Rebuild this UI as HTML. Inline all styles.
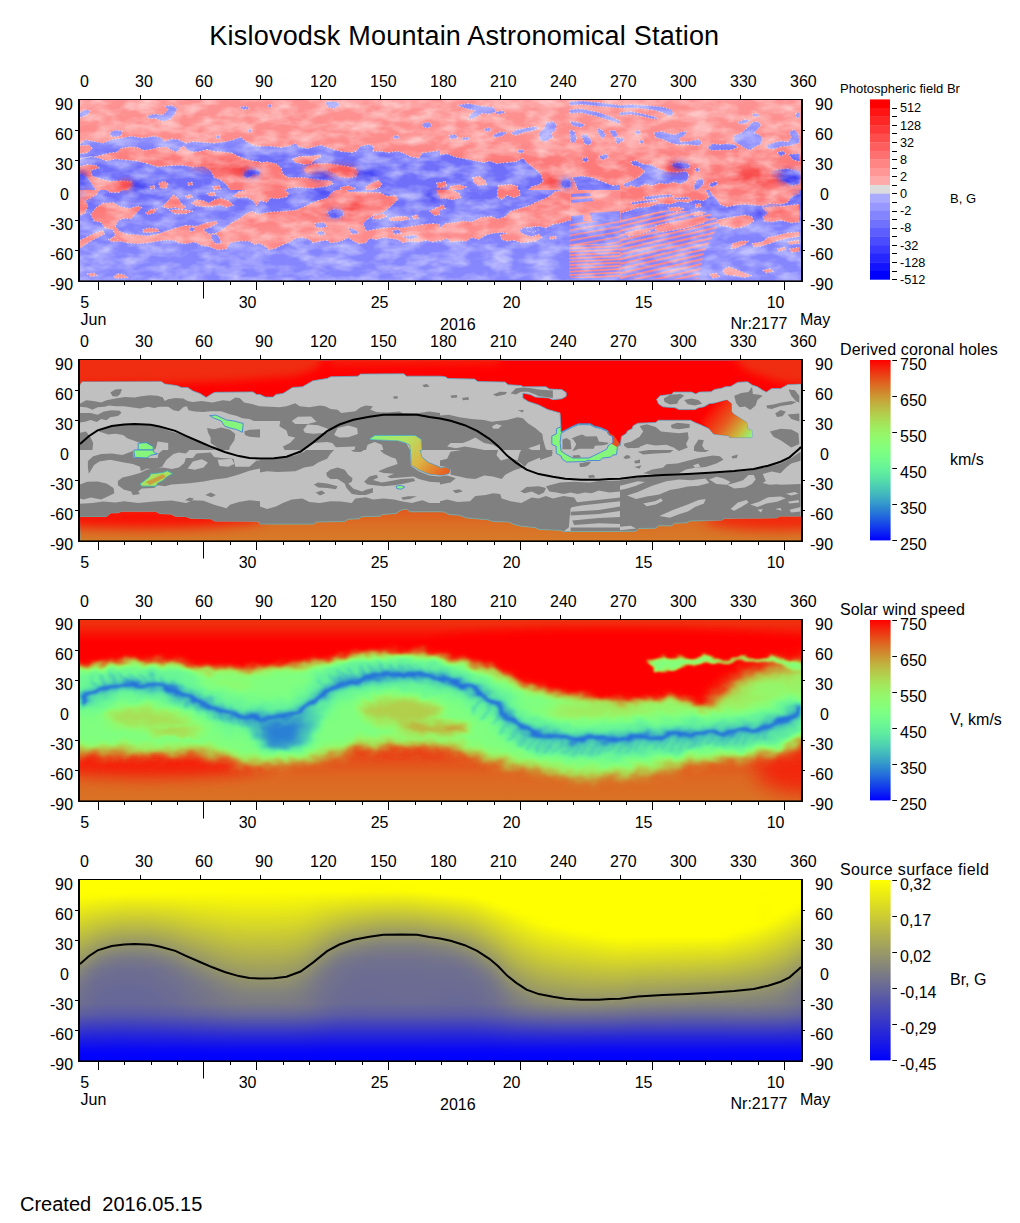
<!DOCTYPE html>
<html><head><meta charset="utf-8"><title>Kislovodsk Mountain Astronomical Station</title>
<style>html,body{margin:0;padding:0;background:#fff}svg{display:block}text{font-family:"Liberation Sans", sans-serif;fill:#000}</style></head><body>
<svg width="1020" height="1223" viewBox="0 0 1020 1223">
<defs>
<linearGradient id="gv" x1="0" y1="0" x2="0" y2="1"><stop offset="0.0000" stop-color="#ff0000"/><stop offset="0.0417" stop-color="#f4210b"/><stop offset="0.0833" stop-color="#ea4215"/><stop offset="0.1250" stop-color="#df6220"/><stop offset="0.1667" stop-color="#d47f2a"/><stop offset="0.2083" stop-color="#ca9b35"/><stop offset="0.2500" stop-color="#bfb440"/><stop offset="0.2917" stop-color="#b5ca4a"/><stop offset="0.3333" stop-color="#aadd55"/><stop offset="0.3750" stop-color="#9fec60"/><stop offset="0.4167" stop-color="#95f66a"/><stop offset="0.4583" stop-color="#8afd75"/><stop offset="0.5000" stop-color="#80ff80"/><stop offset="0.5417" stop-color="#75fd8a"/><stop offset="0.5833" stop-color="#6af695"/><stop offset="0.6250" stop-color="#60ec9f"/><stop offset="0.6667" stop-color="#55ddaa"/><stop offset="0.7083" stop-color="#4acab5"/><stop offset="0.7500" stop-color="#40b4bf"/><stop offset="0.7917" stop-color="#359bca"/><stop offset="0.8333" stop-color="#2a7fd4"/><stop offset="0.8750" stop-color="#2062df"/><stop offset="0.9167" stop-color="#1542ea"/><stop offset="0.9583" stop-color="#0b21f4"/><stop offset="1.0000" stop-color="#0000ff"/></linearGradient>
<linearGradient id="gs" x1="0" y1="0" x2="0" y2="1"><stop offset="0" stop-color="#ffff00"/><stop offset="0.5" stop-color="#808080"/><stop offset="1" stop-color="#0000ff"/></linearGradient>
<clipPath id="c1"><rect x="80" y="100" width="721" height="181"/></clipPath>
<clipPath id="c2"><rect x="80" y="360" width="721" height="181"/></clipPath>
<clipPath id="c3"><rect x="80" y="620" width="721" height="181"/></clipPath>
<clipPath id="c4"><rect x="80" y="880" width="721" height="181"/></clipPath>
</defs>
<rect width="1020" height="1223" fill="#fff"/>
<text x="209.3" y="45.3" font-size="27" text-anchor="start" letter-spacing="0.22">Kislovodsk Mountain Astronomical Station</text>
<defs>
<filter id="fcv" x="0" y="0" width="1" height="1" color-interpolation-filters="sRGB"><feComponentTransfer><feFuncR type="table" tableValues="0.0000 0.0312 0.0625 0.0938 0.1250 0.1562 0.1875 0.2188 0.2500 0.2812 0.3125 0.3438 0.3750 0.4062 0.4375 0.4688 0.5000 0.5312 0.5625 0.5938 0.6250 0.6562 0.6875 0.7188 0.7500 0.7812 0.8125 0.8438 0.8750 0.9062 0.9375 0.9688 1.0000"/><feFuncG type="table" tableValues="0.0000 0.0980 0.1951 0.2903 0.3827 0.4714 0.5556 0.6344 0.7071 0.7730 0.8315 0.8819 0.9239 0.9569 0.9808 0.9952 1.0000 0.9952 0.9808 0.9569 0.9239 0.8819 0.8315 0.7730 0.7071 0.6344 0.5556 0.4714 0.3827 0.2903 0.1951 0.0980 0.0000"/><feFuncB type="table" tableValues="1.0000 0.9688 0.9375 0.9062 0.8750 0.8438 0.8125 0.7812 0.7500 0.7188 0.6875 0.6562 0.6250 0.5938 0.5625 0.5312 0.5000 0.4688 0.4375 0.4062 0.3750 0.3438 0.3125 0.2812 0.2500 0.2188 0.1875 0.1562 0.1250 0.0938 0.0625 0.0312 0.0000"/></feComponentTransfer></filter>
<filter id="b1" x="-50%" y="-50%" width="200%" height="200%" color-interpolation-filters="sRGB"><feGaussianBlur stdDeviation="1"/></filter>
<filter id="b2" x="-50%" y="-50%" width="200%" height="200%" color-interpolation-filters="sRGB"><feGaussianBlur stdDeviation="2"/></filter>
<filter id="b3" x="-50%" y="-50%" width="200%" height="200%" color-interpolation-filters="sRGB"><feGaussianBlur stdDeviation="3"/></filter>
<filter id="b4" x="-50%" y="-50%" width="200%" height="200%" color-interpolation-filters="sRGB"><feGaussianBlur stdDeviation="4"/></filter>
<filter id="b5" x="-50%" y="-50%" width="200%" height="200%" color-interpolation-filters="sRGB"><feGaussianBlur stdDeviation="5"/></filter>
<filter id="b6" x="-50%" y="-50%" width="200%" height="200%" color-interpolation-filters="sRGB"><feGaussianBlur stdDeviation="6"/></filter>
<filter id="b8" x="-50%" y="-50%" width="200%" height="200%" color-interpolation-filters="sRGB"><feGaussianBlur stdDeviation="8"/></filter>
<filter id="b10" x="-50%" y="-50%" width="200%" height="200%" color-interpolation-filters="sRGB"><feGaussianBlur stdDeviation="10"/></filter>
<filter id="b12" x="-50%" y="-50%" width="200%" height="200%" color-interpolation-filters="sRGB"><feGaussianBlur stdDeviation="12"/></filter>
<filter id="b16" x="-50%" y="-50%" width="200%" height="200%" color-interpolation-filters="sRGB"><feGaussianBlur stdDeviation="16"/></filter>
<filter id="b20" x="-50%" y="-50%" width="200%" height="200%" color-interpolation-filters="sRGB"><feGaussianBlur stdDeviation="20"/></filter>
</defs>
<defs>
<linearGradient id="s0" x1="0" y1="0" x2="0" y2="1"><stop offset="0.000" stop-color="#ffff00"/><stop offset="0.062" stop-color="#ffff00"/><stop offset="0.093" stop-color="#fefe01"/><stop offset="0.124" stop-color="#f5f50a"/><stop offset="0.249" stop-color="#d2d22d"/><stop offset="0.497" stop-color="#8a8a75"/><stop offset="0.559" stop-color="#7a7a85"/><stop offset="0.622" stop-color="#73738c"/><stop offset="0.684" stop-color="#6f6f90"/><stop offset="0.746" stop-color="#5e5ea1"/><stop offset="0.870" stop-color="#2323dc"/><stop offset="0.932" stop-color="#0a0af5"/><stop offset="0.963" stop-color="#0303fc"/><stop offset="0.994" stop-color="#0000ff"/></linearGradient>
<linearGradient id="s1" x1="0" y1="0" x2="0" y2="1"><stop offset="0.000" stop-color="#ffff00"/><stop offset="0.062" stop-color="#ffff00"/><stop offset="0.093" stop-color="#fefe01"/><stop offset="0.124" stop-color="#f5f50a"/><stop offset="0.249" stop-color="#d2d22d"/><stop offset="0.497" stop-color="#8a8a75"/><stop offset="0.559" stop-color="#7a7a85"/><stop offset="0.622" stop-color="#73738c"/><stop offset="0.684" stop-color="#6f6f90"/><stop offset="0.746" stop-color="#5e5ea1"/><stop offset="0.870" stop-color="#2323dc"/><stop offset="0.932" stop-color="#0a0af5"/><stop offset="0.963" stop-color="#0303fc"/><stop offset="0.994" stop-color="#0000ff"/></linearGradient>
<linearGradient id="s2" x1="0" y1="0" x2="0" y2="1"><stop offset="0.000" stop-color="#ffff00"/><stop offset="0.062" stop-color="#ffff00"/><stop offset="0.093" stop-color="#fefe01"/><stop offset="0.124" stop-color="#f5f50a"/><stop offset="0.249" stop-color="#d2d22d"/><stop offset="0.497" stop-color="#8a8a75"/><stop offset="0.559" stop-color="#7a7a85"/><stop offset="0.622" stop-color="#73738c"/><stop offset="0.684" stop-color="#6f6f90"/><stop offset="0.746" stop-color="#5e5ea1"/><stop offset="0.870" stop-color="#2323dc"/><stop offset="0.932" stop-color="#0a0af5"/><stop offset="0.963" stop-color="#0303fc"/><stop offset="0.994" stop-color="#0000ff"/></linearGradient>
<linearGradient id="s3" x1="0" y1="0" x2="0" y2="1"><stop offset="0.000" stop-color="#ffff00"/><stop offset="0.062" stop-color="#ffff00"/><stop offset="0.093" stop-color="#fdfd02"/><stop offset="0.124" stop-color="#f4f40b"/><stop offset="0.249" stop-color="#cfcf30"/><stop offset="0.497" stop-color="#83837c"/><stop offset="0.559" stop-color="#767689"/><stop offset="0.622" stop-color="#70708f"/><stop offset="0.684" stop-color="#6d6d92"/><stop offset="0.746" stop-color="#5c5ca3"/><stop offset="0.870" stop-color="#2222dd"/><stop offset="0.932" stop-color="#0a0af5"/><stop offset="0.963" stop-color="#0303fc"/><stop offset="0.994" stop-color="#0000ff"/></linearGradient>
<linearGradient id="s4" x1="0" y1="0" x2="0" y2="1"><stop offset="0.000" stop-color="#ffff00"/><stop offset="0.062" stop-color="#ffff00"/><stop offset="0.093" stop-color="#fcfc03"/><stop offset="0.124" stop-color="#f2f20d"/><stop offset="0.249" stop-color="#c9c936"/><stop offset="0.497" stop-color="#787887"/><stop offset="0.559" stop-color="#6f6f90"/><stop offset="0.622" stop-color="#6b6b94"/><stop offset="0.684" stop-color="#696996"/><stop offset="0.746" stop-color="#5959a6"/><stop offset="0.870" stop-color="#2121de"/><stop offset="0.932" stop-color="#0a0af5"/><stop offset="0.963" stop-color="#0303fc"/><stop offset="0.994" stop-color="#0000ff"/></linearGradient>
<linearGradient id="s5" x1="0" y1="0" x2="0" y2="1"><stop offset="0.000" stop-color="#ffff00"/><stop offset="0.062" stop-color="#ffff00"/><stop offset="0.093" stop-color="#fbfb04"/><stop offset="0.124" stop-color="#f0f00f"/><stop offset="0.249" stop-color="#c5c53a"/><stop offset="0.373" stop-color="#999966"/><stop offset="0.435" stop-color="#82827d"/><stop offset="0.497" stop-color="#72728d"/><stop offset="0.559" stop-color="#6b6b94"/><stop offset="0.622" stop-color="#696996"/><stop offset="0.684" stop-color="#676798"/><stop offset="0.746" stop-color="#5858a7"/><stop offset="0.870" stop-color="#2121de"/><stop offset="0.932" stop-color="#0a0af5"/><stop offset="0.963" stop-color="#0303fc"/><stop offset="0.994" stop-color="#0000ff"/></linearGradient>
<linearGradient id="s6" x1="0" y1="0" x2="0" y2="1"><stop offset="0.000" stop-color="#ffff00"/><stop offset="0.062" stop-color="#ffff00"/><stop offset="0.078" stop-color="#ffff00"/><stop offset="0.093" stop-color="#fafa05"/><stop offset="0.124" stop-color="#efef10"/><stop offset="0.249" stop-color="#c2c23d"/><stop offset="0.373" stop-color="#94946b"/><stop offset="0.435" stop-color="#7d7d82"/><stop offset="0.497" stop-color="#70708f"/><stop offset="0.622" stop-color="#686897"/><stop offset="0.684" stop-color="#666699"/><stop offset="0.746" stop-color="#5757a8"/><stop offset="0.870" stop-color="#2121de"/><stop offset="0.932" stop-color="#0a0af5"/><stop offset="0.963" stop-color="#0303fc"/><stop offset="0.994" stop-color="#0000ff"/></linearGradient>
<linearGradient id="s7" x1="0" y1="0" x2="0" y2="1"><stop offset="0.000" stop-color="#ffff00"/><stop offset="0.062" stop-color="#ffff00"/><stop offset="0.078" stop-color="#ffff00"/><stop offset="0.093" stop-color="#f9f906"/><stop offset="0.124" stop-color="#eded12"/><stop offset="0.249" stop-color="#bfbf40"/><stop offset="0.373" stop-color="#90906f"/><stop offset="0.435" stop-color="#7a7a85"/><stop offset="0.497" stop-color="#6e6e91"/><stop offset="0.622" stop-color="#676798"/><stop offset="0.684" stop-color="#666699"/><stop offset="0.746" stop-color="#5757a8"/><stop offset="0.870" stop-color="#2020df"/><stop offset="0.932" stop-color="#0909f6"/><stop offset="0.963" stop-color="#0303fc"/><stop offset="0.994" stop-color="#0000ff"/></linearGradient>
<linearGradient id="s8" x1="0" y1="0" x2="0" y2="1"><stop offset="0.000" stop-color="#ffff00"/><stop offset="0.062" stop-color="#ffff00"/><stop offset="0.078" stop-color="#fefe01"/><stop offset="0.093" stop-color="#f8f807"/><stop offset="0.124" stop-color="#ecec13"/><stop offset="0.249" stop-color="#bdbd42"/><stop offset="0.373" stop-color="#8e8e71"/><stop offset="0.435" stop-color="#787887"/><stop offset="0.497" stop-color="#6d6d92"/><stop offset="0.622" stop-color="#676798"/><stop offset="0.684" stop-color="#666699"/><stop offset="0.746" stop-color="#5757a8"/><stop offset="0.870" stop-color="#2020df"/><stop offset="0.932" stop-color="#0909f6"/><stop offset="0.963" stop-color="#0303fc"/><stop offset="0.994" stop-color="#0000ff"/></linearGradient>
<linearGradient id="s9" x1="0" y1="0" x2="0" y2="1"><stop offset="0.000" stop-color="#ffff00"/><stop offset="0.062" stop-color="#ffff00"/><stop offset="0.093" stop-color="#f7f708"/><stop offset="0.124" stop-color="#ebeb14"/><stop offset="0.249" stop-color="#bdbd42"/><stop offset="0.373" stop-color="#8d8d72"/><stop offset="0.435" stop-color="#787887"/><stop offset="0.497" stop-color="#6d6d92"/><stop offset="0.622" stop-color="#676798"/><stop offset="0.684" stop-color="#666699"/><stop offset="0.746" stop-color="#5757a8"/><stop offset="0.870" stop-color="#2121de"/><stop offset="0.932" stop-color="#0909f6"/><stop offset="0.963" stop-color="#0303fc"/><stop offset="0.994" stop-color="#0000ff"/></linearGradient>
<linearGradient id="s10" x1="0" y1="0" x2="0" y2="1"><stop offset="0.000" stop-color="#ffff00"/><stop offset="0.062" stop-color="#ffff00"/><stop offset="0.078" stop-color="#fdfd02"/><stop offset="0.093" stop-color="#f7f708"/><stop offset="0.124" stop-color="#ebeb14"/><stop offset="0.249" stop-color="#bdbd42"/><stop offset="0.373" stop-color="#8e8e71"/><stop offset="0.435" stop-color="#797986"/><stop offset="0.497" stop-color="#6e6e91"/><stop offset="0.622" stop-color="#686897"/><stop offset="0.684" stop-color="#666699"/><stop offset="0.746" stop-color="#5757a8"/><stop offset="0.870" stop-color="#2121de"/><stop offset="0.932" stop-color="#0a0af5"/><stop offset="0.963" stop-color="#0303fc"/><stop offset="0.994" stop-color="#0000ff"/></linearGradient>
<linearGradient id="s11" x1="0" y1="0" x2="0" y2="1"><stop offset="0.000" stop-color="#ffff00"/><stop offset="0.062" stop-color="#ffff00"/><stop offset="0.078" stop-color="#fdfd02"/><stop offset="0.093" stop-color="#f7f708"/><stop offset="0.124" stop-color="#ebeb14"/><stop offset="0.249" stop-color="#bdbd42"/><stop offset="0.373" stop-color="#8e8e71"/><stop offset="0.435" stop-color="#797986"/><stop offset="0.497" stop-color="#6e6e91"/><stop offset="0.622" stop-color="#686897"/><stop offset="0.684" stop-color="#676798"/><stop offset="0.746" stop-color="#5858a7"/><stop offset="0.870" stop-color="#2121de"/><stop offset="0.932" stop-color="#0a0af5"/><stop offset="0.963" stop-color="#0303fc"/><stop offset="0.994" stop-color="#0000ff"/></linearGradient>
<linearGradient id="s12" x1="0" y1="0" x2="0" y2="1"><stop offset="0.000" stop-color="#ffff00"/><stop offset="0.062" stop-color="#ffff00"/><stop offset="0.093" stop-color="#f7f708"/><stop offset="0.124" stop-color="#ecec13"/><stop offset="0.249" stop-color="#bfbf40"/><stop offset="0.373" stop-color="#91916e"/><stop offset="0.435" stop-color="#7c7c83"/><stop offset="0.497" stop-color="#70708f"/><stop offset="0.622" stop-color="#696996"/><stop offset="0.684" stop-color="#686897"/><stop offset="0.746" stop-color="#5858a7"/><stop offset="0.870" stop-color="#2121de"/><stop offset="0.932" stop-color="#0a0af5"/><stop offset="0.963" stop-color="#0303fc"/><stop offset="0.994" stop-color="#0000ff"/></linearGradient>
<linearGradient id="s13" x1="0" y1="0" x2="0" y2="1"><stop offset="0.000" stop-color="#ffff00"/><stop offset="0.062" stop-color="#ffff00"/><stop offset="0.093" stop-color="#f8f807"/><stop offset="0.124" stop-color="#eded12"/><stop offset="0.249" stop-color="#c1c13e"/><stop offset="0.373" stop-color="#969669"/><stop offset="0.435" stop-color="#80807f"/><stop offset="0.497" stop-color="#72728d"/><stop offset="0.622" stop-color="#6b6b94"/><stop offset="0.684" stop-color="#696996"/><stop offset="0.746" stop-color="#5a5aa5"/><stop offset="0.870" stop-color="#2222dd"/><stop offset="0.932" stop-color="#0a0af5"/><stop offset="0.963" stop-color="#0303fc"/><stop offset="0.994" stop-color="#0000ff"/></linearGradient>
<linearGradient id="s14" x1="0" y1="0" x2="0" y2="1"><stop offset="0.000" stop-color="#ffff00"/><stop offset="0.062" stop-color="#ffff00"/><stop offset="0.093" stop-color="#f8f807"/><stop offset="0.124" stop-color="#eded12"/><stop offset="0.249" stop-color="#c3c33c"/><stop offset="0.373" stop-color="#9a9a65"/><stop offset="0.435" stop-color="#84847b"/><stop offset="0.497" stop-color="#75758a"/><stop offset="0.559" stop-color="#6f6f90"/><stop offset="0.622" stop-color="#6c6c93"/><stop offset="0.684" stop-color="#6a6a95"/><stop offset="0.746" stop-color="#5b5ba4"/><stop offset="0.870" stop-color="#2222dd"/><stop offset="0.932" stop-color="#0a0af5"/><stop offset="0.963" stop-color="#0303fc"/><stop offset="0.994" stop-color="#0000ff"/></linearGradient>
<linearGradient id="s15" x1="0" y1="0" x2="0" y2="1"><stop offset="0.000" stop-color="#ffff00"/><stop offset="0.062" stop-color="#ffff00"/><stop offset="0.093" stop-color="#f8f807"/><stop offset="0.124" stop-color="#eeee11"/><stop offset="0.249" stop-color="#c7c738"/><stop offset="0.373" stop-color="#9f9f60"/><stop offset="0.435" stop-color="#8a8a75"/><stop offset="0.497" stop-color="#797986"/><stop offset="0.559" stop-color="#71718e"/><stop offset="0.622" stop-color="#6e6e91"/><stop offset="0.684" stop-color="#6c6c93"/><stop offset="0.746" stop-color="#5c5ca3"/><stop offset="0.870" stop-color="#2222dd"/><stop offset="0.932" stop-color="#0a0af5"/><stop offset="0.963" stop-color="#0303fc"/><stop offset="0.994" stop-color="#0000ff"/></linearGradient>
<linearGradient id="s16" x1="0" y1="0" x2="0" y2="1"><stop offset="0.000" stop-color="#ffff00"/><stop offset="0.062" stop-color="#ffff00"/><stop offset="0.093" stop-color="#f9f906"/><stop offset="0.124" stop-color="#efef10"/><stop offset="0.249" stop-color="#caca35"/><stop offset="0.497" stop-color="#7f7f80"/><stop offset="0.559" stop-color="#75758a"/><stop offset="0.622" stop-color="#71718e"/><stop offset="0.684" stop-color="#6e6e91"/><stop offset="0.746" stop-color="#5e5ea1"/><stop offset="0.870" stop-color="#2323dc"/><stop offset="0.932" stop-color="#0a0af5"/><stop offset="0.963" stop-color="#0303fc"/><stop offset="0.994" stop-color="#0000ff"/></linearGradient>
<linearGradient id="s17" x1="0" y1="0" x2="0" y2="1"><stop offset="0.000" stop-color="#ffff00"/><stop offset="0.062" stop-color="#ffff00"/><stop offset="0.093" stop-color="#f9f906"/><stop offset="0.124" stop-color="#f0f00f"/><stop offset="0.249" stop-color="#cdcd32"/><stop offset="0.497" stop-color="#84847b"/><stop offset="0.559" stop-color="#787887"/><stop offset="0.622" stop-color="#73738c"/><stop offset="0.684" stop-color="#70708f"/><stop offset="0.746" stop-color="#5f5fa0"/><stop offset="0.870" stop-color="#2424db"/><stop offset="0.932" stop-color="#0a0af5"/><stop offset="0.963" stop-color="#0303fc"/><stop offset="0.994" stop-color="#0000ff"/></linearGradient>
<linearGradient id="s18" x1="0" y1="0" x2="0" y2="1"><stop offset="0.000" stop-color="#ffff00"/><stop offset="0.062" stop-color="#ffff00"/><stop offset="0.124" stop-color="#f1f10e"/><stop offset="0.249" stop-color="#cfcf30"/><stop offset="0.497" stop-color="#8a8a75"/><stop offset="0.559" stop-color="#7c7c83"/><stop offset="0.622" stop-color="#75758a"/><stop offset="0.684" stop-color="#72728d"/><stop offset="0.746" stop-color="#60609f"/><stop offset="0.870" stop-color="#2424db"/><stop offset="0.932" stop-color="#0b0bf4"/><stop offset="0.963" stop-color="#0303fc"/><stop offset="0.994" stop-color="#0000ff"/></linearGradient>
<linearGradient id="s19" x1="0" y1="0" x2="0" y2="1"><stop offset="0.000" stop-color="#ffff00"/><stop offset="0.062" stop-color="#ffff00"/><stop offset="0.124" stop-color="#f1f10e"/><stop offset="0.249" stop-color="#d1d12e"/><stop offset="0.497" stop-color="#90906f"/><stop offset="0.559" stop-color="#80807f"/><stop offset="0.622" stop-color="#787887"/><stop offset="0.684" stop-color="#74748b"/><stop offset="0.746" stop-color="#62629d"/><stop offset="0.870" stop-color="#2525da"/><stop offset="0.932" stop-color="#0b0bf4"/><stop offset="0.963" stop-color="#0303fc"/><stop offset="0.994" stop-color="#0000ff"/></linearGradient>
<linearGradient id="s20" x1="0" y1="0" x2="0" y2="1"><stop offset="0.000" stop-color="#ffff00"/><stop offset="0.062" stop-color="#ffff00"/><stop offset="0.124" stop-color="#f2f20d"/><stop offset="0.249" stop-color="#d3d32c"/><stop offset="0.497" stop-color="#95956a"/><stop offset="0.559" stop-color="#85857a"/><stop offset="0.622" stop-color="#7b7b84"/><stop offset="0.684" stop-color="#767689"/><stop offset="0.746" stop-color="#63639c"/><stop offset="0.870" stop-color="#2525da"/><stop offset="0.932" stop-color="#0b0bf4"/><stop offset="0.963" stop-color="#0303fc"/><stop offset="0.994" stop-color="#0000ff"/></linearGradient>
<linearGradient id="s21" x1="0" y1="0" x2="0" y2="1"><stop offset="0.000" stop-color="#ffff00"/><stop offset="0.062" stop-color="#ffff00"/><stop offset="0.124" stop-color="#f2f20d"/><stop offset="0.249" stop-color="#d5d52a"/><stop offset="0.497" stop-color="#999966"/><stop offset="0.559" stop-color="#898976"/><stop offset="0.622" stop-color="#7e7e81"/><stop offset="0.684" stop-color="#777788"/><stop offset="0.746" stop-color="#65659a"/><stop offset="0.870" stop-color="#2525da"/><stop offset="0.932" stop-color="#0b0bf4"/><stop offset="0.963" stop-color="#0303fc"/><stop offset="0.994" stop-color="#0000ff"/></linearGradient>
<linearGradient id="s22" x1="0" y1="0" x2="0" y2="1"><stop offset="0.000" stop-color="#ffff00"/><stop offset="0.062" stop-color="#ffff00"/><stop offset="0.124" stop-color="#f3f30c"/><stop offset="0.249" stop-color="#d6d629"/><stop offset="0.497" stop-color="#9c9c63"/><stop offset="0.622" stop-color="#80807f"/><stop offset="0.684" stop-color="#797986"/><stop offset="0.746" stop-color="#666699"/><stop offset="0.870" stop-color="#2626d9"/><stop offset="0.932" stop-color="#0b0bf4"/><stop offset="0.963" stop-color="#0303fc"/><stop offset="0.994" stop-color="#0000ff"/></linearGradient>
<linearGradient id="s23" x1="0" y1="0" x2="0" y2="1"><stop offset="0.000" stop-color="#ffff00"/><stop offset="0.062" stop-color="#ffff00"/><stop offset="0.124" stop-color="#f3f30c"/><stop offset="0.249" stop-color="#d7d728"/><stop offset="0.497" stop-color="#9e9e61"/><stop offset="0.622" stop-color="#82827d"/><stop offset="0.684" stop-color="#7a7a85"/><stop offset="0.746" stop-color="#666699"/><stop offset="0.870" stop-color="#2626d9"/><stop offset="0.932" stop-color="#0b0bf4"/><stop offset="0.963" stop-color="#0303fc"/><stop offset="0.994" stop-color="#0000ff"/></linearGradient>
<linearGradient id="s24" x1="0" y1="0" x2="0" y2="1"><stop offset="0.000" stop-color="#ffff00"/><stop offset="0.062" stop-color="#ffff00"/><stop offset="0.124" stop-color="#f3f30c"/><stop offset="0.249" stop-color="#d7d728"/><stop offset="0.497" stop-color="#9f9f60"/><stop offset="0.622" stop-color="#83837c"/><stop offset="0.684" stop-color="#7a7a85"/><stop offset="0.746" stop-color="#666699"/><stop offset="0.870" stop-color="#2626d9"/><stop offset="0.932" stop-color="#0b0bf4"/><stop offset="0.963" stop-color="#0303fc"/><stop offset="0.994" stop-color="#0000ff"/></linearGradient>
<linearGradient id="s25" x1="0" y1="0" x2="0" y2="1"><stop offset="0.000" stop-color="#ffff00"/><stop offset="0.062" stop-color="#ffff00"/><stop offset="0.124" stop-color="#f3f30c"/><stop offset="0.249" stop-color="#d7d728"/><stop offset="0.497" stop-color="#a0a05f"/><stop offset="0.622" stop-color="#83837c"/><stop offset="0.684" stop-color="#7a7a85"/><stop offset="0.746" stop-color="#666699"/><stop offset="0.870" stop-color="#2626d9"/><stop offset="0.932" stop-color="#0b0bf4"/><stop offset="0.963" stop-color="#0303fc"/><stop offset="0.994" stop-color="#0000ff"/></linearGradient>
<linearGradient id="s26" x1="0" y1="0" x2="0" y2="1"><stop offset="0.000" stop-color="#ffff00"/><stop offset="0.062" stop-color="#ffff00"/><stop offset="0.124" stop-color="#f3f30c"/><stop offset="0.249" stop-color="#d7d728"/><stop offset="0.497" stop-color="#9f9f60"/><stop offset="0.622" stop-color="#83837c"/><stop offset="0.684" stop-color="#7a7a85"/><stop offset="0.746" stop-color="#666699"/><stop offset="0.870" stop-color="#2626d9"/><stop offset="0.932" stop-color="#0b0bf4"/><stop offset="0.963" stop-color="#0303fc"/><stop offset="0.994" stop-color="#0000ff"/></linearGradient>
<linearGradient id="s27" x1="0" y1="0" x2="0" y2="1"><stop offset="0.000" stop-color="#ffff00"/><stop offset="0.062" stop-color="#ffff00"/><stop offset="0.124" stop-color="#f3f30c"/><stop offset="0.249" stop-color="#d7d728"/><stop offset="0.497" stop-color="#9f9f60"/><stop offset="0.622" stop-color="#83837c"/><stop offset="0.684" stop-color="#7a7a85"/><stop offset="0.746" stop-color="#666699"/><stop offset="0.870" stop-color="#2626d9"/><stop offset="0.932" stop-color="#0b0bf4"/><stop offset="0.963" stop-color="#0303fc"/><stop offset="0.994" stop-color="#0000ff"/></linearGradient>
<linearGradient id="s28" x1="0" y1="0" x2="0" y2="1"><stop offset="0.000" stop-color="#ffff00"/><stop offset="0.062" stop-color="#ffff00"/><stop offset="0.124" stop-color="#f2f20d"/><stop offset="0.249" stop-color="#d6d629"/><stop offset="0.497" stop-color="#9e9e61"/><stop offset="0.622" stop-color="#82827d"/><stop offset="0.684" stop-color="#7a7a85"/><stop offset="0.746" stop-color="#666699"/><stop offset="0.870" stop-color="#2626d9"/><stop offset="0.932" stop-color="#0b0bf4"/><stop offset="0.963" stop-color="#0303fc"/><stop offset="0.994" stop-color="#0000ff"/></linearGradient>
<linearGradient id="s29" x1="0" y1="0" x2="0" y2="1"><stop offset="0.000" stop-color="#ffff00"/><stop offset="0.062" stop-color="#ffff00"/><stop offset="0.124" stop-color="#f2f20d"/><stop offset="0.249" stop-color="#d5d52a"/><stop offset="0.497" stop-color="#9b9b64"/><stop offset="0.622" stop-color="#80807f"/><stop offset="0.684" stop-color="#797986"/><stop offset="0.746" stop-color="#666699"/><stop offset="0.870" stop-color="#2626d9"/><stop offset="0.932" stop-color="#0b0bf4"/><stop offset="0.963" stop-color="#0303fc"/><stop offset="0.994" stop-color="#0000ff"/></linearGradient>
<linearGradient id="s30" x1="0" y1="0" x2="0" y2="1"><stop offset="0.000" stop-color="#ffff00"/><stop offset="0.062" stop-color="#ffff00"/><stop offset="0.124" stop-color="#f1f10e"/><stop offset="0.249" stop-color="#d3d32c"/><stop offset="0.497" stop-color="#979768"/><stop offset="0.559" stop-color="#888877"/><stop offset="0.622" stop-color="#7e7e81"/><stop offset="0.684" stop-color="#787887"/><stop offset="0.746" stop-color="#65659a"/><stop offset="0.870" stop-color="#2626d9"/><stop offset="0.932" stop-color="#0b0bf4"/><stop offset="0.963" stop-color="#0303fc"/><stop offset="0.994" stop-color="#0000ff"/></linearGradient>
<linearGradient id="s31" x1="0" y1="0" x2="0" y2="1"><stop offset="0.000" stop-color="#ffff00"/><stop offset="0.062" stop-color="#ffff00"/><stop offset="0.124" stop-color="#f0f00f"/><stop offset="0.249" stop-color="#d0d02f"/><stop offset="0.497" stop-color="#8f8f70"/><stop offset="0.559" stop-color="#81817e"/><stop offset="0.622" stop-color="#797986"/><stop offset="0.684" stop-color="#75758a"/><stop offset="0.715" stop-color="#6e6e91"/><stop offset="0.746" stop-color="#63639c"/><stop offset="0.870" stop-color="#2525da"/><stop offset="0.932" stop-color="#0b0bf4"/><stop offset="0.963" stop-color="#0303fc"/><stop offset="0.994" stop-color="#0000ff"/></linearGradient>
<linearGradient id="s32" x1="0" y1="0" x2="0" y2="1"><stop offset="0.000" stop-color="#ffff00"/><stop offset="0.062" stop-color="#ffff00"/><stop offset="0.124" stop-color="#eeee11"/><stop offset="0.249" stop-color="#cbcb34"/><stop offset="0.497" stop-color="#85857a"/><stop offset="0.559" stop-color="#7a7a85"/><stop offset="0.622" stop-color="#75758a"/><stop offset="0.684" stop-color="#72728d"/><stop offset="0.715" stop-color="#6b6b94"/><stop offset="0.746" stop-color="#61619e"/><stop offset="0.870" stop-color="#2424db"/><stop offset="0.932" stop-color="#0b0bf4"/><stop offset="0.963" stop-color="#0303fc"/><stop offset="0.994" stop-color="#0000ff"/></linearGradient>
<linearGradient id="s33" x1="0" y1="0" x2="0" y2="1"><stop offset="0.000" stop-color="#ffff00"/><stop offset="0.062" stop-color="#ffff00"/><stop offset="0.124" stop-color="#ecec13"/><stop offset="0.249" stop-color="#c6c639"/><stop offset="0.373" stop-color="#a0a05f"/><stop offset="0.435" stop-color="#8c8c73"/><stop offset="0.497" stop-color="#7b7b84"/><stop offset="0.559" stop-color="#74748b"/><stop offset="0.622" stop-color="#71718e"/><stop offset="0.684" stop-color="#6e6e91"/><stop offset="0.746" stop-color="#5e5ea1"/><stop offset="0.870" stop-color="#2323dc"/><stop offset="0.932" stop-color="#0a0af5"/><stop offset="0.963" stop-color="#0303fc"/><stop offset="0.994" stop-color="#0000ff"/></linearGradient>
<linearGradient id="s34" x1="0" y1="0" x2="0" y2="1"><stop offset="0.000" stop-color="#ffff00"/><stop offset="0.062" stop-color="#ffff00"/><stop offset="0.124" stop-color="#eaea15"/><stop offset="0.249" stop-color="#c1c13e"/><stop offset="0.373" stop-color="#979768"/><stop offset="0.435" stop-color="#82827d"/><stop offset="0.497" stop-color="#75758a"/><stop offset="0.622" stop-color="#6e6e91"/><stop offset="0.684" stop-color="#6c6c93"/><stop offset="0.746" stop-color="#5c5ca3"/><stop offset="0.870" stop-color="#2222dd"/><stop offset="0.932" stop-color="#0a0af5"/><stop offset="0.963" stop-color="#0303fc"/><stop offset="0.994" stop-color="#0000ff"/></linearGradient>
<linearGradient id="s35" x1="0" y1="0" x2="0" y2="1"><stop offset="0.000" stop-color="#ffff00"/><stop offset="0.062" stop-color="#ffff00"/><stop offset="0.124" stop-color="#e9e916"/><stop offset="0.249" stop-color="#bcbc43"/><stop offset="0.373" stop-color="#8e8e71"/><stop offset="0.435" stop-color="#7b7b84"/><stop offset="0.497" stop-color="#71718e"/><stop offset="0.622" stop-color="#6c6c93"/><stop offset="0.684" stop-color="#6a6a95"/><stop offset="0.746" stop-color="#5a5aa5"/><stop offset="0.870" stop-color="#2222dd"/><stop offset="0.932" stop-color="#0a0af5"/><stop offset="0.963" stop-color="#0303fc"/><stop offset="0.994" stop-color="#0000ff"/></linearGradient>
<linearGradient id="s36" x1="0" y1="0" x2="0" y2="1"><stop offset="0.000" stop-color="#ffff00"/><stop offset="0.062" stop-color="#ffff00"/><stop offset="0.124" stop-color="#e7e718"/><stop offset="0.249" stop-color="#b8b847"/><stop offset="0.373" stop-color="#898976"/><stop offset="0.435" stop-color="#777788"/><stop offset="0.497" stop-color="#6f6f90"/><stop offset="0.622" stop-color="#6b6b94"/><stop offset="0.684" stop-color="#696996"/><stop offset="0.746" stop-color="#5a5aa5"/><stop offset="0.870" stop-color="#2222dd"/><stop offset="0.932" stop-color="#0a0af5"/><stop offset="0.963" stop-color="#0303fc"/><stop offset="0.994" stop-color="#0000ff"/></linearGradient>
<linearGradient id="s37" x1="0" y1="0" x2="0" y2="1"><stop offset="0.000" stop-color="#ffff00"/><stop offset="0.062" stop-color="#fefe01"/><stop offset="0.124" stop-color="#e6e619"/><stop offset="0.249" stop-color="#b4b44b"/><stop offset="0.373" stop-color="#84847b"/><stop offset="0.435" stop-color="#75758a"/><stop offset="0.497" stop-color="#6e6e91"/><stop offset="0.622" stop-color="#6a6a95"/><stop offset="0.684" stop-color="#696996"/><stop offset="0.746" stop-color="#5959a6"/><stop offset="0.870" stop-color="#2222dd"/><stop offset="0.932" stop-color="#0a0af5"/><stop offset="0.963" stop-color="#0303fc"/><stop offset="0.994" stop-color="#0000ff"/></linearGradient>
<linearGradient id="s38" x1="0" y1="0" x2="0" y2="1"><stop offset="0.000" stop-color="#ffff00"/><stop offset="0.062" stop-color="#fefe01"/><stop offset="0.124" stop-color="#e5e51a"/><stop offset="0.249" stop-color="#b2b24d"/><stop offset="0.373" stop-color="#82827d"/><stop offset="0.435" stop-color="#73738c"/><stop offset="0.497" stop-color="#6d6d92"/><stop offset="0.622" stop-color="#6a6a95"/><stop offset="0.684" stop-color="#696996"/><stop offset="0.746" stop-color="#5959a6"/><stop offset="0.870" stop-color="#2222dd"/><stop offset="0.932" stop-color="#0a0af5"/><stop offset="0.963" stop-color="#0303fc"/><stop offset="0.994" stop-color="#0000ff"/></linearGradient>
<linearGradient id="s39" x1="0" y1="0" x2="0" y2="1"><stop offset="0.000" stop-color="#ffff00"/><stop offset="0.062" stop-color="#fdfd02"/><stop offset="0.124" stop-color="#e3e31c"/><stop offset="0.249" stop-color="#afaf50"/><stop offset="0.311" stop-color="#95956a"/><stop offset="0.373" stop-color="#7f7f80"/><stop offset="0.435" stop-color="#72728d"/><stop offset="0.497" stop-color="#6d6d92"/><stop offset="0.622" stop-color="#6a6a95"/><stop offset="0.684" stop-color="#696996"/><stop offset="0.746" stop-color="#5a5aa5"/><stop offset="0.870" stop-color="#2222dd"/><stop offset="0.932" stop-color="#0a0af5"/><stop offset="0.963" stop-color="#0303fc"/><stop offset="0.994" stop-color="#0000ff"/></linearGradient>
<linearGradient id="s40" x1="0" y1="0" x2="0" y2="1"><stop offset="0.000" stop-color="#ffff00"/><stop offset="0.062" stop-color="#fdfd02"/><stop offset="0.124" stop-color="#e2e21d"/><stop offset="0.249" stop-color="#adad52"/><stop offset="0.311" stop-color="#93936c"/><stop offset="0.373" stop-color="#7e7e81"/><stop offset="0.435" stop-color="#72728d"/><stop offset="0.497" stop-color="#6d6d92"/><stop offset="0.622" stop-color="#6a6a95"/><stop offset="0.684" stop-color="#696996"/><stop offset="0.746" stop-color="#5a5aa5"/><stop offset="0.870" stop-color="#2222dd"/><stop offset="0.932" stop-color="#0a0af5"/><stop offset="0.963" stop-color="#0303fc"/><stop offset="0.994" stop-color="#0000ff"/></linearGradient>
<linearGradient id="s41" x1="0" y1="0" x2="0" y2="1"><stop offset="0.000" stop-color="#ffff00"/><stop offset="0.062" stop-color="#fdfd02"/><stop offset="0.124" stop-color="#e2e21d"/><stop offset="0.249" stop-color="#acac53"/><stop offset="0.311" stop-color="#92926d"/><stop offset="0.373" stop-color="#7d7d82"/><stop offset="0.435" stop-color="#72728d"/><stop offset="0.497" stop-color="#6d6d92"/><stop offset="0.622" stop-color="#6b6b94"/><stop offset="0.684" stop-color="#696996"/><stop offset="0.746" stop-color="#5a5aa5"/><stop offset="0.870" stop-color="#2222dd"/><stop offset="0.932" stop-color="#0a0af5"/><stop offset="0.963" stop-color="#0303fc"/><stop offset="0.994" stop-color="#0000ff"/></linearGradient>
<linearGradient id="s42" x1="0" y1="0" x2="0" y2="1"><stop offset="0.000" stop-color="#ffff00"/><stop offset="0.031" stop-color="#ffff00"/><stop offset="0.047" stop-color="#ffff00"/><stop offset="0.062" stop-color="#fcfc03"/><stop offset="0.124" stop-color="#e1e11e"/><stop offset="0.249" stop-color="#acac53"/><stop offset="0.311" stop-color="#92926d"/><stop offset="0.373" stop-color="#7d7d82"/><stop offset="0.435" stop-color="#72728d"/><stop offset="0.497" stop-color="#6d6d92"/><stop offset="0.622" stop-color="#6b6b94"/><stop offset="0.684" stop-color="#6a6a95"/><stop offset="0.746" stop-color="#5a5aa5"/><stop offset="0.870" stop-color="#2222dd"/><stop offset="0.932" stop-color="#0a0af5"/><stop offset="0.963" stop-color="#0303fc"/><stop offset="0.994" stop-color="#0000ff"/></linearGradient>
<linearGradient id="s43" x1="0" y1="0" x2="0" y2="1"><stop offset="0.000" stop-color="#ffff00"/><stop offset="0.062" stop-color="#fdfd02"/><stop offset="0.124" stop-color="#e2e21d"/><stop offset="0.249" stop-color="#acac53"/><stop offset="0.311" stop-color="#92926d"/><stop offset="0.373" stop-color="#7d7d82"/><stop offset="0.435" stop-color="#72728d"/><stop offset="0.497" stop-color="#6d6d92"/><stop offset="0.622" stop-color="#6b6b94"/><stop offset="0.684" stop-color="#6a6a95"/><stop offset="0.746" stop-color="#5a5aa5"/><stop offset="0.870" stop-color="#2222dd"/><stop offset="0.932" stop-color="#0a0af5"/><stop offset="0.963" stop-color="#0303fc"/><stop offset="0.994" stop-color="#0000ff"/></linearGradient>
<linearGradient id="s44" x1="0" y1="0" x2="0" y2="1"><stop offset="0.000" stop-color="#ffff00"/><stop offset="0.062" stop-color="#fefe01"/><stop offset="0.124" stop-color="#e3e31c"/><stop offset="0.249" stop-color="#adad52"/><stop offset="0.311" stop-color="#92926d"/><stop offset="0.373" stop-color="#7d7d82"/><stop offset="0.435" stop-color="#72728d"/><stop offset="0.497" stop-color="#6d6d92"/><stop offset="0.622" stop-color="#6b6b94"/><stop offset="0.684" stop-color="#6a6a95"/><stop offset="0.746" stop-color="#5a5aa5"/><stop offset="0.870" stop-color="#2222dd"/><stop offset="0.932" stop-color="#0a0af5"/><stop offset="0.963" stop-color="#0303fc"/><stop offset="0.994" stop-color="#0000ff"/></linearGradient>
<linearGradient id="s45" x1="0" y1="0" x2="0" y2="1"><stop offset="0.000" stop-color="#ffff00"/><stop offset="0.062" stop-color="#ffff00"/><stop offset="0.124" stop-color="#e5e51a"/><stop offset="0.249" stop-color="#aeae51"/><stop offset="0.311" stop-color="#93936c"/><stop offset="0.373" stop-color="#7e7e81"/><stop offset="0.435" stop-color="#72728d"/><stop offset="0.497" stop-color="#6d6d92"/><stop offset="0.622" stop-color="#6b6b94"/><stop offset="0.684" stop-color="#6a6a95"/><stop offset="0.746" stop-color="#5a5aa5"/><stop offset="0.870" stop-color="#2222dd"/><stop offset="0.932" stop-color="#0a0af5"/><stop offset="0.963" stop-color="#0303fc"/><stop offset="0.994" stop-color="#0000ff"/></linearGradient>
<linearGradient id="s46" x1="0" y1="0" x2="0" y2="1"><stop offset="0.000" stop-color="#ffff00"/><stop offset="0.062" stop-color="#ffff00"/><stop offset="0.124" stop-color="#e7e718"/><stop offset="0.249" stop-color="#b1b14e"/><stop offset="0.311" stop-color="#969669"/><stop offset="0.373" stop-color="#80807f"/><stop offset="0.435" stop-color="#73738c"/><stop offset="0.497" stop-color="#6e6e91"/><stop offset="0.622" stop-color="#6b6b94"/><stop offset="0.684" stop-color="#6a6a95"/><stop offset="0.746" stop-color="#5a5aa5"/><stop offset="0.870" stop-color="#2222dd"/><stop offset="0.932" stop-color="#0a0af5"/><stop offset="0.963" stop-color="#0303fc"/><stop offset="0.994" stop-color="#0000ff"/></linearGradient>
<linearGradient id="s47" x1="0" y1="0" x2="0" y2="1"><stop offset="0.000" stop-color="#ffff00"/><stop offset="0.062" stop-color="#ffff00"/><stop offset="0.078" stop-color="#fcfc03"/><stop offset="0.093" stop-color="#f6f609"/><stop offset="0.124" stop-color="#e8e817"/><stop offset="0.249" stop-color="#b4b44b"/><stop offset="0.373" stop-color="#82827d"/><stop offset="0.435" stop-color="#74748b"/><stop offset="0.497" stop-color="#6e6e91"/><stop offset="0.622" stop-color="#6b6b94"/><stop offset="0.684" stop-color="#696996"/><stop offset="0.746" stop-color="#5a5aa5"/><stop offset="0.870" stop-color="#2222dd"/><stop offset="0.932" stop-color="#0a0af5"/><stop offset="0.963" stop-color="#0303fc"/><stop offset="0.994" stop-color="#0000ff"/></linearGradient>
<linearGradient id="s48" x1="0" y1="0" x2="0" y2="1"><stop offset="0.000" stop-color="#ffff00"/><stop offset="0.062" stop-color="#ffff00"/><stop offset="0.078" stop-color="#fefe01"/><stop offset="0.093" stop-color="#f7f708"/><stop offset="0.124" stop-color="#eaea15"/><stop offset="0.249" stop-color="#b6b649"/><stop offset="0.373" stop-color="#84847b"/><stop offset="0.435" stop-color="#75758a"/><stop offset="0.497" stop-color="#6e6e91"/><stop offset="0.622" stop-color="#6a6a95"/><stop offset="0.684" stop-color="#696996"/><stop offset="0.746" stop-color="#5959a6"/><stop offset="0.870" stop-color="#2121de"/><stop offset="0.932" stop-color="#0a0af5"/><stop offset="0.963" stop-color="#0303fc"/><stop offset="0.994" stop-color="#0000ff"/></linearGradient>
<linearGradient id="s49" x1="0" y1="0" x2="0" y2="1"><stop offset="0.000" stop-color="#ffff00"/><stop offset="0.062" stop-color="#ffff00"/><stop offset="0.078" stop-color="#ffff00"/><stop offset="0.093" stop-color="#f9f906"/><stop offset="0.124" stop-color="#ecec13"/><stop offset="0.249" stop-color="#baba45"/><stop offset="0.373" stop-color="#888877"/><stop offset="0.435" stop-color="#767689"/><stop offset="0.497" stop-color="#6e6e91"/><stop offset="0.622" stop-color="#6a6a95"/><stop offset="0.684" stop-color="#686897"/><stop offset="0.746" stop-color="#5959a6"/><stop offset="0.870" stop-color="#2121de"/><stop offset="0.932" stop-color="#0a0af5"/><stop offset="0.963" stop-color="#0303fc"/><stop offset="0.994" stop-color="#0000ff"/></linearGradient>
<linearGradient id="s50" x1="0" y1="0" x2="0" y2="1"><stop offset="0.000" stop-color="#ffff00"/><stop offset="0.062" stop-color="#ffff00"/><stop offset="0.078" stop-color="#ffff00"/><stop offset="0.093" stop-color="#fbfb04"/><stop offset="0.124" stop-color="#eeee11"/><stop offset="0.249" stop-color="#bebe41"/><stop offset="0.373" stop-color="#8d8d72"/><stop offset="0.435" stop-color="#797986"/><stop offset="0.497" stop-color="#6f6f90"/><stop offset="0.622" stop-color="#6a6a95"/><stop offset="0.684" stop-color="#686897"/><stop offset="0.746" stop-color="#5959a6"/><stop offset="0.870" stop-color="#2121de"/><stop offset="0.932" stop-color="#0a0af5"/><stop offset="0.963" stop-color="#0303fc"/><stop offset="0.994" stop-color="#0000ff"/></linearGradient>
<linearGradient id="s51" x1="0" y1="0" x2="0" y2="1"><stop offset="0.000" stop-color="#ffff00"/><stop offset="0.062" stop-color="#ffff00"/><stop offset="0.078" stop-color="#ffff00"/><stop offset="0.093" stop-color="#fcfc03"/><stop offset="0.124" stop-color="#f1f10e"/><stop offset="0.249" stop-color="#c2c23d"/><stop offset="0.373" stop-color="#93936c"/><stop offset="0.435" stop-color="#7e7e81"/><stop offset="0.497" stop-color="#71718e"/><stop offset="0.622" stop-color="#6a6a95"/><stop offset="0.684" stop-color="#696996"/><stop offset="0.746" stop-color="#5959a6"/><stop offset="0.870" stop-color="#2121de"/><stop offset="0.932" stop-color="#0a0af5"/><stop offset="0.963" stop-color="#0303fc"/><stop offset="0.994" stop-color="#0000ff"/></linearGradient>
<linearGradient id="s52" x1="0" y1="0" x2="0" y2="1"><stop offset="0.000" stop-color="#ffff00"/><stop offset="0.062" stop-color="#ffff00"/><stop offset="0.093" stop-color="#ffff00"/><stop offset="0.124" stop-color="#f4f40b"/><stop offset="0.249" stop-color="#c7c738"/><stop offset="0.373" stop-color="#9b9b64"/><stop offset="0.435" stop-color="#84847b"/><stop offset="0.497" stop-color="#75758a"/><stop offset="0.559" stop-color="#6e6e91"/><stop offset="0.622" stop-color="#6b6b94"/><stop offset="0.684" stop-color="#696996"/><stop offset="0.746" stop-color="#5a5aa5"/><stop offset="0.870" stop-color="#2222dd"/><stop offset="0.932" stop-color="#0a0af5"/><stop offset="0.963" stop-color="#0303fc"/><stop offset="0.994" stop-color="#0000ff"/></linearGradient>
<linearGradient id="s53" x1="0" y1="0" x2="0" y2="1"><stop offset="0.000" stop-color="#ffff00"/><stop offset="0.062" stop-color="#ffff00"/><stop offset="0.093" stop-color="#ffff00"/><stop offset="0.109" stop-color="#ffff00"/><stop offset="0.124" stop-color="#f9f906"/><stop offset="0.249" stop-color="#cfcf30"/><stop offset="0.497" stop-color="#7b7b84"/><stop offset="0.559" stop-color="#71718e"/><stop offset="0.622" stop-color="#6e6e91"/><stop offset="0.684" stop-color="#6b6b94"/><stop offset="0.746" stop-color="#5b5ba4"/><stop offset="0.870" stop-color="#2222dd"/><stop offset="0.932" stop-color="#0a0af5"/><stop offset="0.963" stop-color="#0303fc"/><stop offset="0.994" stop-color="#0000ff"/></linearGradient>
<linearGradient id="s54" x1="0" y1="0" x2="0" y2="1"><stop offset="0.000" stop-color="#ffff00"/><stop offset="0.124" stop-color="#fefe01"/><stop offset="0.249" stop-color="#d6d629"/><stop offset="0.497" stop-color="#84847b"/><stop offset="0.559" stop-color="#777788"/><stop offset="0.622" stop-color="#71718e"/><stop offset="0.684" stop-color="#6d6d92"/><stop offset="0.746" stop-color="#5d5da2"/><stop offset="0.870" stop-color="#2323dc"/><stop offset="0.932" stop-color="#0a0af5"/><stop offset="0.963" stop-color="#0303fc"/><stop offset="0.994" stop-color="#0000ff"/></linearGradient>
<linearGradient id="s55" x1="0" y1="0" x2="0" y2="1"><stop offset="0.000" stop-color="#ffff00"/><stop offset="0.124" stop-color="#ffff00"/><stop offset="0.140" stop-color="#fefe01"/><stop offset="0.155" stop-color="#fafa05"/><stop offset="0.186" stop-color="#f0f00f"/><stop offset="0.249" stop-color="#dddd22"/><stop offset="0.497" stop-color="#92926d"/><stop offset="0.559" stop-color="#80807f"/><stop offset="0.622" stop-color="#767689"/><stop offset="0.684" stop-color="#71718e"/><stop offset="0.746" stop-color="#5f5fa0"/><stop offset="0.870" stop-color="#2424db"/><stop offset="0.932" stop-color="#0a0af5"/><stop offset="0.963" stop-color="#0303fc"/><stop offset="0.994" stop-color="#0000ff"/></linearGradient>
<linearGradient id="s56" x1="0" y1="0" x2="0" y2="1"><stop offset="0.000" stop-color="#ffff00"/><stop offset="0.124" stop-color="#ffff00"/><stop offset="0.155" stop-color="#fefe01"/><stop offset="0.186" stop-color="#f6f609"/><stop offset="0.249" stop-color="#e4e41b"/><stop offset="0.497" stop-color="#9f9f60"/><stop offset="0.622" stop-color="#7f7f80"/><stop offset="0.684" stop-color="#777788"/><stop offset="0.746" stop-color="#63639c"/><stop offset="0.870" stop-color="#2525da"/><stop offset="0.932" stop-color="#0b0bf4"/><stop offset="0.963" stop-color="#0303fc"/><stop offset="0.994" stop-color="#0000ff"/></linearGradient>
<linearGradient id="s57" x1="0" y1="0" x2="0" y2="1"><stop offset="0.000" stop-color="#ffff00"/><stop offset="0.124" stop-color="#ffff00"/><stop offset="0.155" stop-color="#ffff00"/><stop offset="0.186" stop-color="#fbfb04"/><stop offset="0.249" stop-color="#eaea15"/><stop offset="0.497" stop-color="#a8a857"/><stop offset="0.622" stop-color="#878778"/><stop offset="0.684" stop-color="#7c7c83"/><stop offset="0.746" stop-color="#666699"/><stop offset="0.870" stop-color="#2626d9"/><stop offset="0.932" stop-color="#0b0bf4"/><stop offset="0.963" stop-color="#0303fc"/><stop offset="0.994" stop-color="#0000ff"/></linearGradient>
<linearGradient id="s58" x1="0" y1="0" x2="0" y2="1"><stop offset="0.000" stop-color="#ffff00"/><stop offset="0.124" stop-color="#ffff00"/><stop offset="0.186" stop-color="#ffff00"/><stop offset="0.249" stop-color="#f0f00f"/><stop offset="0.497" stop-color="#afaf50"/><stop offset="0.622" stop-color="#8e8e71"/><stop offset="0.684" stop-color="#80807f"/><stop offset="0.746" stop-color="#686897"/><stop offset="0.870" stop-color="#2626d9"/><stop offset="0.932" stop-color="#0b0bf4"/><stop offset="0.963" stop-color="#0303fc"/><stop offset="0.994" stop-color="#0000ff"/></linearGradient>
<linearGradient id="s59" x1="0" y1="0" x2="0" y2="1"><stop offset="0.000" stop-color="#ffff00"/><stop offset="0.124" stop-color="#ffff00"/><stop offset="0.186" stop-color="#ffff00"/><stop offset="0.218" stop-color="#fdfd02"/><stop offset="0.249" stop-color="#f5f50a"/><stop offset="0.497" stop-color="#b4b44b"/><stop offset="0.622" stop-color="#94946b"/><stop offset="0.684" stop-color="#84847b"/><stop offset="0.746" stop-color="#6a6a95"/><stop offset="0.870" stop-color="#2626d9"/><stop offset="0.932" stop-color="#0b0bf4"/><stop offset="0.963" stop-color="#0303fc"/><stop offset="0.994" stop-color="#0000ff"/></linearGradient>
<linearGradient id="s60" x1="0" y1="0" x2="0" y2="1"><stop offset="0.000" stop-color="#ffff00"/><stop offset="0.124" stop-color="#ffff00"/><stop offset="0.186" stop-color="#ffff00"/><stop offset="0.218" stop-color="#ffff00"/><stop offset="0.249" stop-color="#fafa05"/><stop offset="0.497" stop-color="#b9b946"/><stop offset="0.622" stop-color="#989867"/><stop offset="0.684" stop-color="#878778"/><stop offset="0.746" stop-color="#6b6b94"/><stop offset="0.870" stop-color="#2727d8"/><stop offset="0.932" stop-color="#0b0bf4"/><stop offset="0.963" stop-color="#0303fc"/><stop offset="0.994" stop-color="#0000ff"/></linearGradient>
<linearGradient id="s61" x1="0" y1="0" x2="0" y2="1"><stop offset="0.000" stop-color="#ffff00"/><stop offset="0.249" stop-color="#fefe01"/><stop offset="0.497" stop-color="#bbbb44"/><stop offset="0.622" stop-color="#9a9a65"/><stop offset="0.684" stop-color="#898976"/><stop offset="0.746" stop-color="#6c6c93"/><stop offset="0.870" stop-color="#2727d8"/><stop offset="0.932" stop-color="#0b0bf4"/><stop offset="0.963" stop-color="#0303fc"/><stop offset="0.994" stop-color="#0000ff"/></linearGradient>
<linearGradient id="s62" x1="0" y1="0" x2="0" y2="1"><stop offset="0.000" stop-color="#ffff00"/><stop offset="0.249" stop-color="#ffff00"/><stop offset="0.497" stop-color="#bebe41"/><stop offset="0.622" stop-color="#9c9c63"/><stop offset="0.684" stop-color="#8a8a75"/><stop offset="0.746" stop-color="#6d6d92"/><stop offset="0.870" stop-color="#2727d8"/><stop offset="0.932" stop-color="#0b0bf4"/><stop offset="0.963" stop-color="#0303fc"/><stop offset="0.994" stop-color="#0000ff"/></linearGradient>
<linearGradient id="s63" x1="0" y1="0" x2="0" y2="1"><stop offset="0.000" stop-color="#ffff00"/><stop offset="0.249" stop-color="#ffff00"/><stop offset="0.264" stop-color="#ffff00"/><stop offset="0.280" stop-color="#fbfb04"/><stop offset="0.311" stop-color="#f2f20d"/><stop offset="0.373" stop-color="#e1e11e"/><stop offset="0.497" stop-color="#c0c03f"/><stop offset="0.622" stop-color="#9e9e61"/><stop offset="0.684" stop-color="#8c8c73"/><stop offset="0.746" stop-color="#6e6e91"/><stop offset="0.870" stop-color="#2727d8"/><stop offset="0.932" stop-color="#0b0bf4"/><stop offset="0.963" stop-color="#0303fc"/><stop offset="0.994" stop-color="#0000ff"/></linearGradient>
<linearGradient id="s64" x1="0" y1="0" x2="0" y2="1"><stop offset="0.000" stop-color="#ffff00"/><stop offset="0.249" stop-color="#ffff00"/><stop offset="0.280" stop-color="#fdfd02"/><stop offset="0.311" stop-color="#f4f40b"/><stop offset="0.373" stop-color="#e3e31c"/><stop offset="0.497" stop-color="#c1c13e"/><stop offset="0.622" stop-color="#9f9f60"/><stop offset="0.684" stop-color="#8d8d72"/><stop offset="0.746" stop-color="#6e6e91"/><stop offset="0.870" stop-color="#2727d8"/><stop offset="0.932" stop-color="#0b0bf4"/><stop offset="0.963" stop-color="#0303fc"/><stop offset="0.994" stop-color="#0000ff"/></linearGradient>
<linearGradient id="s65" x1="0" y1="0" x2="0" y2="1"><stop offset="0.000" stop-color="#ffff00"/><stop offset="0.249" stop-color="#ffff00"/><stop offset="0.280" stop-color="#ffff00"/><stop offset="0.311" stop-color="#f7f708"/><stop offset="0.373" stop-color="#e5e51a"/><stop offset="0.497" stop-color="#c3c33c"/><stop offset="0.622" stop-color="#a0a05f"/><stop offset="0.684" stop-color="#8d8d72"/><stop offset="0.746" stop-color="#6e6e91"/><stop offset="0.870" stop-color="#2727d8"/><stop offset="0.932" stop-color="#0b0bf4"/><stop offset="0.963" stop-color="#0303fc"/><stop offset="0.994" stop-color="#0000ff"/></linearGradient>
<linearGradient id="s66" x1="0" y1="0" x2="0" y2="1"><stop offset="0.000" stop-color="#ffff00"/><stop offset="0.249" stop-color="#ffff00"/><stop offset="0.280" stop-color="#ffff00"/><stop offset="0.311" stop-color="#f9f906"/><stop offset="0.373" stop-color="#e7e718"/><stop offset="0.497" stop-color="#c4c43b"/><stop offset="0.622" stop-color="#a1a15e"/><stop offset="0.684" stop-color="#8d8d72"/><stop offset="0.746" stop-color="#6e6e91"/><stop offset="0.870" stop-color="#2626d9"/><stop offset="0.932" stop-color="#0b0bf4"/><stop offset="0.963" stop-color="#0303fc"/><stop offset="0.994" stop-color="#0000ff"/></linearGradient>
<linearGradient id="s67" x1="0" y1="0" x2="0" y2="1"><stop offset="0.000" stop-color="#ffff00"/><stop offset="0.249" stop-color="#ffff00"/><stop offset="0.280" stop-color="#ffff00"/><stop offset="0.311" stop-color="#fbfb04"/><stop offset="0.373" stop-color="#e9e916"/><stop offset="0.497" stop-color="#c5c53a"/><stop offset="0.622" stop-color="#a1a15e"/><stop offset="0.684" stop-color="#8d8d72"/><stop offset="0.746" stop-color="#6e6e91"/><stop offset="0.870" stop-color="#2626d9"/><stop offset="0.932" stop-color="#0b0bf4"/><stop offset="0.963" stop-color="#0303fc"/><stop offset="0.994" stop-color="#0000ff"/></linearGradient>
<linearGradient id="s68" x1="0" y1="0" x2="0" y2="1"><stop offset="0.000" stop-color="#ffff00"/><stop offset="0.249" stop-color="#ffff00"/><stop offset="0.311" stop-color="#fefe01"/><stop offset="0.373" stop-color="#ebeb14"/><stop offset="0.497" stop-color="#c6c639"/><stop offset="0.622" stop-color="#a0a05f"/><stop offset="0.684" stop-color="#8c8c73"/><stop offset="0.746" stop-color="#6d6d92"/><stop offset="0.870" stop-color="#2626d9"/><stop offset="0.932" stop-color="#0b0bf4"/><stop offset="0.963" stop-color="#0303fc"/><stop offset="0.994" stop-color="#0000ff"/></linearGradient>
<linearGradient id="s69" x1="0" y1="0" x2="0" y2="1"><stop offset="0.000" stop-color="#ffff00"/><stop offset="0.249" stop-color="#ffff00"/><stop offset="0.311" stop-color="#ffff00"/><stop offset="0.373" stop-color="#eded12"/><stop offset="0.497" stop-color="#c7c738"/><stop offset="0.622" stop-color="#a0a05f"/><stop offset="0.684" stop-color="#8b8b74"/><stop offset="0.746" stop-color="#6c6c93"/><stop offset="0.870" stop-color="#2626d9"/><stop offset="0.932" stop-color="#0b0bf4"/><stop offset="0.963" stop-color="#0303fc"/><stop offset="0.994" stop-color="#0000ff"/></linearGradient>
<linearGradient id="s70" x1="0" y1="0" x2="0" y2="1"><stop offset="0.000" stop-color="#ffff00"/><stop offset="0.249" stop-color="#ffff00"/><stop offset="0.311" stop-color="#ffff00"/><stop offset="0.342" stop-color="#f8f807"/><stop offset="0.373" stop-color="#eeee11"/><stop offset="0.497" stop-color="#c7c738"/><stop offset="0.622" stop-color="#a0a05f"/><stop offset="0.684" stop-color="#8b8b74"/><stop offset="0.746" stop-color="#6c6c93"/><stop offset="0.870" stop-color="#2626d9"/><stop offset="0.932" stop-color="#0b0bf4"/><stop offset="0.963" stop-color="#0303fc"/><stop offset="0.994" stop-color="#0000ff"/></linearGradient>
<linearGradient id="s71" x1="0" y1="0" x2="0" y2="1"><stop offset="0.000" stop-color="#ffff00"/><stop offset="0.249" stop-color="#ffff00"/><stop offset="0.311" stop-color="#ffff00"/><stop offset="0.342" stop-color="#f8f807"/><stop offset="0.373" stop-color="#eeee11"/><stop offset="0.497" stop-color="#c6c639"/><stop offset="0.622" stop-color="#9e9e61"/><stop offset="0.684" stop-color="#898976"/><stop offset="0.746" stop-color="#6a6a95"/><stop offset="0.870" stop-color="#2525da"/><stop offset="0.932" stop-color="#0b0bf4"/><stop offset="0.963" stop-color="#0303fc"/><stop offset="0.994" stop-color="#0000ff"/></linearGradient>
<linearGradient id="s72" x1="0" y1="0" x2="0" y2="1"><stop offset="0.000" stop-color="#ffff00"/><stop offset="0.249" stop-color="#ffff00"/><stop offset="0.311" stop-color="#ffff00"/><stop offset="0.373" stop-color="#eded12"/><stop offset="0.497" stop-color="#c5c53a"/><stop offset="0.622" stop-color="#9c9c63"/><stop offset="0.684" stop-color="#878778"/><stop offset="0.746" stop-color="#696996"/><stop offset="0.870" stop-color="#2525da"/><stop offset="0.932" stop-color="#0b0bf4"/><stop offset="0.963" stop-color="#0303fc"/><stop offset="0.994" stop-color="#0000ff"/></linearGradient>
<linearGradient id="s73" x1="0" y1="0" x2="0" y2="1"><stop offset="0.000" stop-color="#ffff00"/><stop offset="0.249" stop-color="#ffff00"/><stop offset="0.311" stop-color="#ffff00"/><stop offset="0.373" stop-color="#eded12"/><stop offset="0.497" stop-color="#c4c43b"/><stop offset="0.622" stop-color="#9b9b64"/><stop offset="0.684" stop-color="#868679"/><stop offset="0.746" stop-color="#696996"/><stop offset="0.870" stop-color="#2525da"/><stop offset="0.932" stop-color="#0b0bf4"/><stop offset="0.963" stop-color="#0303fc"/><stop offset="0.994" stop-color="#0000ff"/></linearGradient>
<linearGradient id="s74" x1="0" y1="0" x2="0" y2="1"><stop offset="0.000" stop-color="#ffff00"/><stop offset="0.249" stop-color="#ffff00"/><stop offset="0.311" stop-color="#ffff00"/><stop offset="0.373" stop-color="#eded12"/><stop offset="0.497" stop-color="#c4c43b"/><stop offset="0.622" stop-color="#9b9b64"/><stop offset="0.684" stop-color="#868679"/><stop offset="0.746" stop-color="#686897"/><stop offset="0.870" stop-color="#2525da"/><stop offset="0.932" stop-color="#0b0bf4"/><stop offset="0.963" stop-color="#0303fc"/><stop offset="0.994" stop-color="#0000ff"/></linearGradient>
<linearGradient id="s75" x1="0" y1="0" x2="0" y2="1"><stop offset="0.000" stop-color="#ffff00"/><stop offset="0.249" stop-color="#ffff00"/><stop offset="0.311" stop-color="#ffff00"/><stop offset="0.373" stop-color="#ecec13"/><stop offset="0.497" stop-color="#c3c33c"/><stop offset="0.622" stop-color="#9a9a65"/><stop offset="0.684" stop-color="#85857a"/><stop offset="0.746" stop-color="#686897"/><stop offset="0.870" stop-color="#2525da"/><stop offset="0.932" stop-color="#0b0bf4"/><stop offset="0.963" stop-color="#0303fc"/><stop offset="0.994" stop-color="#0000ff"/></linearGradient>
<linearGradient id="s76" x1="0" y1="0" x2="0" y2="1"><stop offset="0.000" stop-color="#ffff00"/><stop offset="0.249" stop-color="#ffff00"/><stop offset="0.311" stop-color="#ffff00"/><stop offset="0.373" stop-color="#ecec13"/><stop offset="0.497" stop-color="#c3c33c"/><stop offset="0.622" stop-color="#999966"/><stop offset="0.684" stop-color="#85857a"/><stop offset="0.746" stop-color="#686897"/><stop offset="0.870" stop-color="#2525da"/><stop offset="0.932" stop-color="#0b0bf4"/><stop offset="0.963" stop-color="#0303fc"/><stop offset="0.994" stop-color="#0000ff"/></linearGradient>
<linearGradient id="s77" x1="0" y1="0" x2="0" y2="1"><stop offset="0.000" stop-color="#ffff00"/><stop offset="0.249" stop-color="#ffff00"/><stop offset="0.311" stop-color="#ffff00"/><stop offset="0.373" stop-color="#ebeb14"/><stop offset="0.497" stop-color="#c2c23d"/><stop offset="0.622" stop-color="#999966"/><stop offset="0.684" stop-color="#84847b"/><stop offset="0.746" stop-color="#676798"/><stop offset="0.870" stop-color="#2525da"/><stop offset="0.932" stop-color="#0b0bf4"/><stop offset="0.963" stop-color="#0303fc"/><stop offset="0.994" stop-color="#0000ff"/></linearGradient>
<linearGradient id="s78" x1="0" y1="0" x2="0" y2="1"><stop offset="0.000" stop-color="#ffff00"/><stop offset="0.249" stop-color="#ffff00"/><stop offset="0.311" stop-color="#ffff00"/><stop offset="0.373" stop-color="#ebeb14"/><stop offset="0.497" stop-color="#c2c23d"/><stop offset="0.622" stop-color="#989867"/><stop offset="0.684" stop-color="#84847b"/><stop offset="0.746" stop-color="#676798"/><stop offset="0.870" stop-color="#2525da"/><stop offset="0.932" stop-color="#0b0bf4"/><stop offset="0.963" stop-color="#0303fc"/><stop offset="0.994" stop-color="#0000ff"/></linearGradient>
<linearGradient id="s79" x1="0" y1="0" x2="0" y2="1"><stop offset="0.000" stop-color="#ffff00"/><stop offset="0.249" stop-color="#ffff00"/><stop offset="0.311" stop-color="#ffff00"/><stop offset="0.373" stop-color="#ebeb14"/><stop offset="0.497" stop-color="#c1c13e"/><stop offset="0.622" stop-color="#979768"/><stop offset="0.684" stop-color="#83837c"/><stop offset="0.746" stop-color="#676798"/><stop offset="0.870" stop-color="#2525da"/><stop offset="0.932" stop-color="#0b0bf4"/><stop offset="0.963" stop-color="#0303fc"/><stop offset="0.994" stop-color="#0000ff"/></linearGradient>
<linearGradient id="s80" x1="0" y1="0" x2="0" y2="1"><stop offset="0.000" stop-color="#ffff00"/><stop offset="0.249" stop-color="#ffff00"/><stop offset="0.311" stop-color="#ffff00"/><stop offset="0.373" stop-color="#eaea15"/><stop offset="0.497" stop-color="#c0c03f"/><stop offset="0.622" stop-color="#969669"/><stop offset="0.684" stop-color="#83837c"/><stop offset="0.746" stop-color="#676798"/><stop offset="0.870" stop-color="#2525da"/><stop offset="0.932" stop-color="#0b0bf4"/><stop offset="0.963" stop-color="#0303fc"/><stop offset="0.994" stop-color="#0000ff"/></linearGradient>
<linearGradient id="s81" x1="0" y1="0" x2="0" y2="1"><stop offset="0.000" stop-color="#ffff00"/><stop offset="0.249" stop-color="#ffff00"/><stop offset="0.311" stop-color="#ffff00"/><stop offset="0.373" stop-color="#eaea15"/><stop offset="0.497" stop-color="#c0c03f"/><stop offset="0.622" stop-color="#969669"/><stop offset="0.684" stop-color="#82827d"/><stop offset="0.746" stop-color="#676798"/><stop offset="0.870" stop-color="#2525da"/><stop offset="0.932" stop-color="#0b0bf4"/><stop offset="0.963" stop-color="#0303fc"/><stop offset="0.994" stop-color="#0000ff"/></linearGradient>
<linearGradient id="s82" x1="0" y1="0" x2="0" y2="1"><stop offset="0.000" stop-color="#ffff00"/><stop offset="0.249" stop-color="#ffff00"/><stop offset="0.311" stop-color="#ffff00"/><stop offset="0.373" stop-color="#eaea15"/><stop offset="0.497" stop-color="#bfbf40"/><stop offset="0.622" stop-color="#95956a"/><stop offset="0.684" stop-color="#82827d"/><stop offset="0.746" stop-color="#676798"/><stop offset="0.870" stop-color="#2525da"/><stop offset="0.932" stop-color="#0b0bf4"/><stop offset="0.963" stop-color="#0303fc"/><stop offset="0.994" stop-color="#0000ff"/></linearGradient>
<linearGradient id="s83" x1="0" y1="0" x2="0" y2="1"><stop offset="0.000" stop-color="#ffff00"/><stop offset="0.249" stop-color="#ffff00"/><stop offset="0.311" stop-color="#fefe01"/><stop offset="0.373" stop-color="#e9e916"/><stop offset="0.497" stop-color="#bebe41"/><stop offset="0.622" stop-color="#94946b"/><stop offset="0.684" stop-color="#82827d"/><stop offset="0.746" stop-color="#686897"/><stop offset="0.870" stop-color="#2525da"/><stop offset="0.932" stop-color="#0b0bf4"/><stop offset="0.963" stop-color="#0303fc"/><stop offset="0.994" stop-color="#0000ff"/></linearGradient>
<linearGradient id="s84" x1="0" y1="0" x2="0" y2="1"><stop offset="0.000" stop-color="#ffff00"/><stop offset="0.249" stop-color="#ffff00"/><stop offset="0.280" stop-color="#ffff00"/><stop offset="0.295" stop-color="#ffff00"/><stop offset="0.311" stop-color="#fafa05"/><stop offset="0.373" stop-color="#e5e51a"/><stop offset="0.497" stop-color="#bcbc43"/><stop offset="0.622" stop-color="#93936c"/><stop offset="0.684" stop-color="#82827d"/><stop offset="0.746" stop-color="#686897"/><stop offset="0.870" stop-color="#2626d9"/><stop offset="0.932" stop-color="#0b0bf4"/><stop offset="0.963" stop-color="#0303fc"/><stop offset="0.994" stop-color="#0000ff"/></linearGradient>
<linearGradient id="s85" x1="0" y1="0" x2="0" y2="1"><stop offset="0.000" stop-color="#ffff00"/><stop offset="0.249" stop-color="#ffff00"/><stop offset="0.280" stop-color="#ffff00"/><stop offset="0.311" stop-color="#f6f609"/><stop offset="0.373" stop-color="#e2e21d"/><stop offset="0.497" stop-color="#baba45"/><stop offset="0.622" stop-color="#92926d"/><stop offset="0.684" stop-color="#81817e"/><stop offset="0.746" stop-color="#686897"/><stop offset="0.870" stop-color="#2626d9"/><stop offset="0.932" stop-color="#0b0bf4"/><stop offset="0.963" stop-color="#0303fc"/><stop offset="0.994" stop-color="#0000ff"/></linearGradient>
<linearGradient id="s86" x1="0" y1="0" x2="0" y2="1"><stop offset="0.000" stop-color="#ffff00"/><stop offset="0.249" stop-color="#ffff00"/><stop offset="0.280" stop-color="#fcfc03"/><stop offset="0.311" stop-color="#f2f20d"/><stop offset="0.373" stop-color="#dfdf20"/><stop offset="0.497" stop-color="#b7b748"/><stop offset="0.622" stop-color="#90906f"/><stop offset="0.684" stop-color="#81817e"/><stop offset="0.746" stop-color="#686897"/><stop offset="0.870" stop-color="#2626d9"/><stop offset="0.932" stop-color="#0b0bf4"/><stop offset="0.963" stop-color="#0303fc"/><stop offset="0.994" stop-color="#0000ff"/></linearGradient>
<linearGradient id="s87" x1="0" y1="0" x2="0" y2="1"><stop offset="0.000" stop-color="#ffff00"/><stop offset="0.249" stop-color="#ffff00"/><stop offset="0.280" stop-color="#f8f807"/><stop offset="0.311" stop-color="#efef10"/><stop offset="0.373" stop-color="#dbdb24"/><stop offset="0.497" stop-color="#b5b54a"/><stop offset="0.622" stop-color="#8f8f70"/><stop offset="0.684" stop-color="#80807f"/><stop offset="0.746" stop-color="#686897"/><stop offset="0.870" stop-color="#2626d9"/><stop offset="0.932" stop-color="#0b0bf4"/><stop offset="0.963" stop-color="#0303fc"/><stop offset="0.994" stop-color="#0000ff"/></linearGradient>
<linearGradient id="s88" x1="0" y1="0" x2="0" y2="1"><stop offset="0.000" stop-color="#ffff00"/><stop offset="0.249" stop-color="#fcfc03"/><stop offset="0.497" stop-color="#b1b14e"/><stop offset="0.622" stop-color="#8d8d72"/><stop offset="0.684" stop-color="#7f7f80"/><stop offset="0.746" stop-color="#686897"/><stop offset="0.870" stop-color="#2626d9"/><stop offset="0.932" stop-color="#0b0bf4"/><stop offset="0.963" stop-color="#0303fc"/><stop offset="0.994" stop-color="#0000ff"/></linearGradient>
<linearGradient id="s89" x1="0" y1="0" x2="0" y2="1"><stop offset="0.000" stop-color="#ffff00"/><stop offset="0.124" stop-color="#ffff00"/><stop offset="0.186" stop-color="#ffff00"/><stop offset="0.218" stop-color="#ffff00"/><stop offset="0.249" stop-color="#f6f609"/><stop offset="0.497" stop-color="#adad52"/><stop offset="0.622" stop-color="#8a8a75"/><stop offset="0.684" stop-color="#7d7d82"/><stop offset="0.746" stop-color="#676798"/><stop offset="0.870" stop-color="#2626d9"/><stop offset="0.932" stop-color="#0b0bf4"/><stop offset="0.963" stop-color="#0303fc"/><stop offset="0.994" stop-color="#0000ff"/></linearGradient>
<linearGradient id="s90" x1="0" y1="0" x2="0" y2="1"><stop offset="0.000" stop-color="#ffff00"/><stop offset="0.124" stop-color="#ffff00"/><stop offset="0.186" stop-color="#ffff00"/><stop offset="0.218" stop-color="#f9f906"/><stop offset="0.249" stop-color="#f0f00f"/><stop offset="0.497" stop-color="#a8a857"/><stop offset="0.622" stop-color="#868679"/><stop offset="0.684" stop-color="#7c7c83"/><stop offset="0.746" stop-color="#676798"/><stop offset="0.870" stop-color="#2626d9"/><stop offset="0.932" stop-color="#0b0bf4"/><stop offset="0.963" stop-color="#0303fc"/><stop offset="0.994" stop-color="#0000ff"/></linearGradient>
<linearGradient id="s91" x1="0" y1="0" x2="0" y2="1"><stop offset="0.000" stop-color="#ffff00"/><stop offset="0.124" stop-color="#ffff00"/><stop offset="0.155" stop-color="#ffff00"/><stop offset="0.186" stop-color="#fbfb04"/><stop offset="0.249" stop-color="#e9e916"/><stop offset="0.497" stop-color="#a2a25d"/><stop offset="0.622" stop-color="#82827d"/><stop offset="0.684" stop-color="#797986"/><stop offset="0.746" stop-color="#65659a"/><stop offset="0.870" stop-color="#2525da"/><stop offset="0.932" stop-color="#0b0bf4"/><stop offset="0.963" stop-color="#0303fc"/><stop offset="0.994" stop-color="#0000ff"/></linearGradient>
<linearGradient id="s92" x1="0" y1="0" x2="0" y2="1"><stop offset="0.000" stop-color="#ffff00"/><stop offset="0.124" stop-color="#ffff00"/><stop offset="0.155" stop-color="#fdfd02"/><stop offset="0.186" stop-color="#f4f40b"/><stop offset="0.249" stop-color="#e1e11e"/><stop offset="0.497" stop-color="#989867"/><stop offset="0.559" stop-color="#868679"/><stop offset="0.622" stop-color="#7a7a85"/><stop offset="0.684" stop-color="#74748b"/><stop offset="0.746" stop-color="#62629d"/><stop offset="0.870" stop-color="#2424db"/><stop offset="0.932" stop-color="#0b0bf4"/><stop offset="0.963" stop-color="#0303fc"/><stop offset="0.994" stop-color="#0000ff"/></linearGradient>
<linearGradient id="s93" x1="0" y1="0" x2="0" y2="1"><stop offset="0.000" stop-color="#ffff00"/><stop offset="0.124" stop-color="#ffff00"/><stop offset="0.249" stop-color="#dbdb24"/><stop offset="0.497" stop-color="#91916e"/><stop offset="0.559" stop-color="#80807f"/><stop offset="0.622" stop-color="#777788"/><stop offset="0.684" stop-color="#72728d"/><stop offset="0.746" stop-color="#60609f"/><stop offset="0.870" stop-color="#2424db"/><stop offset="0.932" stop-color="#0a0af5"/><stop offset="0.963" stop-color="#0303fc"/><stop offset="0.994" stop-color="#0000ff"/></linearGradient>
<linearGradient id="s94" x1="0" y1="0" x2="0" y2="1"><stop offset="0.000" stop-color="#ffff00"/><stop offset="0.124" stop-color="#ffff00"/><stop offset="0.249" stop-color="#dbdb24"/><stop offset="0.497" stop-color="#91916e"/><stop offset="0.559" stop-color="#80807f"/><stop offset="0.622" stop-color="#777788"/><stop offset="0.684" stop-color="#72728d"/><stop offset="0.746" stop-color="#60609f"/><stop offset="0.870" stop-color="#2424db"/><stop offset="0.932" stop-color="#0a0af5"/><stop offset="0.963" stop-color="#0303fc"/><stop offset="0.994" stop-color="#0000ff"/></linearGradient>
<linearGradient id="s95" x1="0" y1="0" x2="0" y2="1"><stop offset="0.000" stop-color="#ffff00"/><stop offset="0.124" stop-color="#ffff00"/><stop offset="0.249" stop-color="#dbdb24"/><stop offset="0.497" stop-color="#91916e"/><stop offset="0.559" stop-color="#80807f"/><stop offset="0.622" stop-color="#777788"/><stop offset="0.684" stop-color="#72728d"/><stop offset="0.746" stop-color="#60609f"/><stop offset="0.870" stop-color="#2424db"/><stop offset="0.932" stop-color="#0a0af5"/><stop offset="0.963" stop-color="#0303fc"/><stop offset="0.994" stop-color="#0000ff"/></linearGradient>
<linearGradient id="s96" x1="0" y1="0" x2="0" y2="1"><stop offset="0.000" stop-color="#ffff00"/><stop offset="0.124" stop-color="#ffff00"/><stop offset="0.249" stop-color="#dbdb24"/><stop offset="0.497" stop-color="#91916e"/><stop offset="0.559" stop-color="#80807f"/><stop offset="0.622" stop-color="#777788"/><stop offset="0.684" stop-color="#72728d"/><stop offset="0.746" stop-color="#60609f"/><stop offset="0.870" stop-color="#2424db"/><stop offset="0.932" stop-color="#0a0af5"/><stop offset="0.963" stop-color="#0303fc"/><stop offset="0.994" stop-color="#0000ff"/></linearGradient>
</defs>
<filter id="hb" x="-5%" y="0" width="110%" height="1" color-interpolation-filters="sRGB"><feGaussianBlur stdDeviation="5 0"/></filter>
<g clip-path="url(#c4)"><g filter="url(#hb)">
<rect x="56" y="880" width="8.5" height="181" fill="url(#s0)"/>
<rect x="64" y="880" width="8.5" height="181" fill="url(#s1)"/>
<rect x="72" y="880" width="8.5" height="181" fill="url(#s2)"/>
<rect x="80" y="880" width="8.5" height="181" fill="url(#s3)"/>
<rect x="88" y="880" width="8.5" height="181" fill="url(#s4)"/>
<rect x="96" y="880" width="8.5" height="181" fill="url(#s5)"/>
<rect x="104" y="880" width="8.5" height="181" fill="url(#s6)"/>
<rect x="112" y="880" width="8.5" height="181" fill="url(#s7)"/>
<rect x="120" y="880" width="8.5" height="181" fill="url(#s8)"/>
<rect x="128" y="880" width="8.5" height="181" fill="url(#s9)"/>
<rect x="136" y="880" width="8.5" height="181" fill="url(#s10)"/>
<rect x="144" y="880" width="8.5" height="181" fill="url(#s11)"/>
<rect x="152" y="880" width="8.5" height="181" fill="url(#s12)"/>
<rect x="160" y="880" width="8.5" height="181" fill="url(#s13)"/>
<rect x="168" y="880" width="8.5" height="181" fill="url(#s14)"/>
<rect x="176" y="880" width="8.5" height="181" fill="url(#s15)"/>
<rect x="184" y="880" width="8.5" height="181" fill="url(#s16)"/>
<rect x="192" y="880" width="8.5" height="181" fill="url(#s17)"/>
<rect x="200" y="880" width="8.5" height="181" fill="url(#s18)"/>
<rect x="208" y="880" width="8.5" height="181" fill="url(#s19)"/>
<rect x="216" y="880" width="8.5" height="181" fill="url(#s20)"/>
<rect x="224" y="880" width="8.5" height="181" fill="url(#s21)"/>
<rect x="232" y="880" width="8.5" height="181" fill="url(#s22)"/>
<rect x="240" y="880" width="8.5" height="181" fill="url(#s23)"/>
<rect x="248" y="880" width="8.5" height="181" fill="url(#s24)"/>
<rect x="256" y="880" width="8.5" height="181" fill="url(#s25)"/>
<rect x="264" y="880" width="8.5" height="181" fill="url(#s26)"/>
<rect x="272" y="880" width="8.5" height="181" fill="url(#s27)"/>
<rect x="280" y="880" width="8.5" height="181" fill="url(#s28)"/>
<rect x="288" y="880" width="8.5" height="181" fill="url(#s29)"/>
<rect x="296" y="880" width="8.5" height="181" fill="url(#s30)"/>
<rect x="304" y="880" width="8.5" height="181" fill="url(#s31)"/>
<rect x="312" y="880" width="8.5" height="181" fill="url(#s32)"/>
<rect x="320" y="880" width="8.5" height="181" fill="url(#s33)"/>
<rect x="328" y="880" width="8.5" height="181" fill="url(#s34)"/>
<rect x="336" y="880" width="8.5" height="181" fill="url(#s35)"/>
<rect x="344" y="880" width="8.5" height="181" fill="url(#s36)"/>
<rect x="352" y="880" width="8.5" height="181" fill="url(#s37)"/>
<rect x="360" y="880" width="8.5" height="181" fill="url(#s38)"/>
<rect x="368" y="880" width="8.5" height="181" fill="url(#s39)"/>
<rect x="376" y="880" width="8.5" height="181" fill="url(#s40)"/>
<rect x="384" y="880" width="8.5" height="181" fill="url(#s41)"/>
<rect x="392" y="880" width="8.5" height="181" fill="url(#s42)"/>
<rect x="400" y="880" width="8.5" height="181" fill="url(#s43)"/>
<rect x="408" y="880" width="8.5" height="181" fill="url(#s44)"/>
<rect x="416" y="880" width="8.5" height="181" fill="url(#s45)"/>
<rect x="424" y="880" width="8.5" height="181" fill="url(#s46)"/>
<rect x="432" y="880" width="8.5" height="181" fill="url(#s47)"/>
<rect x="440" y="880" width="8.5" height="181" fill="url(#s48)"/>
<rect x="448" y="880" width="8.5" height="181" fill="url(#s49)"/>
<rect x="456" y="880" width="8.5" height="181" fill="url(#s50)"/>
<rect x="464" y="880" width="8.5" height="181" fill="url(#s51)"/>
<rect x="472" y="880" width="8.5" height="181" fill="url(#s52)"/>
<rect x="480" y="880" width="8.5" height="181" fill="url(#s53)"/>
<rect x="488" y="880" width="8.5" height="181" fill="url(#s54)"/>
<rect x="496" y="880" width="8.5" height="181" fill="url(#s55)"/>
<rect x="504" y="880" width="8.5" height="181" fill="url(#s56)"/>
<rect x="512" y="880" width="8.5" height="181" fill="url(#s57)"/>
<rect x="520" y="880" width="8.5" height="181" fill="url(#s58)"/>
<rect x="528" y="880" width="8.5" height="181" fill="url(#s59)"/>
<rect x="536" y="880" width="8.5" height="181" fill="url(#s60)"/>
<rect x="544" y="880" width="8.5" height="181" fill="url(#s61)"/>
<rect x="552" y="880" width="8.5" height="181" fill="url(#s62)"/>
<rect x="560" y="880" width="8.5" height="181" fill="url(#s63)"/>
<rect x="568" y="880" width="8.5" height="181" fill="url(#s64)"/>
<rect x="576" y="880" width="8.5" height="181" fill="url(#s65)"/>
<rect x="584" y="880" width="8.5" height="181" fill="url(#s66)"/>
<rect x="592" y="880" width="8.5" height="181" fill="url(#s67)"/>
<rect x="600" y="880" width="8.5" height="181" fill="url(#s68)"/>
<rect x="608" y="880" width="8.5" height="181" fill="url(#s69)"/>
<rect x="616" y="880" width="8.5" height="181" fill="url(#s70)"/>
<rect x="624" y="880" width="8.5" height="181" fill="url(#s71)"/>
<rect x="632" y="880" width="8.5" height="181" fill="url(#s72)"/>
<rect x="640" y="880" width="8.5" height="181" fill="url(#s73)"/>
<rect x="648" y="880" width="8.5" height="181" fill="url(#s74)"/>
<rect x="656" y="880" width="8.5" height="181" fill="url(#s75)"/>
<rect x="664" y="880" width="8.5" height="181" fill="url(#s76)"/>
<rect x="672" y="880" width="8.5" height="181" fill="url(#s77)"/>
<rect x="680" y="880" width="8.5" height="181" fill="url(#s78)"/>
<rect x="688" y="880" width="8.5" height="181" fill="url(#s79)"/>
<rect x="696" y="880" width="8.5" height="181" fill="url(#s80)"/>
<rect x="704" y="880" width="8.5" height="181" fill="url(#s81)"/>
<rect x="712" y="880" width="8.5" height="181" fill="url(#s82)"/>
<rect x="720" y="880" width="8.5" height="181" fill="url(#s83)"/>
<rect x="728" y="880" width="8.5" height="181" fill="url(#s84)"/>
<rect x="736" y="880" width="8.5" height="181" fill="url(#s85)"/>
<rect x="744" y="880" width="8.5" height="181" fill="url(#s86)"/>
<rect x="752" y="880" width="8.5" height="181" fill="url(#s87)"/>
<rect x="760" y="880" width="8.5" height="181" fill="url(#s88)"/>
<rect x="768" y="880" width="8.5" height="181" fill="url(#s89)"/>
<rect x="776" y="880" width="8.5" height="181" fill="url(#s90)"/>
<rect x="784" y="880" width="8.5" height="181" fill="url(#s91)"/>
<rect x="792" y="880" width="8.5" height="181" fill="url(#s92)"/>
<rect x="800" y="880" width="8.5" height="181" fill="url(#s93)"/>
<rect x="808" y="880" width="8.5" height="181" fill="url(#s94)"/>
<rect x="816" y="880" width="8.5" height="181" fill="url(#s95)"/>
<rect x="824" y="880" width="8.5" height="181" fill="url(#s96)"/>
</g></g>
<path d="M80.0,964.1 L88.8,956.2 L97.6,950.4 L111.8,946.1 L124.1,944.4 L134.7,944.0 L150.6,944.7 L159.4,946.5 L175.3,950.9 L185.9,955.8 L200.0,962.0 L212.4,967.3 L224.7,972.0 L238.8,976.1 L249.4,977.9 L260.0,978.6 L274.1,978.2 L286.5,976.8 L300.6,971.5 L312.9,962.6 L327.1,951.2 L339.4,944.5 L353.5,939.7 L369.4,936.7 L383.5,934.8 L401.2,934.6 L417.1,934.8 L429.4,937.1 L440.0,938.6 L450.6,940.8 L464.7,945.2 L477.1,950.9 L489.4,958.8 L498.2,966.2 L507.1,975.6 L515.9,982.6 L526.5,989.7 L538.8,994.1 L552.9,996.8 L565.3,998.7 L581.2,999.8 L598.8,999.8 L609.4,998.9 L620.0,998.7 L637.8,996.4 L662.8,995.1 L687.8,993.9 L709.2,992.8 L734.2,991.0 L753.8,988.9 L768.1,985.7 L780.6,981.7 L789.5,977.3 L799.0,968.9 L801.0,967.0" fill="none" stroke="#000" stroke-width="2" clip-path="url(#c4)"/>
<defs><linearGradient id="p3bg" x1="0" y1="0" x2="0" y2="1"><stop offset="0" stop-color="#ececec"/><stop offset="0.11" stop-color="#f0f0f0"/><stop offset="0.19" stop-color="#ffffff"/><stop offset="0.60" stop-color="#ffffff"/><stop offset="0.70" stop-color="#e8e8e8"/><stop offset="0.80" stop-color="#dddddd"/><stop offset="1" stop-color="#d6d6d6"/></linearGradient></defs>
<filter id="disp" x="-5%" y="-20%" width="110%" height="140%" color-interpolation-filters="sRGB"><feTurbulence type="fractalNoise" baseFrequency="0.06 0.09" numOctaves="2" seed="7" result="n"/><feDisplacementMap in="SourceGraphic" in2="n" scale="11" xChannelSelector="R" yChannelSelector="G"/><feGaussianBlur stdDeviation="0.8"/></filter>
<g clip-path="url(#c3)"><g filter="url(#fcv)">
<rect x="60" y="600" width="760" height="220" fill="url(#p3bg)"/>
<ellipse cx="150" cy="762" rx="125" ry="15" fill="#f5f5f5" filter="url(#b8)"/>
<ellipse cx="805" cy="770" rx="50" ry="24" fill="#f2f2f2" filter="url(#b10)"/>
<ellipse cx="400" cy="748" rx="70" ry="8" fill="#ededed" filter="url(#b6)"/>
<ellipse cx="615" cy="644" rx="190" ry="15" fill="#ffffff" filter="url(#b6)"/>
<g filter="url(#disp)">
<polygon points="50.0,743.0 80.0,743.0 140.0,743.0 210.0,744.0 240.0,753.0 260.0,755.0 313.0,750.0 339.0,743.0 366.0,737.0 440.0,736.0 466.0,743.0 510.0,755.0 546.0,762.0 581.0,768.0 620.0,766.0 647.0,764.0 673.5,757.0 709.0,750.0 745.0,748.0 772.0,744.5 789.5,739.0 802.0,732.0 840.0,732.0 840.0,743.0 802.0,743.0 789.5,750.0 772.0,755.5 745.0,759.0 709.0,761.0 673.5,768.0 647.0,775.0 620.0,777.0 581.0,779.0 546.0,773.0 510.0,766.0 466.0,754.0 440.0,747.0 366.0,748.0 339.0,754.0 313.0,761.0 260.0,766.0 240.0,764.0 210.0,755.0 140.0,754.0 80.0,754.0 50.0,754.0" fill="#bdbdbd" filter="url(#b5)"/>
<polygon points="50.0,669.0 80.0,669.0 95.0,670.0 130.0,664.0 180.0,664.0 192.0,670.0 260.0,670.6 313.0,665.0 366.0,658.0 401.0,658.0 440.0,661.0 475.0,667.0 498.0,674.0 510.0,681.0 546.0,693.0 581.0,699.0 620.0,707.0 647.0,702.0 673.0,698.0 691.0,707.0 709.0,712.0 745.0,698.0 780.0,685.0 802.0,673.0 840.0,668.0 840.0,736.0 802.0,736.0 789.5,743.0 772.0,748.5 745.0,752.0 709.0,754.0 673.5,761.0 647.0,768.0 620.0,770.0 581.0,772.0 546.0,766.0 510.0,759.0 466.0,747.0 440.0,740.0 366.0,741.0 339.0,747.0 313.0,754.0 260.0,759.0 240.0,757.0 210.0,748.0 140.0,747.0 80.0,747.0 50.0,747.0" fill="#808080" filter="url(#b4)"/>
<polygon points="702.0,720.0 720.0,694.0 748.0,676.0 780.0,667.0 810.0,664.0 810.0,695.0 770.0,704.0 735.0,720.0" fill="#9e9e9e" filter="url(#b8)"/>
<polygon points="650.0,661.0 662.0,657.5 690.0,657.0 720.0,658.5 760.0,658.0 780.0,659.0 802.0,663.0 802.0,670.0 780.0,664.0 760.0,661.0 720.0,661.0 695.0,664.0 678.0,667.0 655.0,669.0" fill="#858585" filter="url(#b1)"/>
<ellipse cx="160" cy="716" rx="55" ry="13" fill="#a8a8a8" filter="url(#b4)"/>
<ellipse cx="175" cy="733" rx="28" ry="2.5" fill="#dbdbdb" filter="url(#b4)"/>
<ellipse cx="400" cy="710" rx="42" ry="15" fill="#b2b2b2" filter="url(#b4)"/>
<ellipse cx="425" cy="728" rx="30" ry="4" fill="#e0e0e0" filter="url(#b4)"/>
<ellipse cx="457" cy="728" rx="14" ry="5" fill="#dbdbdb" filter="url(#b4)"/>
<ellipse cx="520" cy="716" rx="25" ry="8" fill="#999999" filter="url(#b4)"/>
<ellipse cx="610" cy="712" rx="65" ry="10" fill="#a1a1a1" filter="url(#b4)"/>
<ellipse cx="665" cy="715" rx="25" ry="10" fill="#999999" filter="url(#b4)"/>
<ellipse cx="230" cy="684" rx="25" ry="7" fill="#8f8f8f" filter="url(#b4)"/>
<ellipse cx="770" cy="690" rx="20" ry="8" fill="#949494" filter="url(#b4)"/>
<ellipse cx="120" cy="680" rx="30" ry="6" fill="#8f8f8f" filter="url(#b4)"/>
<path d="M80.0,704.1 L88.8,696.2 L97.6,690.4 L111.8,686.1 L124.1,684.4 L134.7,684.0 L150.6,684.7 L159.4,686.5 L175.3,690.9 L185.9,695.8 L200.0,702.0 L212.4,707.3 L224.7,712.0 L238.8,716.1 L249.4,717.9 L260.0,718.6 L274.1,718.2 L286.5,716.8 L300.6,711.5 L312.9,702.6 L327.1,691.2 L339.4,684.5 L353.5,679.7 L369.4,676.7 L383.5,674.8 L401.2,674.6 L417.1,674.8 L429.4,677.1 L440.0,678.6 L450.6,680.8 L464.7,685.2 L477.1,690.9 L489.4,698.8 L498.2,706.2 L507.1,715.6 L515.9,722.6 L526.5,729.7 L538.8,734.1 L552.9,736.8 L565.3,738.7 L581.2,739.8 L598.8,739.8 L609.4,738.9 L620.0,738.7 L637.8,736.4 L662.8,735.1 L687.8,733.9 L709.2,732.8 L734.2,731.0 L753.8,728.9 L768.1,725.7 L780.6,721.7 L789.5,717.3 L799.0,708.9 L801.0,707.0" fill="none" stroke="#666666" stroke-width="34" filter="url(#b6)"/>
<polygon points="240.0,712.0 280.0,717.0 322.0,713.0 306.0,752.0 264.0,752.0" fill="#454545" filter="url(#b5)"/>
<polygon points="258.0,718.0 280.0,720.0 302.0,717.0 294.0,746.0 270.0,746.0" fill="#2b2b2b" filter="url(#b4)"/>
<polygon points="312.0,670.0 360.0,660.0 410.0,660.0 442.0,665.0 442.0,680.0 380.0,677.0 342.0,684.0 318.0,698.0" fill="#666666" filter="url(#b4)"/>
<polygon points="80.0,672.0 120.0,670.0 160.0,672.0 198.0,676.0 190.0,690.0 150.0,683.0 110.0,686.0 80.0,700.0" fill="#6b6b6b" filter="url(#b4)"/>
<path d="M507.1,724.6 L515.9,731.6 L526.5,738.7 L538.8,743.1 L552.9,745.8 L565.3,747.7 L581.2,748.8 L598.8,748.8 L609.4,747.9 L620.0,747.7 L637.8,745.4 L662.8,744.1 L687.8,742.9 L709.2,741.8 L734.2,740.0 L753.8,737.9 L768.1,734.7 L780.6,730.7 L789.5,726.3 L799.0,717.9" fill="none" stroke="#5c5c5c" stroke-width="16" filter="url(#b4)"/>
<path d="M485,696.0 l-13,15 M494,702.7 l-13,15 M503,711.3 l-13,15 M512,719.5 l-13,15 M521,726.0 l-13,15 M530,731.0 l-13,15 M539,734.1 l-13,15 M548,735.9 l-13,15 M557,737.4 l-13,15 M566,738.7 l-13,15 M575,739.4 l-13,15 M584,739.8 l-13,15 M593,739.8 l-13,15 M602,739.5 l-13,15 M611,738.9 l-13,15 M620,738.7 l-13,15 M629,737.5 l-13,15 M638,736.4 l-13,15 M647,735.9 l-13,15 M656,735.5 l-13,15 M665,735.0 l-13,15 M674,734.6 l-13,15 M683,734.1 l-13,15 M692,733.7 l-13,15 M701,733.2 l-13,15 M710,732.7 l-13,15 M719,732.1 l-13,15 M728,731.4 l-13,15 M737,730.7 l-13,15 M746,729.7 l-13,15 M755,728.6 l-13,15 M764,726.6 l-13,15 M773,724.1 l-13,15 M100,689.7 l-10,-12 M110,686.6 l-10,-12 M120,685.0 l-10,-12 M130,684.2 l-10,-12 M140,684.2 l-10,-12 M150,684.7 l-10,-12 M160,686.7 l-10,-12 M170,689.4 l-10,-12 M180,693.1 l-10,-12 M190,697.6 l-10,-12 M200,702.0 l-10,-12 M210,706.3 l-10,-12 M220,710.2 l-10,-12 M230,713.5 l-10,-12 M240,716.3 l-10,-12 M330,689.6 l-12,-10 M340,684.3 l-12,-10 M350,680.9 l-12,-10 M360,678.5 l-12,-10 M370,676.6 l-12,-10 M380,675.3 l-12,-10 M390,674.7 l-12,-10 M400,674.6 l-12,-10 M410,674.7 l-12,-10 M420,675.3 l-12,-10 M430,677.2 l-12,-10 M440,678.6 l-12,-10 M450,680.7 l-12,-10 M460,683.7 l-12,-10 M470,687.6 l-12,-10 M180,693.1 l10,14 M189,697.2 l10,14 M198,701.1 l10,14 M207,705.0 l10,14 M216,708.7 l10,14 M225,712.1 l10,14 M234,714.7 l10,14 M243,716.8 l10,14 M252,718.1 l10,14" fill="none" stroke="#4c4c4c" stroke-width="2.5" filter="url(#b1)"/>
<path d="M80.0,704.1 L88.8,696.2 L97.6,690.4 L111.8,686.1 L124.1,684.4 L134.7,684.0 L150.6,684.7 L159.4,686.5 L175.3,690.9 L185.9,695.8 L200.0,702.0 L212.4,707.3 L224.7,712.0 L238.8,716.1 L249.4,717.9 L260.0,718.6 L274.1,718.2 L286.5,716.8 L300.6,711.5 L312.9,702.6 L327.1,691.2 L339.4,684.5 L353.5,679.7 L369.4,676.7 L383.5,674.8 L401.2,674.6 L417.1,674.8 L429.4,677.1 L440.0,678.6 L450.6,680.8 L464.7,685.2 L477.1,690.9 L489.4,698.8 L498.2,706.2 L507.1,715.6 L515.9,722.6 L526.5,729.7 L538.8,734.1 L552.9,736.8 L565.3,738.7 L581.2,739.8 L598.8,739.8 L609.4,738.9 L620.0,738.7 L637.8,736.4 L662.8,735.1 L687.8,733.9 L709.2,732.8 L734.2,731.0 L753.8,728.9 L768.1,725.7 L780.6,721.7 L789.5,717.3 L799.0,708.9 L801.0,707.0" fill="none" stroke="#3d3d3d" stroke-width="11" filter="url(#b3)"/>
<path d="M80.0,704.1 L88.8,696.2 L97.6,690.4 L111.8,686.1 L124.1,684.4 L134.7,684.0 L150.6,684.7 L159.4,686.5 L175.3,690.9 L185.9,695.8 L200.0,702.0 L212.4,707.3 L224.7,712.0 L238.8,716.1 L249.4,717.9 L260.0,718.6 L274.1,718.2 L286.5,716.8 L300.6,711.5 L312.9,702.6 L327.1,691.2 L339.4,684.5 L353.5,679.7 L369.4,676.7 L383.5,674.8 L401.2,674.6 L417.1,674.8 L429.4,677.1 L440.0,678.6 L450.6,680.8 L464.7,685.2 L477.1,690.9 L489.4,698.8 L498.2,706.2 L507.1,715.6 L515.9,722.6 L526.5,729.7 L538.8,734.1 L552.9,736.8 L565.3,738.7 L581.2,739.8 L598.8,739.8 L609.4,738.9 L620.0,738.7 L637.8,736.4 L662.8,735.1 L687.8,733.9 L709.2,732.8 L734.2,731.0 L753.8,728.9 L768.1,725.7 L780.6,721.7 L789.5,717.3 L799.0,708.9 L801.0,707.0" fill="none" stroke="#242424" stroke-width="4.5" filter="url(#b1)"/>
</g>
</g></g>
<defs>
<linearGradient id="p2t" x1="0" y1="0" x2="0" y2="1"><stop offset="0" stop-color="#f02d10"/><stop offset="0.25" stop-color="#f8160a"/><stop offset="0.5" stop-color="#ff0000"/></linearGradient>
<linearGradient id="p2tx" x1="0" y1="0" x2="1" y2="0"><stop offset="0" stop-color="#ee3212" stop-opacity="1"/><stop offset="0.28" stop-color="#f02d10" stop-opacity="0.9"/><stop offset="0.5" stop-color="#ff0000" stop-opacity="0"/><stop offset="0.9" stop-color="#ff0000" stop-opacity="0"/><stop offset="1" stop-color="#f02d10" stop-opacity="0.6"/></linearGradient>
<linearGradient id="p2b" gradientUnits="userSpaceOnUse" x1="0" y1="510" x2="0" y2="541"><stop offset="0" stop-color="#e25a1d"/><stop offset="0.5" stop-color="#da7025"/><stop offset="1" stop-color="#d67b29"/></linearGradient>
<linearGradient id="p2og" gradientUnits="userSpaceOnUse" x1="372" y1="426" x2="448" y2="490"><stop offset="0" stop-color="#86f57c"/><stop offset="0.35" stop-color="#b4e264"/><stop offset="0.6" stop-color="#dcb444"/><stop offset="0.85" stop-color="#e86422"/><stop offset="1" stop-color="#e84818"/></linearGradient>
<linearGradient id="p2wd" gradientUnits="userSpaceOnUse" x1="708" y1="408" x2="748" y2="440"><stop offset="0" stop-color="#ff0000"/><stop offset="0.45" stop-color="#e85a20"/><stop offset="0.8" stop-color="#c8c040"/><stop offset="1" stop-color="#8cf47a"/></linearGradient>
</defs>
<g clip-path="url(#c2)">
<rect x="80" y="360" width="721" height="181" fill="#c0c0c0"/>
<g fill="#808080"><polygon points="110.4,392.6 115.3,389.6 122.0,389.1 120.2,393.9 117.4,396.5 112.6,396.2"/><polygon points="80.0,403.8 86.2,400.2 93.2,400.9 101.2,402.4 106.5,400.2 115.3,398.5 125.0,397.1 134.7,397.4 140.9,396.2 149.7,395.3 157.6,395.8 162.9,397.4 164.7,400.9 168.2,399.2 175.3,397.9 183.2,398.5 187.6,400.9 192.9,402.0 201.8,400.9 212.3,402.4 222.9,400.2 230.0,400.9 235.3,397.4 239.7,397.9 244.1,402.4 252.0,404.1 260.0,406.2 260.0,420.9 253.8,420.9 249.4,419.1 242.3,418.2 237.0,416.1 230.0,414.3 221.2,411.2 210.6,411.2 203.5,412.1 194.7,411.5 188.5,410.3 186.8,406.2 183.2,407.3 178.8,411.2 173.5,410.3 168.2,406.8 159.4,406.8 154.1,408.0 147.9,406.8 140.0,408.5 132.9,407.6 124.1,406.2 115.3,406.2 109.1,405.5 104.7,406.8 97.6,407.3 92.4,409.8 87.1,407.6 80.0,406.8"/><polygon points="80.0,412.9 90.6,412.9 97.6,414.7 103.8,411.5 111.8,410.3 119.7,410.8 121.5,412.9 117.9,416.1 110.0,417.3 106.5,420.3 101.2,419.1 96.8,422.1 90.6,420.0 85.3,421.8 80.0,422.6"/><polygon points="80.0,432.7 86.2,431.5 90.6,437.6 93.2,442.9 92.4,450.0 80.0,450.0"/><polygon points="96.8,430.6 102.9,429.2 110.9,426.7 124.1,424.9 138.2,424.6 154.1,425.6 164.7,429.2 178.8,433.8 192.9,439.4 203.5,444.3 212.3,448.6 215.0,450.0 168.2,450.0 168.2,442.9 157.6,441.5 155.9,448.2 154.1,450.0 153.2,446.5 139.1,442.6 132.9,440.3 127.6,438.5 123.2,435.0 115.3,433.8 108.2,434.5 101.2,432.3"/><polygon points="207.1,427.9 214.1,429.2 221.2,427.4 230.0,429.7 235.3,434.1 234.4,440.3 230.0,446.5 229.1,450.0 219.4,450.0 215.9,446.5 210.6,442.9 210.6,437.6 207.9,432.3"/><polygon points="244.1,431.5 249.4,429.7 260.0,429.2 260.0,437.6 249.4,436.8 245.0,435.0"/><polygon points="87.9,460.9 93.2,456.2 101.2,453.9 111.8,453.5 122.4,454.9 132.9,450.9 133.8,457.9 157.6,457.9 158.5,453.5 162.9,450.0 189.4,450.0 185.9,453.5 178.8,452.6 173.5,453.9 166.5,459.7 162.1,466.8 154.1,469.4 147.1,468.5 140.9,471.2 140.0,466.8 132.9,464.1 124.1,462.4 110.0,459.7 99.4,461.5 94.1,465.0 88.8,473.8 87.9,467.6"/><polygon points="140.0,472.9 147.1,469.4 162.9,467.6 171.8,469.1 178.8,467.6 184.1,463.2 185.9,457.9 192.9,457.9 196.5,453.5 210.6,452.6 214.1,457.1 221.2,457.9 233.5,458.8 235.3,466.8 249.4,466.8 256.5,460.6 260.0,460.6 260.0,468.5 249.4,470.8 238.8,474.4 226.5,477.9 214.1,479.6 203.5,481.4 189.4,483.2 171.8,484.4 164.7,486.2 157.6,485.3 154.1,487.9 141.8,488.5 138.2,491.5 140.0,494.1 132.9,495.0 131.2,491.5 124.1,489.7 117.9,485.3 117.9,480.9 122.4,477.4 131.2,475.6"/><polygon points="80.0,484.4 87.1,481.8 97.6,481.4 106.5,483.5 113.5,487.9 114.4,493.2 108.2,496.2 101.2,499.4 90.6,497.6 83.5,499.4 80.0,498.5"/><polygon points="80.0,503.8 92.4,502.9 102.9,501.5 115.3,502.6 124.1,501.2 138.2,502.9 154.1,501.5 171.8,500.6 185.9,502.9 192.9,500.3 203.5,500.8 214.1,504.7 226.5,508.2 230.0,504.7 238.8,502.1 249.4,500.3 260.0,501.2 260.0,523.2 258.2,521.5 215.0,521.5 210.6,519.2 190.3,518.8 185.9,517.1 175.3,516.7 170.9,514.4 159.4,513.9 155.9,511.8 121.5,511.8 117.9,513.2 110.9,513.2 106.5,517.1 80.0,517.1"/><polygon points="185.0,500.3 189.4,497.6 193.8,498.5 191.2,501.5"/><polygon points="205.3,495.0 210.6,492.4 215.9,495.0 211.5,497.3"/><polygon points="260.0,406.2 270.6,406.8 279.4,407.3 286.5,406.2 295.3,403.2 299.7,406.2 309.4,407.3 320.0,405.5 325.3,406.2 330.6,409.1 337.6,409.8 341.2,412.9 355.3,411.2 360.6,407.3 365.9,405.5 372.9,406.2 370.3,409.8 376.5,412.1 387.1,412.6 399.4,411.5 402.9,413.3 418.8,412.9 429.4,411.5 440.0,412.9 440.0,450.0 421.5,450.0 421.5,439.4 415.3,435.9 374.7,435.9 370.3,439.1 383.5,440.3 397.6,440.8 406.5,443.8 410.0,450.0 383.5,450.0 381.8,444.7 374.7,442.1 367.6,444.7 365.9,450.0 354.4,450.0 355.3,446.5 335.9,447.3 332.3,442.9 327.1,442.1 312.9,442.9 307.6,446.5 304.1,450.0 284.7,450.0 282.9,446.5 290.0,442.9 295.3,437.6 288.2,435.9 286.5,430.6 279.4,426.2 280.3,420.9 270.6,420.9 260.0,420.9"/><polygon points="422.3,385.1 426.8,384.0 429.8,386.5 424.1,387.2"/><polygon points="393.2,396.4 397.3,396.0 398.0,398.5 393.8,398.8"/><polygon points="260.0,459.7 270.6,458.8 281.2,457.9 295.3,455.3 304.1,451.8 305.9,450.0 334.1,450.0 330.6,453.5 327.1,458.8 318.2,462.4 312.9,465.9 304.1,467.6 295.3,471.2 277.6,472.1 267.1,471.2 260.0,472.6"/><polygon points="326.2,472.9 330.6,469.4 337.6,467.6 344.7,469.8 348.2,474.7 352.6,478.2 351.8,481.8 348.2,483.5 353.5,488.8 362.3,491.5 365.9,489.7 372.9,487.9 372.9,492.4 365.9,495.0 358.8,495.0 351.8,494.1 346.5,487.9 344.7,483.5 337.6,479.1 330.6,479.1 327.1,476.5"/><polygon points="350.9,450.0 364.1,450.0 360.6,452.1 353.5,451.8"/><polygon points="380.0,450.0 410.0,450.0 410.9,465.9 418.8,471.2 429.4,475.6 440.0,476.5 440.0,482.6 429.4,481.8 418.8,479.1 413.5,476.5 401.2,477.4 390.6,478.2 387.1,476.5 394.1,473.8 383.5,472.9 378.2,471.2 387.1,467.6 397.6,464.1 395.9,458.8 390.6,457.1 383.5,453.5"/><polygon points="364.1,481.8 369.4,476.5 376.5,474.7 378.2,477.4 372.9,480.0 381.8,482.6 390.6,480.9 401.2,479.1 413.5,478.2 415.3,480.9 404.7,483.5 394.1,485.3 383.5,486.2 374.7,485.3 367.6,484.4"/><polygon points="260.0,506.5 267.1,509.1 275.9,506.5 282.9,502.9 291.8,499.4 302.4,498.5 309.4,502.1 320.0,502.9 330.6,501.2 341.2,501.5 351.8,502.9 355.3,498.5 365.9,497.3 372.9,499.4 383.5,498.5 394.1,499.4 401.2,501.2 411.8,502.9 422.3,500.3 429.4,502.9 440.0,502.9 440.0,511.8 410.0,511.8 406.5,509.1 401.2,510.0 395.9,513.5 382.6,514.4 380.0,516.2 361.5,516.7 358.8,518.8 348.2,519.2 344.7,521.5 316.5,522.0 313.8,524.1 260.0,524.1"/><polygon points="313.8,484.4 318.2,482.6 327.1,483.5 337.6,486.2 335.9,489.2 327.1,487.9 318.2,487.4"/><polygon points="315.6,492.4 321.8,490.6 325.3,493.2 320.0,495.5"/><polygon points="401.2,497.6 408.2,496.2 417.0,496.2 410.0,499.1 402.9,499.8"/><polygon points="492.9,394.4 500.0,391.8 507.1,392.1 505.3,394.4 496.5,396.2"/><polygon points="510.6,393.5 515.9,388.2 522.9,387.4 531.8,388.2 538.8,389.6 545.9,390.0 552.9,390.4 552.9,397.9 545.9,397.1 538.8,396.2 535.3,394.4 528.2,391.8 521.2,391.8 515.9,394.4"/><polygon points="450.6,395.6 456.8,394.9 457.3,397.4 451.5,397.9"/><polygon points="462.1,397.9 468.2,397.1 469.1,399.7 462.9,400.2"/><polygon points="517.6,410.3 523.8,409.9 522.9,412.4"/><polygon points="440.0,415.6 448.8,414.7 459.4,417.3 471.8,419.1 484.1,420.0 491.2,421.8 498.2,420.9 507.1,420.0 517.6,417.3 522.9,418.2 528.2,423.5 535.3,427.9 542.3,434.1 543.2,441.2 538.8,444.7 533.5,446.5 528.2,448.2 531.8,450.0 501.8,450.0 492.9,444.7 484.1,442.9 475.3,437.6 470.0,440.3 462.9,442.9 450.6,442.9 447.1,446.5 455.9,448.2 464.7,446.5 475.3,448.2 484.1,450.0 440.0,450.0"/><polygon points="561.8,442.9 567.1,438.5 574.1,437.6 581.2,435.0 590.0,435.9 597.0,437.6 598.8,442.9 591.8,444.7 586.5,442.9 579.4,444.7 574.1,442.9 570.6,446.5 571.5,450.0 561.8,450.0"/><polygon points="450.6,451.8 461.2,450.0 498.2,450.0 496.5,455.3 500.9,460.6 510.6,457.9 517.6,460.6 522.9,467.6 514.1,470.3 505.3,474.7 501.8,479.1 492.9,476.5 484.1,475.6 475.3,479.1 466.5,478.2 459.4,476.5 450.6,474.7 450.6,469.4 445.3,466.8 440.0,465.9 440.0,460.6 447.1,458.8"/><polygon points="521.2,450.0 552.9,450.0 549.4,455.3 538.8,457.9 528.2,462.4 524.7,466.8 517.6,460.6 519.4,453.5"/><polygon points="440.0,476.5 447.1,475.6 455.9,478.2 450.6,482.6 440.0,484.4"/><polygon points="452.4,490.6 459.4,489.2 462.9,491.5 455.9,493.2"/><polygon points="520.3,491.5 526.5,487.1 538.8,486.2 545.9,487.9 544.1,492.4 538.8,495.0 531.8,491.5 524.7,493.2"/><polygon points="545.9,486.2 560.0,482.6 574.1,481.8 590.0,482.6 598.8,480.9 620.0,480.4 620.0,491.5 609.4,492.4 598.8,490.6 591.8,493.2 584.7,492.4 577.6,494.1 570.6,492.4 563.5,494.1 556.5,492.4 549.4,491.5"/><polygon points="440.0,501.2 447.1,499.4 457.6,502.1 470.0,501.2 475.3,495.9 485.9,495.0 492.9,493.2 500.0,494.1 501.8,498.5 510.6,501.2 521.2,502.9 531.8,497.6 538.8,498.5 545.9,495.9 552.9,498.5 563.5,495.9 574.1,497.6 577.6,502.9 570.6,508.2 569.7,517.1 568.8,527.6 563.5,531.5 560.0,530.3 538.8,529.4 535.3,527.6 521.2,526.2 514.1,524.5 508.8,522.0 492.9,521.5 487.6,519.7 466.5,517.9 459.4,515.3 448.8,514.4 444.4,512.1 440.0,511.8"/><polygon points="570.6,502.9 620.0,497.6 620.0,501.2 581.2,505.6 571.5,507.3"/><polygon points="570.6,511.8 598.8,510.0 620.0,506.5 620.0,510.9 598.8,513.9 570.6,515.6"/><polygon points="572.3,520.6 598.8,517.9 620.0,517.1 620.0,524.1 598.8,523.2 574.1,525.0"/><polygon points="570.6,527.6 620.0,527.6 620.0,531.5 570.6,531.5"/><polygon points="579.4,463.2 586.5,462.4 589.1,465.0 581.2,466.8"/><polygon points="588.2,475.6 593.5,474.7 595.3,477.4 589.1,477.9"/><polygon points="663.7,398.4 670.0,394.8 680.7,393.9 684.2,395.7 678.9,400.1 677.1,403.7 670.0,404.6 664.6,401.9"/><polygon points="684.2,400.1 691.4,398.4 698.5,400.1 702.1,403.7 694.9,405.5 687.8,404.3"/><polygon points="734.2,395.7 741.3,393.0 748.5,392.1 752.0,386.8 752.9,393.9 759.2,394.8 762.7,395.7 757.4,400.1 755.6,405.5 750.3,410.0 744.9,406.4 739.5,407.3 736.0,402.8"/><polygon points="788.6,389.4 794.9,390.3 799.3,395.7 799.3,402.8 795.8,401.0 791.3,395.7"/><polygon points="775.2,413.5 780.6,410.0 785.9,411.7 782.4,416.2 777.0,417.1"/><polygon points="787.7,414.4 799.3,413.5 799.3,421.6 791.3,418.9"/><polygon points="769.9,431.4 780.6,428.7 791.3,429.6 798.4,433.2 799.3,443.9 791.3,447.4 780.6,440.3 773.5,436.7"/><polygon points="766.3,405.5 773.5,404.6 780.6,402.8 791.3,401.0 796.6,401.9 791.3,404.6 780.6,406.0 771.7,409.1 767.2,408.2"/><polygon points="623.6,443.9 630.7,442.1 639.6,436.7 643.2,431.4 639.6,426.0 646.8,424.2 655.7,426.9 661.0,431.4 678.9,433.2 687.8,432.3 688.7,438.5 686.0,443.9 687.8,447.4 678.9,451.0 673.5,447.4 666.4,444.8 655.7,445.6 646.8,443.9 637.8,447.4 627.1,448.3"/><polygon points="670.9,425.1 677.1,422.8 689.6,423.9 689.6,427.8 678.9,429.2 671.7,428.2"/><polygon points="694.0,446.5 698.5,439.4 703.9,440.3 702.1,445.6 705.6,451.0 694.0,451.0"/><polygon points="620.0,480.3 630.7,478.5 641.4,476.8 655.7,475.0 673.5,474.6 691.4,474.1 709.2,473.2 727.1,472.3 744.9,471.1 762.7,467.8 780.6,463.4 791.3,458.0 800.6,451.8 800.6,460.7 791.3,463.4 785.9,467.8 780.6,473.2 771.7,471.4 762.7,474.1 766.3,482.1 780.6,484.8 800.6,483.9 800.6,516.4 779.7,516.4 777.0,518.3 724.4,518.7 721.7,520.5 689.6,521.0 686.9,522.8 674.4,523.2 671.7,525.8 658.4,525.8 655.7,528.2 638.7,528.5 636.1,531.2 620.0,531.7"/><polygon points="623.6,457.1 628.9,455.4 630.7,458.0 625.4,458.9"/><polygon points="637.8,451.8 648.5,450.0 673.5,450.0 670.0,452.7 655.7,453.6 643.2,454.5"/><polygon points="634.3,467.0 641.4,465.2 639.6,468.7"/><polygon points="643.2,473.2 652.1,469.6 662.8,467.8 666.4,464.3 677.1,463.4 687.8,460.7 698.5,458.0 712.8,455.4 719.9,456.2 723.5,459.8 716.4,463.4 705.6,467.0 694.9,467.8 686.0,469.6 678.9,473.2 668.2,474.1 655.7,475.0"/><polygon points="694.9,450.0 709.2,450.0 705.6,452.1 696.7,451.8"/><polygon points="731.5,456.2 737.8,454.5 736.9,458.0 732.4,458.6"/><polygon points="540.0,434.5 542.0,435.5 543.9,442.4 545.9,449.2 552.7,452.2 551.8,456.1 545.9,458.0 540.0,460.0"/><polygon points="579.2,464.4 583.1,462.9 589.0,461.5 591.0,462.5 586.1,466.4 580.2,466.9"/><polygon points="624.3,443.8 628.2,442.4 634.1,441.4 638.0,438.4 640.0,438.4 640.0,447.3 634.1,448.2 628.2,447.3 624.3,446.3"/><polygon points="623.3,458.0 626.3,455.1 630.2,456.1 626.3,458.5"/><polygon points="634.1,461.0 640.0,459.5 640.0,462.9 635.1,463.4"/></g>
<g fill="#c0c0c0"><polygon points="187.6,468.5 192.9,461.5 201.8,459.2 207.9,462.4 203.5,467.6 194.7,469.8"/><polygon points="217.6,459.7 231.8,458.8 234.4,464.1 228.2,466.8 219.4,465.9"/><polygon points="291.8,420.9 297.9,416.8 311.2,416.5 316.5,421.8 307.6,423.9 295.3,423.9"/><polygon points="303.2,429.7 307.6,424.4 318.2,425.3 330.6,429.7 327.1,432.7 312.9,433.8 305.0,432.7"/><polygon points="334.1,435.0 337.6,427.9 348.2,425.6 357.1,427.9 357.9,434.1 348.2,437.3 339.4,437.6"/><polygon points="492.1,426.2 496.5,423.9 501.8,425.6 498.2,428.8 492.9,428.5"/><polygon points="620.0,485.7 627.1,483.9 637.8,481.2 645.0,482.1 636.1,485.7 627.1,488.4 620.0,490.1"/><polygon points="627.1,495.5 637.8,491.9 652.1,485.7 666.4,481.2 678.9,479.4 691.4,480.3 705.6,478.5 709.2,483.0 698.5,485.7 687.8,486.6 678.9,488.4 670.0,490.1 659.3,494.6 646.8,496.4 636.1,499.1"/><polygon points="643.2,503.5 655.7,500.9 661.0,498.2 662.8,500.9 655.7,504.4 646.8,506.2"/><polygon points="659.3,516.0 673.5,509.8 687.8,504.4 698.5,500.0 705.6,499.1 703.9,503.5 694.9,507.1 687.8,511.6 678.9,514.2 670.0,517.8"/><polygon points="709.2,479.4 716.4,476.8 723.5,478.5 730.6,482.1 727.1,484.8 716.4,483.9"/><polygon points="727.1,484.8 734.2,483.0 743.1,480.3 748.5,475.0 753.8,475.0 755.6,479.4 752.0,483.9 744.9,487.5 734.2,488.4"/><polygon points="730.6,508.9 737.8,502.6 746.7,500.0 748.5,502.6 741.3,507.1 734.2,510.7"/><polygon points="750.3,504.4 759.2,501.7 768.1,497.3 780.6,496.4 785.9,498.2 777.0,501.7 766.3,503.5 757.4,507.1"/><polygon points="762.7,483.0 768.1,479.4 775.2,476.8 780.6,474.1 785.9,468.7 791.3,464.3 800.6,461.6 800.6,483.0 780.6,483.9 769.9,484.8"/><polygon points="785.9,493.7 794.9,491.9 798.4,493.7 791.3,495.5"/><polygon points="787.7,501.7 798.4,500.0 799.3,502.6 789.5,503.5"/><polygon points="789.5,509.8 800.6,507.1 800.6,511.6 791.3,512.5"/><polygon points="757.4,509.8 762.7,508.9 761.0,512.5"/><polygon points="775.2,508.9 780.6,508.0 781.5,510.7"/><polygon points="620.0,526.7 630.7,525.8 636.1,528.5 620.0,530.3"/><polygon points="693.2,465.2 698.5,463.4 700.3,467.0 694.9,467.8"/></g>
<polygon points="80.0,360.0 80.0,384.7 82.1,381.5 161.2,381.2 164.7,383.8 177.0,385.6 181.5,387.4 187.6,387.4 192.9,390.9 200.0,393.5 206.2,397.4 212.3,393.5 215.0,392.3 252.9,391.9 256.5,394.4 260.0,394.6 265.3,397.1 273.2,397.1 275.9,394.4 282.9,393.5 292.6,387.4 302.4,386.8 312.9,380.8 327.1,378.5 330.6,376.8 357.9,376.2 360.6,374.1 403.8,373.8 406.5,376.2 440.0,376.2 445.3,376.8 447.9,378.5 474.4,379.1 477.9,381.5 505.3,382.1 507.9,384.7 521.2,385.6 522.9,386.8 545.9,386.8 549.4,389.1 561.8,389.6 566.2,392.6 566.2,396.2 561.8,398.8 552.9,399.7 548.5,397.9 535.3,397.1 530.0,394.4 522.9,393.2 522.9,397.9 528.2,401.5 538.8,405.0 547.6,409.4 560.0,412.9 560.9,427.1 558.6,428.1 558.6,431.6 561.1,433.5 565.5,430.6 572.4,427.2 578.2,424.7 590.0,424.7 594.9,427.2 600.8,428.6 606.7,431.1 608.6,434.5 612.5,436.5 613.0,442.4 617.5,446.3 620.4,444.8 621.4,436.5 626.3,433.5 627.3,431.1 632.2,428.6 633.1,425.7 638.0,423.2 655.7,422.5 658.4,420.3 690.5,420.3 694.9,422.5 701.2,425.1 709.2,428.7 713.7,434.1 728.8,435.8 729.7,437.6 752.0,437.6 752.0,430.5 747.6,428.7 746.7,422.5 741.3,418.9 734.2,414.4 731.5,411.7 731.5,403.7 727.1,400.1 723.5,400.7 716.4,402.8 709.2,403.7 703.9,406.8 698.5,407.8 694.9,409.6 678.9,409.6 675.3,407.8 662.8,406.8 658.4,403.7 656.6,399.3 660.1,395.7 671.7,394.3 673.5,392.1 691.4,392.1 695.8,393.9 699.4,392.1 711.0,391.8 714.6,389.4 721.7,388.2 725.3,386.8 730.6,386.4 737.8,382.3 747.6,381.8 752.0,385.0 757.4,386.8 762.8,390.3 766.3,392.1 771.7,388.6 780.6,388.6 787.7,384.6 799.3,384.1 802.0,384.0 802.0,360.0" fill="#ff0000" stroke="#5fa8c8" stroke-width="0.8"/>
<clipPath id="cp2t"><polygon points="80.0,360.0 80.0,384.7 82.1,381.5 161.2,381.2 164.7,383.8 177.0,385.6 181.5,387.4 187.6,387.4 192.9,390.9 200.0,393.5 206.2,397.4 212.3,393.5 215.0,392.3 252.9,391.9 256.5,394.4 260.0,394.6 265.3,397.1 273.2,397.1 275.9,394.4 282.9,393.5 292.6,387.4 302.4,386.8 312.9,380.8 327.1,378.5 330.6,376.8 357.9,376.2 360.6,374.1 403.8,373.8 406.5,376.2 440.0,376.2 445.3,376.8 447.9,378.5 474.4,379.1 477.9,381.5 505.3,382.1 507.9,384.7 521.2,385.6 522.9,386.8 545.9,386.8 549.4,389.1 561.8,389.6 566.2,392.6 566.2,396.2 561.8,398.8 552.9,399.7 548.5,397.9 535.3,397.1 530.0,394.4 522.9,393.2 522.9,397.9 528.2,401.5 538.8,405.0 547.6,409.4 560.0,412.9 560.9,427.1 558.6,428.1 558.6,431.6 561.1,433.5 565.5,430.6 572.4,427.2 578.2,424.7 590.0,424.7 594.9,427.2 600.8,428.6 606.7,431.1 608.6,434.5 612.5,436.5 613.0,442.4 617.5,446.3 620.4,444.8 621.4,436.5 626.3,433.5 627.3,431.1 632.2,428.6 633.1,425.7 638.0,423.2 655.7,422.5 658.4,420.3 690.5,420.3 694.9,422.5 701.2,425.1 709.2,428.7 713.7,434.1 728.8,435.8 729.7,437.6 752.0,437.6 752.0,430.5 747.6,428.7 746.7,422.5 741.3,418.9 734.2,414.4 731.5,411.7 731.5,403.7 727.1,400.1 723.5,400.7 716.4,402.8 709.2,403.7 703.9,406.8 698.5,407.8 694.9,409.6 678.9,409.6 675.3,407.8 662.8,406.8 658.4,403.7 656.6,399.3 660.1,395.7 671.7,394.3 673.5,392.1 691.4,392.1 695.8,393.9 699.4,392.1 711.0,391.8 714.6,389.4 721.7,388.2 725.3,386.8 730.6,386.4 737.8,382.3 747.6,381.8 752.0,385.0 757.4,386.8 762.8,390.3 766.3,392.1 771.7,388.6 780.6,388.6 787.7,384.6 799.3,384.1 802.0,384.0 802.0,360.0"/></clipPath>
<g clip-path="url(#cp2t)"><g filter="url(#b4)">
<polygon points="60.0,340.0 330.0,340.0 318.0,368.0 295.0,376.0 230.0,381.0 175.0,383.0 60.0,385.0" fill="#f02d10"/>
<polygon points="330.0,340.0 500.0,340.0 500.0,364.0 330.0,366.0" fill="#f51f0b"/>
<polygon points="720.0,340.0 820.0,340.0 820.0,386.0 780.0,382.0 745.0,370.0" fill="#f02d10"/>
</g></g>
<polygon points="80.0,517.0 106.5,517.0 110.9,513.2 117.9,513.2 121.5,511.8 155.9,511.8 159.4,513.9 170.9,514.4 175.3,516.7 185.9,517.0 190.3,518.8 210.6,519.2 215.0,521.5 258.2,521.5 260.0,524.1 313.8,524.1 316.5,522.0 344.7,521.5 348.2,519.2 358.8,518.8 361.5,516.7 380.0,516.2 382.6,514.4 395.9,513.5 401.2,510.0 406.5,509.1 410.0,511.8 440.0,511.8 444.4,512.1 448.8,514.4 459.4,515.3 466.5,517.9 487.6,519.7 492.9,521.5 508.8,522.0 514.1,524.5 521.2,526.2 535.3,527.6 538.8,529.4 560.0,530.3 563.5,531.5 620.0,531.5 636.1,531.2 638.7,528.5 655.7,528.2 658.4,525.8 671.7,525.8 674.4,523.2 686.9,522.8 689.6,521.0 721.7,520.5 724.4,518.7 777.0,518.3 779.7,516.4 802.0,516.4 802.0,542.0 80.0,542.0" fill="url(#p2b)" stroke="#6fb0b0" stroke-width="0.8"/>
<clipPath id="cp2b"><polygon points="80.0,517.0 106.5,517.0 110.9,513.2 117.9,513.2 121.5,511.8 155.9,511.8 159.4,513.9 170.9,514.4 175.3,516.7 185.9,517.0 190.3,518.8 210.6,519.2 215.0,521.5 258.2,521.5 260.0,524.1 313.8,524.1 316.5,522.0 344.7,521.5 348.2,519.2 358.8,518.8 361.5,516.7 380.0,516.2 382.6,514.4 395.9,513.5 401.2,510.0 406.5,509.1 410.0,511.8 440.0,511.8 444.4,512.1 448.8,514.4 459.4,515.3 466.5,517.9 487.6,519.7 492.9,521.5 508.8,522.0 514.1,524.5 521.2,526.2 535.3,527.6 538.8,529.4 560.0,530.3 563.5,531.5 620.0,531.5 636.1,531.2 638.7,528.5 655.7,528.2 658.4,525.8 671.7,525.8 674.4,523.2 686.9,522.8 689.6,521.0 721.7,520.5 724.4,518.7 777.0,518.3 779.7,516.4 802.0,516.4 802.0,542.0 80.0,542.0"/></clipPath>
<g clip-path="url(#cp2b)">
<ellipse cx="140" cy="517" rx="125" ry="11" fill="#fa1005" filter="url(#b6)"/>
<ellipse cx="780" cy="520" rx="75" ry="10" fill="#f2280d" filter="url(#b6)"/>
</g>
<polygon points="713.7,434.1 728.8,435.8 729.7,437.6 752.0,437.6 752.0,430.5 747.6,428.7 746.7,422.5 741.3,418.9 734.2,414.4 731.5,411.7 731.5,403.7 727.1,400.1 716.0,403.0 705.0,410.0 698.0,420.0 709.2,428.7" fill="url(#p2wd)"/>
<polygon points="551.8,436.0 556.2,434.0 556.7,428.6 561.1,426.7 561.1,432.1 572.4,426.2 578.2,423.7 590.0,423.7 594.9,426.2 600.8,427.6 607.6,430.6 609.6,434.0 613.5,436.0 614.5,439.4 618.4,443.3 620.4,444.8 617.5,446.3 616.5,454.6 612.5,455.1 610.6,457.1 602.7,458.0 599.8,460.5 587.1,460.5 585.1,461.5 566.5,462.0 562.1,459.0 561.1,456.1 556.2,453.1 556.2,446.3 551.8,444.3" fill="#86f57c" stroke="#3a78e0" stroke-width="0.8"/>
<polygon points="608.0,432.0 614.0,436.0 620.0,444.0 617.0,447.0 612.0,444.0 610.0,438.0" fill="#e85020"/>
<polygon points="561.1,433.5 565.5,430.6 572.4,427.2 578.2,424.7 590.0,424.7 594.9,427.2 600.8,428.6 606.7,431.1 608.6,434.5 612.5,436.5 613.0,442.4 608.6,445.3 606.7,449.2 600.8,452.2 594.9,455.1 589.0,458.0 572.4,458.0 565.5,454.1 561.1,451.2 560.1,442.4" fill="#c0c0c0" stroke="#3a78e0" stroke-width="0.8"/>
<g fill="#808080"><polygon points="562.5,439.4 566.5,437.9 570.4,440.4 571.4,449.2 562.5,449.2"/><polygon points="571.4,438.4 577.3,436.0 582.2,434.5 586.1,436.5 596.9,436.3 598.8,441.4 608.6,442.8 607.6,444.3 602.7,445.3 594.9,445.8 593.9,448.7 579.2,448.7 572.4,451.2 576.3,444.3 573.3,439.4"/><polygon points="572.4,455.6 579.2,455.1 581.2,457.5 573.3,458.0"/></g>
<polygon points="209.7,415.6 215.9,415.1 226.5,420.0 233.5,420.9 243.2,423.5 242.3,432.3 237.0,429.7 230.0,427.9 224.7,426.2 221.2,420.9 214.1,418.2" fill="#86f57c" stroke="#3a78e0" stroke-width="0.8"/>
<polygon points="138.2,443.3 146.2,442.6 153.2,446.5 153.2,450.0 138.2,450.0" fill="#86f57c" stroke="#3a78e0" stroke-width="0.8"/>
<polygon points="133.8,450.0 153.2,450.0 154.1,452.6 157.6,453.9 150.6,455.3 147.1,457.9 134.7,457.4" fill="#86f57c" stroke="#3a78e0" stroke-width="0.8"/>
<polygon points="140.0,483.9 145.3,480.0 149.7,476.5 150.6,473.8 162.9,472.6 167.3,470.8 172.6,473.8 167.3,476.5 162.9,480.4 157.6,483.2 155.9,486.2 141.8,486.2" fill="#a8e060" stroke="#3ab0c0" stroke-width="0.8"/>
<polygon points="146.0,482.0 163.0,474.0 166.0,477.0 150.0,485.0" fill="#c8a040"/>
<polygon points="370.3,439.1 374.7,435.9 415.3,435.9 420.6,439.4 421.5,450.0 410.9,450.0 410.0,444.7 404.7,442.1 397.6,440.3 383.5,439.8" fill="url(#p2og)" stroke="#3f9fd0" stroke-width="1.6" stroke-linejoin="round"/>
<polygon points="395.9,486.2 401.2,485.3 404.7,487.1 401.2,489.2 396.8,488.5" fill="#86f57c" stroke="#3a78e0" stroke-width="0.8"/>
<polygon points="410.9,450.0 419.7,450.0 421.5,457.1 427.6,462.4 440.0,467.6 440.0,474.7 429.4,473.8 418.8,469.4 411.8,465.0" fill="url(#p2og)" stroke="#3f9fd0" stroke-width="1.6" stroke-linejoin="round"/>
<polygon points="440.0,468.5 445.3,467.6 449.7,469.4 448.8,472.9 443.5,474.7 440.0,474.7" fill="url(#p2og)" stroke="#3f9fd0" stroke-width="1.6" stroke-linejoin="round"/>
<polygon points="370.3,439.1 374.7,435.9 415.3,435.9 420.6,439.4 421.5,450.0 410.9,450.0 410.0,444.7 404.7,442.1 397.6,440.3 383.5,439.8" fill="url(#p2og)" stroke="url(#p2og)" stroke-width="0.4"/>
<polygon points="410.9,450.0 419.7,450.0 421.5,457.1 427.6,462.4 440.0,467.6 440.0,474.7 429.4,473.8 418.8,469.4 411.8,465.0" fill="url(#p2og)" stroke="url(#p2og)" stroke-width="0.4"/>
<polygon points="440.0,468.5 445.3,467.6 449.7,469.4 448.8,472.9 443.5,474.7 440.0,474.7" fill="url(#p2og)" stroke="url(#p2og)" stroke-width="0.4"/>
<path d="M80.0,444.1 L88.8,436.2 L97.6,430.4 L111.8,426.1 L124.1,424.4 L134.7,424.0 L150.6,424.7 L159.4,426.5 L175.3,430.9 L185.9,435.8 L200.0,442.0 L212.4,447.3 L224.7,452.0 L238.8,456.1 L249.4,457.9 L260.0,458.6 L274.1,458.2 L286.5,456.8 L300.6,451.5 L312.9,442.6 L327.1,431.2 L339.4,424.5 L353.5,419.7 L369.4,416.7 L383.5,414.8 L401.2,414.6 L417.1,414.8 L429.4,417.1 L440.0,418.6 L450.6,420.8 L464.7,425.2 L477.1,430.9 L489.4,438.8 L498.2,446.2 L507.1,455.6 L515.9,462.6 L526.5,469.7 L538.8,474.1 L552.9,476.8 L565.3,478.7 L581.2,479.8 L598.8,479.8 L609.4,478.9 L620.0,478.7 L637.8,476.4 L662.8,475.1 L687.8,473.9 L709.2,472.8 L734.2,471.0 L753.8,468.9 L768.1,465.7 L780.6,461.7 L789.5,457.3 L799.0,448.9 L801.0,447.0" fill="none" stroke="#000" stroke-width="2"/>
</g>
<g clip-path="url(#c1)">
<defs><linearGradient id="p1R" gradientUnits="userSpaceOnUse" x1="0" y1="100" x2="0" y2="280"><stop offset="0" stop-color="#fd9292"/><stop offset="0.25" stop-color="#fd8b8b"/><stop offset="0.34" stop-color="#fc7a7a"/><stop offset="0.62" stop-color="#fc7a7a"/><stop offset="0.72" stop-color="#fd8b8b"/><stop offset="1" stop-color="#fd8b8b"/></linearGradient><linearGradient id="p1B" gradientUnits="userSpaceOnUse" x1="0" y1="100" x2="0" y2="280"><stop offset="0" stop-color="#8f8ffd"/><stop offset="0.22" stop-color="#8f8ffd"/><stop offset="0.31" stop-color="#6f6ffa"/><stop offset="0.56" stop-color="#6f6ffa"/><stop offset="0.7" stop-color="#8181fd"/><stop offset="1" stop-color="#8888fe"/></linearGradient></defs>
<rect x="80" y="100" width="721" height="181" fill="url(#p1R)"/>
<polygon points="80.0,112.4 85.3,109.7 90.6,110.6 87.1,115.0 80.0,117.6" fill="url(#p1B)"/>
<polygon points="147.1,115.9 154.1,114.1 162.9,115.0 168.2,109.7 164.7,106.2 171.8,105.3 177.1,108.8 175.3,113.2 170.0,119.4 162.9,121.2 155.9,118.5 148.8,118.5" fill="url(#p1B)"/>
<polygon points="110.0,132.6 115.3,130.0 122.4,130.9 121.5,135.3 115.3,137.1 110.9,136.2" fill="url(#p1B)"/>
<polygon points="80.0,144.1 85.3,139.7 94.1,141.5 102.9,143.2 111.8,139.7 122.4,137.9 131.2,136.2 141.8,137.9 154.1,136.2 161.2,137.9 164.7,141.5 171.8,138.8 178.8,139.7 185.9,143.2 192.9,141.5 203.5,142.4 214.1,143.2 226.5,141.5 233.5,139.7 240.6,137.1 245.9,141.5 252.9,145.0 260.0,146.8 260.0,161.8 252.9,160.9 245.9,159.1 238.8,156.5 231.8,152.9 224.7,152.1 214.1,151.2 207.1,149.4 200.0,151.2 192.9,152.1 187.6,150.3 184.1,145.9 180.6,147.6 177.1,152.1 171.8,150.3 166.5,146.8 157.6,147.6 150.6,149.4 143.5,150.3 138.2,147.6 129.4,146.8 120.6,148.5 117.1,152.1 110.0,152.9 102.9,154.7 95.9,156.5 88.8,157.3 80.0,158.2" fill="url(#p1B)"/>
<polygon points="80.0,159.1 90.6,156.5 99.4,158.2 106.5,160.9 115.3,159.1 125.9,160.0 136.5,160.9 147.1,163.5 157.6,167.1 171.8,165.6 182.3,165.3 192.9,167.1 203.5,166.2 210.6,170.6 214.1,177.6 221.2,180.3 226.5,184.7 230.0,190.0 80.0,190.0" fill="url(#p1B)"/>
<polygon points="243.2,172.3 249.4,169.7 256.5,169.7 260.0,171.5 260.0,175.0 252.9,174.1 249.4,177.6 244.1,177.6" fill="url(#p1B)"/>
<polygon points="215.9,136.2 219.4,135.3 220.3,137.9 216.8,138.5" fill="url(#p1B)"/>
<polygon points="247.6,130.0 251.2,129.1 252.0,131.8 248.5,132.1" fill="url(#p1B)"/>
<polygon points="239.7,107.1 245.9,106.2 249.4,108.8 243.2,109.7" fill="url(#p1B)"/>
<polygon points="80.0,145.5 88.8,145.0 92.4,148.5 87.1,152.9 80.0,153.8" fill="url(#p1R)"/>
<polygon points="80.0,166.2 87.1,164.4 95.9,165.3 99.4,167.9 90.6,170.6 92.4,175.9 99.4,178.5 110.0,181.2 120.6,180.8 131.2,181.5 132.9,184.7 127.6,190.0 95.9,190.0 92.4,184.7 87.1,177.6 80.0,174.1" fill="url(#p1R)"/>
<polygon points="158.5,182.9 164.7,181.2 168.2,183.8 166.5,188.2 160.3,188.2" fill="url(#p1R)"/>
<polygon points="149.7,186.5 154.1,185.6 155.0,188.2 150.6,189.1" fill="url(#p1R)"/>
<polygon points="187.6,182.9 192.1,182.1 192.9,184.7 188.5,185.6" fill="url(#p1R)"/>
<polygon points="212.3,186.5 219.4,185.6 221.2,189.1 214.1,190.0" fill="url(#p1R)"/>
<path d="M80.0,112.4L85.3,109.7M85.3,109.7L90.6,110.6M90.6,110.6L87.1,115.0M87.1,115.0L80.0,117.6M147.1,115.9L154.1,114.1M154.1,114.1L162.9,115.0M162.9,115.0L168.2,109.7M168.2,109.7L164.7,106.2M164.7,106.2L171.8,105.3M171.8,105.3L177.1,108.8M177.1,108.8L175.3,113.2M175.3,113.2L170.0,119.4M170.0,119.4L162.9,121.2M162.9,121.2L155.9,118.5M155.9,118.5L148.8,118.5M148.8,118.5L147.1,115.9M110.0,132.6L115.3,130.0M115.3,130.0L122.4,130.9M122.4,130.9L121.5,135.3M121.5,135.3L115.3,137.1M115.3,137.1L110.9,136.2M110.9,136.2L110.0,132.6M80.0,144.1L85.3,139.7M85.3,139.7L94.1,141.5M94.1,141.5L102.9,143.2M102.9,143.2L111.8,139.7M111.8,139.7L122.4,137.9M122.4,137.9L131.2,136.2M131.2,136.2L141.8,137.9M141.8,137.9L154.1,136.2M154.1,136.2L161.2,137.9M161.2,137.9L164.7,141.5M164.7,141.5L171.8,138.8M171.8,138.8L178.8,139.7M178.8,139.7L185.9,143.2M185.9,143.2L192.9,141.5M192.9,141.5L203.5,142.4M203.5,142.4L214.1,143.2M214.1,143.2L226.5,141.5M226.5,141.5L233.5,139.7M233.5,139.7L240.6,137.1M240.6,137.1L245.9,141.5M245.9,141.5L252.9,145.0M252.9,145.0L260.0,146.8M260.0,161.8L252.9,160.9M252.9,160.9L245.9,159.1M245.9,159.1L238.8,156.5M238.8,156.5L231.8,152.9M231.8,152.9L224.7,152.1M224.7,152.1L214.1,151.2M214.1,151.2L207.1,149.4M207.1,149.4L200.0,151.2M200.0,151.2L192.9,152.1M192.9,152.1L187.6,150.3M187.6,150.3L184.1,145.9M184.1,145.9L180.6,147.6M180.6,147.6L177.1,152.1M177.1,152.1L171.8,150.3M171.8,150.3L166.5,146.8M166.5,146.8L157.6,147.6M157.6,147.6L150.6,149.4M150.6,149.4L143.5,150.3M143.5,150.3L138.2,147.6M138.2,147.6L129.4,146.8M129.4,146.8L120.6,148.5M120.6,148.5L117.1,152.1M117.1,152.1L110.0,152.9M110.0,152.9L102.9,154.7M102.9,154.7L95.9,156.5M95.9,156.5L88.8,157.3M88.8,157.3L80.0,158.2M80.0,159.1L90.6,156.5M90.6,156.5L99.4,158.2M99.4,158.2L106.5,160.9M106.5,160.9L115.3,159.1M115.3,159.1L125.9,160.0M125.9,160.0L136.5,160.9M136.5,160.9L147.1,163.5M147.1,163.5L157.6,167.1M157.6,167.1L171.8,165.6M171.8,165.6L182.3,165.3M182.3,165.3L192.9,167.1M192.9,167.1L203.5,166.2M203.5,166.2L210.6,170.6M210.6,170.6L214.1,177.6M214.1,177.6L221.2,180.3M221.2,180.3L226.5,184.7M226.5,184.7L230.0,190.0M243.2,172.3L249.4,169.7M249.4,169.7L256.5,169.7M256.5,169.7L260.0,171.5M260.0,175.0L252.9,174.1M252.9,174.1L249.4,177.6M249.4,177.6L244.1,177.6M244.1,177.6L243.2,172.3M215.9,136.2L219.4,135.3M219.4,135.3L220.3,137.9M220.3,137.9L216.8,138.5M216.8,138.5L215.9,136.2M247.6,130.0L251.2,129.1M251.2,129.1L252.0,131.8M252.0,131.8L248.5,132.1M248.5,132.1L247.6,130.0M239.7,107.1L245.9,106.2M245.9,106.2L249.4,108.8M249.4,108.8L243.2,109.7M243.2,109.7L239.7,107.1M80.0,145.5L88.8,145.0M88.8,145.0L92.4,148.5M92.4,148.5L87.1,152.9M87.1,152.9L80.0,153.8M80.0,166.2L87.1,164.4M87.1,164.4L95.9,165.3M95.9,165.3L99.4,167.9M99.4,167.9L90.6,170.6M90.6,170.6L92.4,175.9M92.4,175.9L99.4,178.5M99.4,178.5L110.0,181.2M110.0,181.2L120.6,180.8M120.6,180.8L131.2,181.5M131.2,181.5L132.9,184.7M132.9,184.7L127.6,190.0M95.9,190.0L92.4,184.7M92.4,184.7L87.1,177.6M87.1,177.6L80.0,174.1M158.5,182.9L164.7,181.2M164.7,181.2L168.2,183.8M168.2,183.8L166.5,188.2M166.5,188.2L160.3,188.2M160.3,188.2L158.5,182.9M149.7,186.5L154.1,185.6M154.1,185.6L155.0,188.2M155.0,188.2L150.6,189.1M150.6,189.1L149.7,186.5M187.6,182.9L192.1,182.1M192.1,182.1L192.9,184.7M192.9,184.7L188.5,185.6M188.5,185.6L187.6,182.9M212.3,186.5L219.4,185.6M219.4,185.6L221.2,189.1M221.2,189.1L214.1,190.0M214.1,190.0L212.3,186.5" fill="none" stroke="#e6deea" stroke-width="0.8" stroke-dasharray="1.2 2"/>
<rect x="80.0" y="190" width="180.5" height="91" fill="url(#p1B)"/>
<polygon points="80.0,190.0 99.4,190.0 96.8,194.4 90.6,197.9 85.3,200.6 87.9,205.9 85.3,212.9 80.0,215.6" fill="url(#p1R)"/>
<polygon points="106.5,190.0 122.4,190.0 118.8,192.6 110.0,192.6" fill="url(#p1R)"/>
<polygon points="90.6,214.7 95.9,207.6 102.9,203.2 113.5,202.4 120.6,206.8 129.4,208.5 138.2,205.9 141.8,207.6 136.5,212.9 131.2,219.1 124.1,218.2 117.9,220.9 115.3,226.2 119.7,231.5 126.8,234.1 138.2,235.0 147.1,235.9 157.6,234.1 168.2,230.6 175.3,227.9 185.9,225.3 196.5,226.2 207.1,222.6 215.9,220.9 217.6,223.5 210.6,227.1 203.5,229.7 208.8,234.1 215.9,233.2 224.7,227.9 231.8,222.6 238.8,219.1 245.9,213.8 252.0,211.2 260.0,214.7 260.0,242.9 254.7,244.7 249.4,241.2 238.8,241.2 230.0,242.9 226.5,249.1 217.6,250.0 208.8,246.5 201.8,245.6 194.7,242.1 185.9,243.8 178.8,242.9 173.5,240.3 164.7,240.3 157.6,241.2 147.1,242.9 138.2,243.8 127.6,242.9 120.6,241.2 113.5,242.1 110.0,239.4 115.3,235.0 112.6,229.7 104.7,227.9 101.2,222.6 94.1,220.9" fill="url(#p1R)"/>
<polygon points="80.0,240.3 87.1,236.8 95.9,232.4 102.9,230.6 104.7,234.1 97.6,237.6 90.6,241.2 85.3,244.7 80.0,248.2" fill="url(#p1R)"/>
<polygon points="108.2,239.4 115.3,236.8 117.9,239.4 111.8,242.1" fill="url(#p1R)"/>
<polygon points="162.1,206.8 168.2,200.6 173.5,194.4 177.9,197.9 181.5,204.1 185.9,206.8 182.3,209.4 175.3,207.6 168.2,208.5" fill="url(#p1R)"/>
<polygon points="169.1,210.3 175.3,209.4 185.9,209.8 192.9,211.2 185.9,213.8 175.3,213.8" fill="url(#p1R)"/>
<polygon points="145.3,212.9 150.6,209.4 157.6,208.5 154.1,212.9 147.9,214.7" fill="url(#p1R)"/>
<polygon points="185.0,196.2 190.3,194.4 192.9,197.1 187.6,198.8" fill="url(#p1R)"/>
<polygon points="191.2,203.2 196.5,199.7 203.5,200.6 208.8,203.2 214.1,199.7 221.2,197.9 228.2,200.6 233.5,205.0 226.5,207.6 219.4,205.0 212.3,206.8 203.5,206.8 196.5,205.9" fill="url(#p1R)"/>
<polygon points="207.1,193.5 214.1,191.8 215.9,195.3 209.7,196.2" fill="url(#p1R)"/>
<polygon points="232.6,196.2 238.8,191.8 245.9,190.0 260.0,190.0 260.0,200.6 256.5,205.9 252.9,200.6 245.9,197.1 238.8,197.9" fill="url(#p1R)"/>
<polygon points="142.6,229.7 148.8,227.9 157.6,228.8 159.4,231.5 150.6,232.4 143.5,232.4" fill="url(#p1R)"/>
<polygon points="87.1,273.8 94.1,272.9 97.6,275.6 90.6,276.5" fill="url(#p1R)"/>
<polygon points="113.5,276.5 117.9,273.8 124.1,274.7 128.5,277.9 115.3,278.2" fill="url(#p1R)"/>
<polygon points="210.6,235.0 215.9,234.1 219.4,237.6 221.2,242.9 215.9,243.8 212.3,240.3" fill="url(#p1B)"/>
<polygon points="189.4,227.9 193.8,227.1 194.7,230.6 190.3,231.5" fill="url(#p1B)"/>
<path d="M99.4,190.0L96.8,194.4M96.8,194.4L90.6,197.9M90.6,197.9L85.3,200.6M85.3,200.6L87.9,205.9M87.9,205.9L85.3,212.9M85.3,212.9L80.0,215.6M122.4,190.0L118.8,192.6M118.8,192.6L110.0,192.6M110.0,192.6L106.5,190.0M90.6,214.7L95.9,207.6M95.9,207.6L102.9,203.2M102.9,203.2L113.5,202.4M113.5,202.4L120.6,206.8M120.6,206.8L129.4,208.5M129.4,208.5L138.2,205.9M138.2,205.9L141.8,207.6M141.8,207.6L136.5,212.9M136.5,212.9L131.2,219.1M131.2,219.1L124.1,218.2M124.1,218.2L117.9,220.9M117.9,220.9L115.3,226.2M115.3,226.2L119.7,231.5M119.7,231.5L126.8,234.1M126.8,234.1L138.2,235.0M138.2,235.0L147.1,235.9M147.1,235.9L157.6,234.1M157.6,234.1L168.2,230.6M168.2,230.6L175.3,227.9M175.3,227.9L185.9,225.3M185.9,225.3L196.5,226.2M196.5,226.2L207.1,222.6M207.1,222.6L215.9,220.9M215.9,220.9L217.6,223.5M217.6,223.5L210.6,227.1M210.6,227.1L203.5,229.7M203.5,229.7L208.8,234.1M208.8,234.1L215.9,233.2M215.9,233.2L224.7,227.9M224.7,227.9L231.8,222.6M231.8,222.6L238.8,219.1M238.8,219.1L245.9,213.8M245.9,213.8L252.0,211.2M252.0,211.2L260.0,214.7M260.0,242.9L254.7,244.7M254.7,244.7L249.4,241.2M249.4,241.2L238.8,241.2M238.8,241.2L230.0,242.9M230.0,242.9L226.5,249.1M226.5,249.1L217.6,250.0M217.6,250.0L208.8,246.5M208.8,246.5L201.8,245.6M201.8,245.6L194.7,242.1M194.7,242.1L185.9,243.8M185.9,243.8L178.8,242.9M178.8,242.9L173.5,240.3M173.5,240.3L164.7,240.3M164.7,240.3L157.6,241.2M157.6,241.2L147.1,242.9M147.1,242.9L138.2,243.8M138.2,243.8L127.6,242.9M127.6,242.9L120.6,241.2M120.6,241.2L113.5,242.1M113.5,242.1L110.0,239.4M110.0,239.4L115.3,235.0M115.3,235.0L112.6,229.7M112.6,229.7L104.7,227.9M104.7,227.9L101.2,222.6M101.2,222.6L94.1,220.9M94.1,220.9L90.6,214.7M80.0,240.3L87.1,236.8M87.1,236.8L95.9,232.4M95.9,232.4L102.9,230.6M102.9,230.6L104.7,234.1M104.7,234.1L97.6,237.6M97.6,237.6L90.6,241.2M90.6,241.2L85.3,244.7M85.3,244.7L80.0,248.2M108.2,239.4L115.3,236.8M115.3,236.8L117.9,239.4M117.9,239.4L111.8,242.1M111.8,242.1L108.2,239.4M162.1,206.8L168.2,200.6M168.2,200.6L173.5,194.4M173.5,194.4L177.9,197.9M177.9,197.9L181.5,204.1M181.5,204.1L185.9,206.8M185.9,206.8L182.3,209.4M182.3,209.4L175.3,207.6M175.3,207.6L168.2,208.5M168.2,208.5L162.1,206.8M169.1,210.3L175.3,209.4M175.3,209.4L185.9,209.8M185.9,209.8L192.9,211.2M192.9,211.2L185.9,213.8M185.9,213.8L175.3,213.8M175.3,213.8L169.1,210.3M145.3,212.9L150.6,209.4M150.6,209.4L157.6,208.5M157.6,208.5L154.1,212.9M154.1,212.9L147.9,214.7M147.9,214.7L145.3,212.9M185.0,196.2L190.3,194.4M190.3,194.4L192.9,197.1M192.9,197.1L187.6,198.8M187.6,198.8L185.0,196.2M191.2,203.2L196.5,199.7M196.5,199.7L203.5,200.6M203.5,200.6L208.8,203.2M208.8,203.2L214.1,199.7M214.1,199.7L221.2,197.9M221.2,197.9L228.2,200.6M228.2,200.6L233.5,205.0M233.5,205.0L226.5,207.6M226.5,207.6L219.4,205.0M219.4,205.0L212.3,206.8M212.3,206.8L203.5,206.8M203.5,206.8L196.5,205.9M196.5,205.9L191.2,203.2M207.1,193.5L214.1,191.8M214.1,191.8L215.9,195.3M215.9,195.3L209.7,196.2M209.7,196.2L207.1,193.5M232.6,196.2L238.8,191.8M238.8,191.8L245.9,190.0M260.0,200.6L256.5,205.9M256.5,205.9L252.9,200.6M252.9,200.6L245.9,197.1M245.9,197.1L238.8,197.9M238.8,197.9L232.6,196.2M142.6,229.7L148.8,227.9M148.8,227.9L157.6,228.8M157.6,228.8L159.4,231.5M159.4,231.5L150.6,232.4M150.6,232.4L143.5,232.4M143.5,232.4L142.6,229.7M87.1,273.8L94.1,272.9M94.1,272.9L97.6,275.6M97.6,275.6L90.6,276.5M90.6,276.5L87.1,273.8M113.5,276.5L117.9,273.8M117.9,273.8L124.1,274.7M124.1,274.7L128.5,277.9M128.5,277.9L115.3,278.2M115.3,278.2L113.5,276.5M210.6,235.0L215.9,234.1M215.9,234.1L219.4,237.6M219.4,237.6L221.2,242.9M221.2,242.9L215.9,243.8M215.9,243.8L212.3,240.3M212.3,240.3L210.6,235.0M189.4,227.9L193.8,227.1M193.8,227.1L194.7,230.6M194.7,230.6L190.3,231.5M190.3,231.5L189.4,227.9" fill="none" stroke="#e6deea" stroke-width="0.8" stroke-dasharray="1.2 2"/>
<polygon points="260.0,146.2 270.6,146.2 281.2,147.6 290.0,145.9 295.3,143.2 298.8,146.8 307.6,148.5 316.5,146.2 320.9,145.0 327.1,147.3 334.1,149.8 341.2,151.5 351.8,152.6 356.2,151.2 360.6,146.2 369.4,144.5 373.8,146.8 372.9,151.2 381.8,151.5 388.8,152.6 397.6,151.2 402.9,152.9 410.0,156.5 418.8,158.2 422.3,152.9 429.4,152.1 436.5,151.2 440.0,150.3 440.0,190.0 260.0,190.0" fill="url(#p1B)"/>
<polygon points="325.3,102.6 330.6,101.4 337.6,102.1 339.4,105.3 334.1,108.5 327.9,107.1" fill="url(#p1B)"/>
<polygon points="422.3,123.8 427.6,122.1 432.0,124.7 429.4,127.9 423.2,127.4" fill="url(#p1B)"/>
<polygon points="393.2,136.2 397.6,135.3 399.4,137.9 395.0,139.2" fill="url(#p1B)"/>
<polygon points="267.9,104.9 271.5,104.4 272.0,107.1 268.5,107.4" fill="url(#p1B)"/>
<polygon points="260.0,162.6 267.1,161.8 275.9,163.5 281.2,167.9 282.9,174.1 288.2,177.6 304.1,177.6 318.2,179.4 330.6,180.8 333.2,183.8 327.1,186.5 312.9,188.2 295.3,187.3 286.5,189.1 286.5,190.0 260.0,190.0" fill="url(#p1R)"/>
<polygon points="292.6,159.1 298.8,156.5 311.2,156.1 320.0,154.7 320.9,156.8 312.9,160.9 312.1,163.5 304.1,164.4 295.3,162.6" fill="url(#p1R)"/>
<polygon points="304.1,169.7 307.6,166.2 314.7,163.9 327.1,163.2 337.6,164.9 348.2,166.7 355.3,167.9 357.9,172.3 356.2,176.8 348.2,178.0 339.4,176.8 334.1,173.2 327.1,170.6 318.2,172.3 311.2,173.2 305.9,172.3" fill="url(#p1R)"/>
<polygon points="365.9,186.5 371.2,182.9 378.2,180.3 381.8,183.8 380.0,187.3 372.9,190.0 365.9,190.0" fill="url(#p1R)"/>
<polygon points="340.3,187.3 348.2,185.6 355.3,188.2 353.5,190.0 340.3,190.0" fill="url(#p1R)"/>
<polygon points="436.5,182.9 440.0,182.1 440.0,188.2 437.3,187.3" fill="url(#p1R)"/>
<path d="M260.0,146.2L270.6,146.2M270.6,146.2L281.2,147.6M281.2,147.6L290.0,145.9M290.0,145.9L295.3,143.2M295.3,143.2L298.8,146.8M298.8,146.8L307.6,148.5M307.6,148.5L316.5,146.2M316.5,146.2L320.9,145.0M320.9,145.0L327.1,147.3M327.1,147.3L334.1,149.8M334.1,149.8L341.2,151.5M341.2,151.5L351.8,152.6M351.8,152.6L356.2,151.2M356.2,151.2L360.6,146.2M360.6,146.2L369.4,144.5M369.4,144.5L373.8,146.8M373.8,146.8L372.9,151.2M372.9,151.2L381.8,151.5M381.8,151.5L388.8,152.6M388.8,152.6L397.6,151.2M397.6,151.2L402.9,152.9M402.9,152.9L410.0,156.5M410.0,156.5L418.8,158.2M418.8,158.2L422.3,152.9M422.3,152.9L429.4,152.1M429.4,152.1L436.5,151.2M436.5,151.2L440.0,150.3M325.3,102.6L330.6,101.4M330.6,101.4L337.6,102.1M337.6,102.1L339.4,105.3M339.4,105.3L334.1,108.5M334.1,108.5L327.9,107.1M327.9,107.1L325.3,102.6M422.3,123.8L427.6,122.1M427.6,122.1L432.0,124.7M432.0,124.7L429.4,127.9M429.4,127.9L423.2,127.4M423.2,127.4L422.3,123.8M393.2,136.2L397.6,135.3M397.6,135.3L399.4,137.9M399.4,137.9L395.0,139.2M395.0,139.2L393.2,136.2M267.9,104.9L271.5,104.4M271.5,104.4L272.0,107.1M272.0,107.1L268.5,107.4M268.5,107.4L267.9,104.9M260.0,162.6L267.1,161.8M267.1,161.8L275.9,163.5M275.9,163.5L281.2,167.9M281.2,167.9L282.9,174.1M282.9,174.1L288.2,177.6M288.2,177.6L304.1,177.6M304.1,177.6L318.2,179.4M318.2,179.4L330.6,180.8M330.6,180.8L333.2,183.8M333.2,183.8L327.1,186.5M327.1,186.5L312.9,188.2M312.9,188.2L295.3,187.3M295.3,187.3L286.5,189.1M286.5,189.1L286.5,190.0M292.6,159.1L298.8,156.5M298.8,156.5L311.2,156.1M311.2,156.1L320.0,154.7M320.0,154.7L320.9,156.8M320.9,156.8L312.9,160.9M312.9,160.9L312.1,163.5M312.1,163.5L304.1,164.4M304.1,164.4L295.3,162.6M295.3,162.6L292.6,159.1M304.1,169.7L307.6,166.2M307.6,166.2L314.7,163.9M314.7,163.9L327.1,163.2M327.1,163.2L337.6,164.9M337.6,164.9L348.2,166.7M348.2,166.7L355.3,167.9M355.3,167.9L357.9,172.3M357.9,172.3L356.2,176.8M356.2,176.8L348.2,178.0M348.2,178.0L339.4,176.8M339.4,176.8L334.1,173.2M334.1,173.2L327.1,170.6M327.1,170.6L318.2,172.3M318.2,172.3L311.2,173.2M311.2,173.2L305.9,172.3M305.9,172.3L304.1,169.7M365.9,186.5L371.2,182.9M371.2,182.9L378.2,180.3M378.2,180.3L381.8,183.8M381.8,183.8L380.0,187.3M380.0,187.3L372.9,190.0M365.9,190.0L365.9,186.5M340.3,187.3L348.2,185.6M348.2,185.6L355.3,188.2M355.3,188.2L353.5,190.0M340.3,190.0L340.3,187.3M436.5,182.9L440.0,182.1M437.3,187.3L436.5,182.9" fill="none" stroke="#e6deea" stroke-width="0.8" stroke-dasharray="1.2 2"/>
<rect x="260.0" y="190" width="180.5" height="91" fill="url(#p1B)"/>
<polygon points="260.0,190.0 284.7,190.0 289.1,193.5 286.5,197.1 277.6,198.8 270.6,197.9 267.1,202.4 260.0,200.6" fill="url(#p1R)"/>
<polygon points="260.0,213.8 270.6,212.1 282.9,211.2 295.3,210.3 304.1,206.8 311.2,203.2 318.2,200.6 327.1,197.9 330.6,193.5 335.9,190.0 346.5,190.0 348.2,191.8 365.9,192.1 380.0,192.6 387.1,196.2 395.9,195.3 397.6,199.7 392.3,205.0 387.1,209.4 381.8,212.9 374.7,214.7 367.6,219.1 363.2,223.5 365.9,230.9 372.9,229.7 383.5,227.9 394.1,227.1 401.2,227.9 411.8,226.2 422.3,224.4 432.9,223.5 440.0,224.4 440.0,240.3 432.9,242.1 425.9,240.3 418.8,242.1 410.0,241.2 402.9,242.9 397.6,239.4 390.6,238.5 383.5,237.6 376.5,239.4 369.4,238.5 365.9,242.9 358.8,243.8 353.5,241.2 348.2,237.6 342.9,240.3 337.6,242.1 330.6,242.9 327.1,240.3 320.0,241.2 312.9,242.9 309.4,239.4 302.4,237.6 295.3,238.5 290.0,242.1 282.9,244.7 275.9,248.2 268.8,250.0 265.3,246.5 260.0,243.8" fill="url(#p1R)"/>
<polygon points="388.8,218.2 397.6,216.5 406.5,216.5 410.0,219.1 401.2,220.9 390.6,220.9" fill="url(#p1R)"/>
<polygon points="411.8,216.5 417.0,214.7 418.8,218.2 413.5,219.1" fill="url(#p1R)"/>
<polygon points="429.4,211.2 436.5,207.6 440.0,206.8 440.0,214.7 434.7,215.6" fill="url(#p1R)"/>
<polygon points="372.9,215.6 383.5,213.8 387.1,216.5 380.0,219.1 372.9,219.1" fill="url(#p1R)"/>
<polygon points="436.5,190.0 440.0,190.0 440.0,195.3 437.3,194.4" fill="url(#p1R)"/>
<polygon points="327.1,212.1 334.1,209.1 342.1,210.3 343.8,214.7 337.6,218.2 330.6,217.9" fill="url(#p1B)"/>
<polygon points="314.7,223.5 323.5,222.6 327.1,226.2 321.8,227.9 315.6,227.1" fill="url(#p1B)"/>
<polygon points="316.5,232.4 321.8,230.9 325.3,233.8 320.0,235.5" fill="url(#p1B)"/>
<polygon points="348.2,227.9 355.3,229.7 358.8,233.2 351.8,234.1" fill="url(#p1B)"/>
<polygon points="392.3,230.6 399.4,229.7 401.2,233.2 394.1,234.1" fill="url(#p1B)"/>
<polygon points="402.9,236.8 413.5,235.0 418.8,236.8 410.0,239.4" fill="url(#p1B)"/>
<path d="M284.7,190.0L289.1,193.5M289.1,193.5L286.5,197.1M286.5,197.1L277.6,198.8M277.6,198.8L270.6,197.9M270.6,197.9L267.1,202.4M267.1,202.4L260.0,200.6M260.0,213.8L270.6,212.1M270.6,212.1L282.9,211.2M282.9,211.2L295.3,210.3M295.3,210.3L304.1,206.8M304.1,206.8L311.2,203.2M311.2,203.2L318.2,200.6M318.2,200.6L327.1,197.9M327.1,197.9L330.6,193.5M330.6,193.5L335.9,190.0M346.5,190.0L348.2,191.8M348.2,191.8L365.9,192.1M365.9,192.1L380.0,192.6M380.0,192.6L387.1,196.2M387.1,196.2L395.9,195.3M395.9,195.3L397.6,199.7M397.6,199.7L392.3,205.0M392.3,205.0L387.1,209.4M387.1,209.4L381.8,212.9M381.8,212.9L374.7,214.7M374.7,214.7L367.6,219.1M367.6,219.1L363.2,223.5M363.2,223.5L365.9,230.9M365.9,230.9L372.9,229.7M372.9,229.7L383.5,227.9M383.5,227.9L394.1,227.1M394.1,227.1L401.2,227.9M401.2,227.9L411.8,226.2M411.8,226.2L422.3,224.4M422.3,224.4L432.9,223.5M432.9,223.5L440.0,224.4M440.0,240.3L432.9,242.1M432.9,242.1L425.9,240.3M425.9,240.3L418.8,242.1M418.8,242.1L410.0,241.2M410.0,241.2L402.9,242.9M402.9,242.9L397.6,239.4M397.6,239.4L390.6,238.5M390.6,238.5L383.5,237.6M383.5,237.6L376.5,239.4M376.5,239.4L369.4,238.5M369.4,238.5L365.9,242.9M365.9,242.9L358.8,243.8M358.8,243.8L353.5,241.2M353.5,241.2L348.2,237.6M348.2,237.6L342.9,240.3M342.9,240.3L337.6,242.1M337.6,242.1L330.6,242.9M330.6,242.9L327.1,240.3M327.1,240.3L320.0,241.2M320.0,241.2L312.9,242.9M312.9,242.9L309.4,239.4M309.4,239.4L302.4,237.6M302.4,237.6L295.3,238.5M295.3,238.5L290.0,242.1M290.0,242.1L282.9,244.7M282.9,244.7L275.9,248.2M275.9,248.2L268.8,250.0M268.8,250.0L265.3,246.5M265.3,246.5L260.0,243.8M388.8,218.2L397.6,216.5M397.6,216.5L406.5,216.5M406.5,216.5L410.0,219.1M410.0,219.1L401.2,220.9M401.2,220.9L390.6,220.9M390.6,220.9L388.8,218.2M411.8,216.5L417.0,214.7M417.0,214.7L418.8,218.2M418.8,218.2L413.5,219.1M413.5,219.1L411.8,216.5M429.4,211.2L436.5,207.6M436.5,207.6L440.0,206.8M440.0,214.7L434.7,215.6M434.7,215.6L429.4,211.2M372.9,215.6L383.5,213.8M383.5,213.8L387.1,216.5M387.1,216.5L380.0,219.1M380.0,219.1L372.9,219.1M372.9,219.1L372.9,215.6M327.1,212.1L334.1,209.1M334.1,209.1L342.1,210.3M342.1,210.3L343.8,214.7M343.8,214.7L337.6,218.2M337.6,218.2L330.6,217.9M330.6,217.9L327.1,212.1M314.7,223.5L323.5,222.6M323.5,222.6L327.1,226.2M327.1,226.2L321.8,227.9M321.8,227.9L315.6,227.1M315.6,227.1L314.7,223.5M316.5,232.4L321.8,230.9M321.8,230.9L325.3,233.8M325.3,233.8L320.0,235.5M320.0,235.5L316.5,232.4M348.2,227.9L355.3,229.7M355.3,229.7L358.8,233.2M358.8,233.2L351.8,234.1M351.8,234.1L348.2,227.9M392.3,230.6L399.4,229.7M399.4,229.7L401.2,233.2M401.2,233.2L394.1,234.1M394.1,234.1L392.3,230.6M402.9,236.8L413.5,235.0M413.5,235.0L418.8,236.8M418.8,236.8L410.0,239.4M410.0,239.4L402.9,236.8" fill="none" stroke="#e6deea" stroke-width="0.8" stroke-dasharray="1.2 2"/>
<polygon points="457.6,105.3 468.2,103.5 482.4,106.2 492.9,107.1 496.5,111.5 489.4,114.1 482.4,113.2 475.3,117.6 468.2,119.4 470.0,115.0 475.3,110.6 466.5,108.8" fill="url(#p1B)"/>
<polygon points="494.7,112.4 501.8,110.6 505.3,112.4 498.2,114.5" fill="url(#p1B)"/>
<polygon points="538.8,133.5 544.1,128.2 545.9,122.9 552.9,121.2 556.5,124.7 555.6,130.0 551.2,133.5 552.9,137.1 545.9,141.5 540.6,140.6" fill="url(#p1B)"/>
<polygon points="510.6,133.5 515.9,130.0 524.7,128.2 535.3,126.5 538.8,128.2 531.8,130.9 522.9,132.6 515.9,135.3" fill="url(#p1B)"/>
<polygon points="492.9,135.3 500.0,131.8 507.1,132.6 501.8,136.2 494.7,137.4" fill="url(#p1B)"/>
<polygon points="448.8,135.3 455.9,134.4 457.6,137.9 450.6,139.2" fill="url(#p1B)"/>
<polygon points="462.1,137.9 468.2,137.1 469.1,139.7 462.9,140.2" fill="url(#p1B)"/>
<polygon points="484.1,129.1 489.4,127.4 491.2,130.4 485.9,131.8" fill="url(#p1B)"/>
<polygon points="517.6,150.3 522.9,149.4 523.8,152.6 518.5,152.9" fill="url(#p1B)"/>
<polygon points="440.0,154.7 447.1,153.8 455.9,157.3 466.5,159.1 475.3,160.9 484.1,162.6 489.4,160.9 496.5,163.5 507.1,162.6 515.9,161.8 522.9,158.2 526.5,162.6 533.5,167.9 540.6,174.1 543.2,181.2 538.8,184.7 531.8,186.5 528.2,190.0 440.0,190.0" fill="url(#p1B)"/>
<polygon points="569.7,101.8 581.2,100.9 598.8,102.6 620.0,105.3 620.0,107.9 598.8,106.2 581.2,104.4 569.7,105.3" fill="url(#p1B)"/>
<polygon points="569.7,109.7 581.2,108.8 598.8,112.4 612.9,117.6 620.0,121.2 620.0,123.8 609.4,120.3 595.3,115.9 581.2,112.7 569.7,113.2" fill="url(#p1B)"/>
<polygon points="569.7,121.2 577.6,122.1 584.7,124.7 581.2,127.4 572.3,125.6" fill="url(#p1B)"/>
<polygon points="569.7,130.0 574.1,130.9 576.8,137.9 574.1,143.2 570.6,141.5" fill="url(#p1B)"/>
<polygon points="581.2,135.3 586.5,134.4 591.8,140.6 590.0,145.0 584.7,144.1" fill="url(#p1B)"/>
<polygon points="597.0,128.2 602.3,130.0 605.9,135.3 602.3,138.8 598.8,134.4" fill="url(#p1B)"/>
<polygon points="609.4,130.9 614.7,130.0 618.2,135.3 613.8,137.9" fill="url(#p1B)"/>
<polygon points="615.6,137.9 620.0,137.1 620.0,144.1 616.5,143.2" fill="url(#p1B)"/>
<polygon points="598.8,156.5 605.9,153.8 608.5,157.3 602.3,160.0" fill="url(#p1B)"/>
<polygon points="582.1,159.1 587.3,157.3 588.2,160.9 583.8,162.1" fill="url(#p1B)"/>
<polygon points="561.8,181.2 567.1,178.5 570.6,181.2 570.6,187.3 563.5,188.2 560.9,184.7" fill="url(#p1B)"/>
<polygon points="572.3,177.6 581.2,175.9 591.8,177.6 598.8,180.3 605.9,182.9 612.9,185.6 620.0,184.7 620.0,190.0 577.6,190.0 575.9,184.7" fill="url(#p1B)"/>
<polygon points="472.6,177.6 479.7,176.2 485.0,180.3 486.8,184.7 477.9,185.6 473.5,182.1" fill="url(#p1R)"/>
<polygon points="498.2,185.6 510.6,184.3 517.6,186.1 517.6,190.0 498.2,190.0" fill="url(#p1R)"/>
<polygon points="450.6,186.1 459.4,184.7 466.5,186.8 461.2,190.0 448.8,190.0" fill="url(#p1R)"/>
<polygon points="440.0,182.9 445.3,181.2 447.1,185.6 440.0,188.2" fill="url(#p1R)"/>
<path d="M457.6,105.3L468.2,103.5M468.2,103.5L482.4,106.2M482.4,106.2L492.9,107.1M492.9,107.1L496.5,111.5M496.5,111.5L489.4,114.1M489.4,114.1L482.4,113.2M482.4,113.2L475.3,117.6M475.3,117.6L468.2,119.4M468.2,119.4L470.0,115.0M470.0,115.0L475.3,110.6M475.3,110.6L466.5,108.8M466.5,108.8L457.6,105.3M494.7,112.4L501.8,110.6M501.8,110.6L505.3,112.4M505.3,112.4L498.2,114.5M498.2,114.5L494.7,112.4M538.8,133.5L544.1,128.2M544.1,128.2L545.9,122.9M545.9,122.9L552.9,121.2M552.9,121.2L556.5,124.7M556.5,124.7L555.6,130.0M555.6,130.0L551.2,133.5M551.2,133.5L552.9,137.1M552.9,137.1L545.9,141.5M545.9,141.5L540.6,140.6M540.6,140.6L538.8,133.5M510.6,133.5L515.9,130.0M515.9,130.0L524.7,128.2M524.7,128.2L535.3,126.5M535.3,126.5L538.8,128.2M538.8,128.2L531.8,130.9M531.8,130.9L522.9,132.6M522.9,132.6L515.9,135.3M515.9,135.3L510.6,133.5M492.9,135.3L500.0,131.8M500.0,131.8L507.1,132.6M507.1,132.6L501.8,136.2M501.8,136.2L494.7,137.4M494.7,137.4L492.9,135.3M448.8,135.3L455.9,134.4M455.9,134.4L457.6,137.9M457.6,137.9L450.6,139.2M450.6,139.2L448.8,135.3M462.1,137.9L468.2,137.1M468.2,137.1L469.1,139.7M469.1,139.7L462.9,140.2M462.9,140.2L462.1,137.9M484.1,129.1L489.4,127.4M489.4,127.4L491.2,130.4M491.2,130.4L485.9,131.8M485.9,131.8L484.1,129.1M517.6,150.3L522.9,149.4M522.9,149.4L523.8,152.6M523.8,152.6L518.5,152.9M518.5,152.9L517.6,150.3M440.0,154.7L447.1,153.8M447.1,153.8L455.9,157.3M455.9,157.3L466.5,159.1M466.5,159.1L475.3,160.9M475.3,160.9L484.1,162.6M484.1,162.6L489.4,160.9M489.4,160.9L496.5,163.5M496.5,163.5L507.1,162.6M507.1,162.6L515.9,161.8M515.9,161.8L522.9,158.2M522.9,158.2L526.5,162.6M526.5,162.6L533.5,167.9M533.5,167.9L540.6,174.1M540.6,174.1L543.2,181.2M543.2,181.2L538.8,184.7M538.8,184.7L531.8,186.5M531.8,186.5L528.2,190.0M569.7,101.8L581.2,100.9M581.2,100.9L598.8,102.6M598.8,102.6L620.0,105.3M620.0,107.9L598.8,106.2M598.8,106.2L581.2,104.4M581.2,104.4L569.7,105.3M569.7,105.3L569.7,101.8M569.7,109.7L581.2,108.8M581.2,108.8L598.8,112.4M598.8,112.4L612.9,117.6M612.9,117.6L620.0,121.2M620.0,123.8L609.4,120.3M609.4,120.3L595.3,115.9M595.3,115.9L581.2,112.7M581.2,112.7L569.7,113.2M569.7,113.2L569.7,109.7M569.7,121.2L577.6,122.1M577.6,122.1L584.7,124.7M584.7,124.7L581.2,127.4M581.2,127.4L572.3,125.6M572.3,125.6L569.7,121.2M569.7,130.0L574.1,130.9M574.1,130.9L576.8,137.9M576.8,137.9L574.1,143.2M574.1,143.2L570.6,141.5M570.6,141.5L569.7,130.0M581.2,135.3L586.5,134.4M586.5,134.4L591.8,140.6M591.8,140.6L590.0,145.0M590.0,145.0L584.7,144.1M584.7,144.1L581.2,135.3M597.0,128.2L602.3,130.0M602.3,130.0L605.9,135.3M605.9,135.3L602.3,138.8M602.3,138.8L598.8,134.4M598.8,134.4L597.0,128.2M609.4,130.9L614.7,130.0M614.7,130.0L618.2,135.3M618.2,135.3L613.8,137.9M613.8,137.9L609.4,130.9M615.6,137.9L620.0,137.1M620.0,144.1L616.5,143.2M616.5,143.2L615.6,137.9M598.8,156.5L605.9,153.8M605.9,153.8L608.5,157.3M608.5,157.3L602.3,160.0M602.3,160.0L598.8,156.5M582.1,159.1L587.3,157.3M587.3,157.3L588.2,160.9M588.2,160.9L583.8,162.1M583.8,162.1L582.1,159.1M561.8,181.2L567.1,178.5M567.1,178.5L570.6,181.2M570.6,181.2L570.6,187.3M570.6,187.3L563.5,188.2M563.5,188.2L560.9,184.7M560.9,184.7L561.8,181.2M572.3,177.6L581.2,175.9M581.2,175.9L591.8,177.6M591.8,177.6L598.8,180.3M598.8,180.3L605.9,182.9M605.9,182.9L612.9,185.6M612.9,185.6L620.0,184.7M577.6,190.0L575.9,184.7M575.9,184.7L572.3,177.6M472.6,177.6L479.7,176.2M479.7,176.2L485.0,180.3M485.0,180.3L486.8,184.7M486.8,184.7L477.9,185.6M477.9,185.6L473.5,182.1M473.5,182.1L472.6,177.6M498.2,185.6L510.6,184.3M510.6,184.3L517.6,186.1M517.6,186.1L517.6,190.0M498.2,190.0L498.2,185.6M450.6,186.1L459.4,184.7M459.4,184.7L466.5,186.8M466.5,186.8L461.2,190.0M448.8,190.0L450.6,186.1M440.0,182.9L445.3,181.2M445.3,181.2L447.1,185.6M447.1,185.6L440.0,188.2" fill="none" stroke="#e6deea" stroke-width="0.8" stroke-dasharray="1.2 2"/>
<rect x="440.0" y="190" width="129.8" height="91" fill="url(#p1B)"/>
<polygon points="440.0,190.0 452.4,190.0 459.4,193.5 461.2,197.9 452.4,199.7 443.5,197.9 440.0,198.8" fill="url(#p1R)"/>
<polygon points="440.0,205.9 443.5,205.0 445.3,208.5 440.0,210.3" fill="url(#p1R)"/>
<polygon points="497.3,190.0 519.4,190.0 520.3,195.3 514.1,197.9 507.1,195.3 501.8,199.7 497.3,197.1" fill="url(#p1R)"/>
<polygon points="440.0,227.9 445.3,223.5 454.1,222.6 462.9,220.9 471.8,221.8 480.6,217.4 491.2,216.5 498.2,219.1 505.3,216.5 510.6,211.2 519.4,208.5 528.2,205.9 535.3,202.4 542.3,199.7 549.4,196.2 554.7,191.8 563.5,190.0 569.3,190.0 569.3,220.0 563.5,222.6 552.9,224.4 545.9,227.9 538.8,226.2 531.8,227.9 524.7,227.1 519.4,230.6 522.9,234.1 531.8,236.8 538.8,234.1 542.3,237.6 535.3,241.2 528.2,242.1 521.2,242.9 514.1,240.3 507.1,241.2 501.8,239.4 500.0,235.0 507.1,233.2 501.8,232.4 492.9,233.2 485.9,235.0 478.8,239.4 471.8,237.6 466.5,241.2 457.6,241.2 450.6,242.1 447.1,238.5 440.0,241.2" fill="url(#p1R)"/>
<polygon points="549.4,236.8 555.6,235.9 556.5,238.5 550.3,239.4" fill="url(#p1R)"/>
<polygon points="526.5,227.9 535.3,226.2 538.8,229.7 533.5,232.4 528.2,231.5" fill="url(#p1B)"/>
<path d="M452.4,190.0L459.4,193.5M459.4,193.5L461.2,197.9M461.2,197.9L452.4,199.7M452.4,199.7L443.5,197.9M443.5,197.9L440.0,198.8M440.0,205.9L443.5,205.0M443.5,205.0L445.3,208.5M445.3,208.5L440.0,210.3M519.4,190.0L520.3,195.3M520.3,195.3L514.1,197.9M514.1,197.9L507.1,195.3M507.1,195.3L501.8,199.7M501.8,199.7L497.3,197.1M497.3,197.1L497.3,190.0M440.0,227.9L445.3,223.5M445.3,223.5L454.1,222.6M454.1,222.6L462.9,220.9M462.9,220.9L471.8,221.8M471.8,221.8L480.6,217.4M480.6,217.4L491.2,216.5M491.2,216.5L498.2,219.1M498.2,219.1L505.3,216.5M505.3,216.5L510.6,211.2M510.6,211.2L519.4,208.5M519.4,208.5L528.2,205.9M528.2,205.9L535.3,202.4M535.3,202.4L542.3,199.7M542.3,199.7L549.4,196.2M549.4,196.2L554.7,191.8M554.7,191.8L563.5,190.0M569.3,220.0L563.5,222.6M563.5,222.6L552.9,224.4M552.9,224.4L545.9,227.9M545.9,227.9L538.8,226.2M538.8,226.2L531.8,227.9M531.8,227.9L524.7,227.1M524.7,227.1L519.4,230.6M519.4,230.6L522.9,234.1M522.9,234.1L531.8,236.8M531.8,236.8L538.8,234.1M538.8,234.1L542.3,237.6M542.3,237.6L535.3,241.2M535.3,241.2L528.2,242.1M528.2,242.1L521.2,242.9M521.2,242.9L514.1,240.3M514.1,240.3L507.1,241.2M507.1,241.2L501.8,239.4M501.8,239.4L500.0,235.0M500.0,235.0L507.1,233.2M507.1,233.2L501.8,232.4M501.8,232.4L492.9,233.2M492.9,233.2L485.9,235.0M485.9,235.0L478.8,239.4M478.8,239.4L471.8,237.6M471.8,237.6L466.5,241.2M466.5,241.2L457.6,241.2M457.6,241.2L450.6,242.1M450.6,242.1L447.1,238.5M447.1,238.5L440.0,241.2M549.4,236.8L555.6,235.9M555.6,235.9L556.5,238.5M556.5,238.5L550.3,239.4M550.3,239.4L549.4,236.8M526.5,227.9L535.3,226.2M535.3,226.2L538.8,229.7M538.8,229.7L533.5,232.4M533.5,232.4L528.2,231.5M528.2,231.5L526.5,227.9" fill="none" stroke="#e6deea" stroke-width="0.8" stroke-dasharray="1.2 2"/>
<polygon points="620.0,105.4 630.7,104.5 646.8,105.4 662.8,107.1 671.7,109.8 673.5,114.3 668.2,116.1 662.8,112.5 652.1,109.8 637.8,108.0 620.0,108.0" fill="url(#p1B)"/>
<polygon points="620.0,112.5 630.7,111.6 645.0,114.3 655.7,117.0 658.4,118.7 652.1,118.7 641.4,116.1 630.7,114.3 620.0,115.2" fill="url(#p1B)"/>
<polygon points="653.9,133.0 661.0,131.2 670.0,133.9 675.3,134.8 680.7,132.1 686.9,131.2 684.2,135.7 678.9,138.4 680.7,141.9 691.4,141.0 698.5,139.3 702.1,142.8 698.5,145.5 687.8,144.6 677.1,144.6 670.0,142.8 662.8,139.3 655.7,137.5" fill="url(#p1B)"/>
<polygon points="635.2,131.2 639.6,130.3 640.5,133.9 636.1,134.3" fill="url(#p1B)"/>
<polygon points="620.0,138.4 622.7,137.5 623.6,141.0 620.0,141.9" fill="url(#p1B)"/>
<polygon points="638.7,141.0 643.2,140.1 644.1,142.8 639.6,143.2" fill="url(#p1B)"/>
<polygon points="707.4,147.3 712.8,143.7 719.9,144.6 727.1,143.7 734.2,144.6 737.8,147.3 730.6,150.0 719.9,150.0 711.0,150.3" fill="url(#p1B)"/>
<polygon points="734.2,135.7 741.3,133.0 748.5,126.8 752.0,122.3 757.4,121.4 761.0,125.0 757.4,129.4 753.8,133.0 759.2,134.8 762.7,138.4 761.0,143.7 755.6,146.4 750.3,150.0 744.9,148.2 739.5,144.6 734.2,141.9" fill="url(#p1B)"/>
<polygon points="737.8,122.3 744.9,119.6 750.3,120.5 744.9,123.2 739.5,124.1" fill="url(#p1B)"/>
<polygon points="752.0,114.3 757.4,113.4 759.2,116.1 753.8,117.0" fill="url(#p1B)"/>
<polygon points="766.3,145.5 773.5,142.8 780.6,141.0 787.7,141.9 791.3,137.5 789.5,132.1 794.0,129.4 798.4,133.9 799.3,142.8 791.3,145.5 780.6,146.7 773.5,149.1 768.1,148.5" fill="url(#p1B)"/>
<polygon points="777.0,152.6 782.4,150.9 785.9,153.5 780.6,156.2" fill="url(#p1B)"/>
<polygon points="788.6,154.4 799.3,153.5 799.3,161.6 793.1,159.8" fill="url(#p1B)"/>
<polygon points="795.8,113.4 799.3,112.5 799.3,117.8 796.6,117.8" fill="url(#p1B)"/>
<polygon points="630.7,161.6 636.1,160.7 643.2,164.2 652.1,165.1 658.4,168.7 666.4,171.4 677.1,172.3 686.0,171.4 688.7,174.9 687.8,180.3 680.7,183.9 673.5,182.1 666.4,183.9 659.3,183.0 652.1,185.6 645.0,183.9 637.8,187.4 630.7,185.6 625.4,187.4 623.6,183.9 632.5,180.3 639.6,176.7 645.0,171.4 639.6,166.9 632.5,165.1" fill="url(#p1B)"/>
<polygon points="671.7,164.2 678.9,162.5 688.7,163.9 689.6,167.8 680.7,168.7 673.5,168.2" fill="url(#p1B)"/>
<polygon points="694.9,168.7 698.5,167.8 699.4,171.4 695.8,171.7" fill="url(#p1B)"/>
<polygon points="696.7,180.3 702.1,178.5 703.9,183.0 700.3,187.4 694.9,191.0 694.0,185.6" fill="url(#p1B)"/>
<polygon points="709.2,183.9 716.4,181.2 717.2,184.8 711.0,187.4" fill="url(#p1B)"/>
<polygon points="769.9,171.4 777.0,169.6 787.7,168.7 799.3,171.4 799.3,183.9 791.3,185.6 785.9,182.1 778.8,178.5 771.7,176.7" fill="url(#p1B)"/>
<path d="M620.0,105.4L630.7,104.5M630.7,104.5L646.8,105.4M646.8,105.4L662.8,107.1M662.8,107.1L671.7,109.8M671.7,109.8L673.5,114.3M673.5,114.3L668.2,116.1M668.2,116.1L662.8,112.5M662.8,112.5L652.1,109.8M652.1,109.8L637.8,108.0M637.8,108.0L620.0,108.0M620.0,112.5L630.7,111.6M630.7,111.6L645.0,114.3M645.0,114.3L655.7,117.0M655.7,117.0L658.4,118.7M658.4,118.7L652.1,118.7M652.1,118.7L641.4,116.1M641.4,116.1L630.7,114.3M630.7,114.3L620.0,115.2M653.9,133.0L661.0,131.2M661.0,131.2L670.0,133.9M670.0,133.9L675.3,134.8M675.3,134.8L680.7,132.1M680.7,132.1L686.9,131.2M686.9,131.2L684.2,135.7M684.2,135.7L678.9,138.4M678.9,138.4L680.7,141.9M680.7,141.9L691.4,141.0M691.4,141.0L698.5,139.3M698.5,139.3L702.1,142.8M702.1,142.8L698.5,145.5M698.5,145.5L687.8,144.6M687.8,144.6L677.1,144.6M677.1,144.6L670.0,142.8M670.0,142.8L662.8,139.3M662.8,139.3L655.7,137.5M655.7,137.5L653.9,133.0M635.2,131.2L639.6,130.3M639.6,130.3L640.5,133.9M640.5,133.9L636.1,134.3M636.1,134.3L635.2,131.2M620.0,138.4L622.7,137.5M622.7,137.5L623.6,141.0M623.6,141.0L620.0,141.9M638.7,141.0L643.2,140.1M643.2,140.1L644.1,142.8M644.1,142.8L639.6,143.2M639.6,143.2L638.7,141.0M707.4,147.3L712.8,143.7M712.8,143.7L719.9,144.6M719.9,144.6L727.1,143.7M727.1,143.7L734.2,144.6M734.2,144.6L737.8,147.3M737.8,147.3L730.6,150.0M730.6,150.0L719.9,150.0M719.9,150.0L711.0,150.3M711.0,150.3L707.4,147.3M734.2,135.7L741.3,133.0M741.3,133.0L748.5,126.8M748.5,126.8L752.0,122.3M752.0,122.3L757.4,121.4M757.4,121.4L761.0,125.0M761.0,125.0L757.4,129.4M757.4,129.4L753.8,133.0M753.8,133.0L759.2,134.8M759.2,134.8L762.7,138.4M762.7,138.4L761.0,143.7M761.0,143.7L755.6,146.4M755.6,146.4L750.3,150.0M750.3,150.0L744.9,148.2M744.9,148.2L739.5,144.6M739.5,144.6L734.2,141.9M734.2,141.9L734.2,135.7M737.8,122.3L744.9,119.6M744.9,119.6L750.3,120.5M750.3,120.5L744.9,123.2M744.9,123.2L739.5,124.1M739.5,124.1L737.8,122.3M752.0,114.3L757.4,113.4M757.4,113.4L759.2,116.1M759.2,116.1L753.8,117.0M753.8,117.0L752.0,114.3M766.3,145.5L773.5,142.8M773.5,142.8L780.6,141.0M780.6,141.0L787.7,141.9M787.7,141.9L791.3,137.5M791.3,137.5L789.5,132.1M789.5,132.1L794.0,129.4M794.0,129.4L798.4,133.9M798.4,133.9L799.3,142.8M799.3,142.8L791.3,145.5M791.3,145.5L780.6,146.7M780.6,146.7L773.5,149.1M773.5,149.1L768.1,148.5M768.1,148.5L766.3,145.5M777.0,152.6L782.4,150.9M782.4,150.9L785.9,153.5M785.9,153.5L780.6,156.2M780.6,156.2L777.0,152.6M788.6,154.4L799.3,153.5M799.3,161.6L793.1,159.8M793.1,159.8L788.6,154.4M795.8,113.4L799.3,112.5M799.3,117.8L796.6,117.8M796.6,117.8L795.8,113.4M630.7,161.6L636.1,160.7M636.1,160.7L643.2,164.2M643.2,164.2L652.1,165.1M652.1,165.1L658.4,168.7M658.4,168.7L666.4,171.4M666.4,171.4L677.1,172.3M677.1,172.3L686.0,171.4M686.0,171.4L688.7,174.9M688.7,174.9L687.8,180.3M687.8,180.3L680.7,183.9M680.7,183.9L673.5,182.1M673.5,182.1L666.4,183.9M666.4,183.9L659.3,183.0M659.3,183.0L652.1,185.6M652.1,185.6L645.0,183.9M645.0,183.9L637.8,187.4M637.8,187.4L630.7,185.6M630.7,185.6L625.4,187.4M625.4,187.4L623.6,183.9M623.6,183.9L632.5,180.3M632.5,180.3L639.6,176.7M639.6,176.7L645.0,171.4M645.0,171.4L639.6,166.9M639.6,166.9L632.5,165.1M632.5,165.1L630.7,161.6M671.7,164.2L678.9,162.5M678.9,162.5L688.7,163.9M688.7,163.9L689.6,167.8M689.6,167.8L680.7,168.7M680.7,168.7L673.5,168.2M673.5,168.2L671.7,164.2M694.9,168.7L698.5,167.8M698.5,167.8L699.4,171.4M699.4,171.4L695.8,171.7M695.8,171.7L694.9,168.7M696.7,180.3L702.1,178.5M702.1,178.5L703.9,183.0M703.9,183.0L700.3,187.4M700.3,187.4L694.9,191.0M694.9,191.0L694.0,185.6M694.0,185.6L696.7,180.3M709.2,183.9L716.4,181.2M716.4,181.2L717.2,184.8M717.2,184.8L711.0,187.4M711.0,187.4L709.2,183.9M769.9,171.4L777.0,169.6M777.0,169.6L787.7,168.7M787.7,168.7L799.3,171.4M799.3,183.9L791.3,185.6M791.3,185.6L785.9,182.1M785.9,182.1L778.8,178.5M778.8,178.5L771.7,176.7M771.7,176.7L769.9,171.4" fill="none" stroke="#e6deea" stroke-width="0.8" stroke-dasharray="1.2 2"/>
<rect x="620.0" y="190" width="182.5" height="91" fill="url(#p1B)"/>
<polygon points="709.2,190.0 799.3,190.0 799.3,193.6 791.3,197.1 787.7,202.5 780.6,204.3 769.9,203.4 762.7,206.1 755.6,205.2 744.9,204.3 734.2,205.2 727.1,207.0 719.9,204.3 716.4,198.9 712.8,195.4" fill="url(#p1R)"/>
<polygon points="762.7,207.8 773.5,207.0 784.2,206.1 799.3,204.3 799.3,222.1 791.3,223.0 780.6,220.3 771.7,222.1 764.5,221.2 762.7,216.8 768.1,213.2" fill="url(#p1R)"/>
<polygon points="620.0,190.0 705.6,190.0 709.2,197.1 703.9,200.7 694.9,199.8 687.8,202.5 678.9,201.6 670.0,204.3 659.3,203.4 648.5,207.0 637.8,207.8 627.1,211.4 620.0,213.2" fill="url(#p1R)"/>
<polygon points="655.7,225.7 666.4,223.0 678.9,221.2 691.4,219.4 700.3,216.8 707.4,218.5 703.9,223.0 694.9,225.7 684.2,228.4 673.5,230.1 662.8,231.9 655.7,230.1" fill="url(#p1R)"/>
<polygon points="625.4,232.8 636.1,230.1 646.8,228.4 650.3,231.0 639.6,234.6 628.9,236.4" fill="url(#p1R)"/>
<polygon points="691.4,213.2 698.5,211.4 705.6,212.3 702.1,215.0 694.9,215.9" fill="url(#p1R)"/>
<polygon points="668.2,207.8 678.9,207.0 684.2,208.7 677.1,211.4 670.0,211.1" fill="url(#p1R)"/>
<polygon points="694.9,204.3 700.3,203.4 701.2,207.0 695.8,207.5" fill="url(#p1R)"/>
<polygon points="716.4,220.3 723.5,218.5 734.2,216.8 744.9,215.0 752.0,216.8 753.8,221.2 748.5,224.8 741.3,227.5 734.2,228.4 727.1,226.6 719.9,225.7" fill="url(#p1R)"/>
<polygon points="732.4,243.5 741.3,240.9 748.5,240.9 744.9,244.4 736.0,248.0 730.6,248.9" fill="url(#p1R)"/>
<polygon points="752.0,243.5 762.7,241.7 768.1,237.3 777.0,235.5 787.7,232.8 799.3,231.9 799.3,236.4 787.7,238.2 777.0,240.9 769.9,243.5 761.0,246.2 753.8,247.1" fill="url(#p1R)"/>
<polygon points="777.0,248.9 784.2,247.1 785.9,249.8 778.8,251.6" fill="url(#p1R)"/>
<polygon points="787.7,241.7 798.4,240.0 799.3,243.5 789.5,244.4" fill="url(#p1R)"/>
<polygon points="789.5,248.9 799.3,247.1 799.3,251.6 791.3,252.5" fill="url(#p1R)"/>
<polygon points="722.6,270.3 728.8,266.7 736.0,269.4 744.9,273.0 752.0,275.6 744.9,277.4 734.2,275.6 725.3,274.8" fill="url(#p1R)"/>
<polygon points="709.2,273.9 716.4,273.0 719.9,276.5 712.8,278.3" fill="url(#p1R)"/>
<polygon points="762.7,270.3 769.9,268.5 773.5,271.2 766.3,273.0" fill="url(#p1R)"/>
<polygon points="643.2,197.1 655.7,195.4 670.0,194.5 673.5,196.2 659.3,198.0 646.8,199.8" fill="url(#p1B)"/>
<polygon points="630.7,202.5 643.2,200.7 655.7,199.8 657.5,201.1 645.0,202.8 632.5,204.6" fill="url(#p1B)"/>
<polygon points="673.5,198.0 687.8,197.1 689.6,198.9 675.3,199.8" fill="url(#p1B)"/>
<path d="M799.3,193.6L791.3,197.1M791.3,197.1L787.7,202.5M787.7,202.5L780.6,204.3M780.6,204.3L769.9,203.4M769.9,203.4L762.7,206.1M762.7,206.1L755.6,205.2M755.6,205.2L744.9,204.3M744.9,204.3L734.2,205.2M734.2,205.2L727.1,207.0M727.1,207.0L719.9,204.3M719.9,204.3L716.4,198.9M716.4,198.9L712.8,195.4M712.8,195.4L709.2,190.0M762.7,207.8L773.5,207.0M773.5,207.0L784.2,206.1M784.2,206.1L799.3,204.3M799.3,222.1L791.3,223.0M791.3,223.0L780.6,220.3M780.6,220.3L771.7,222.1M771.7,222.1L764.5,221.2M764.5,221.2L762.7,216.8M762.7,216.8L768.1,213.2M768.1,213.2L762.7,207.8M705.6,190.0L709.2,197.1M709.2,197.1L703.9,200.7M703.9,200.7L694.9,199.8M694.9,199.8L687.8,202.5M687.8,202.5L678.9,201.6M678.9,201.6L670.0,204.3M670.0,204.3L659.3,203.4M659.3,203.4L648.5,207.0M648.5,207.0L637.8,207.8M637.8,207.8L627.1,211.4M627.1,211.4L620.0,213.2M655.7,225.7L666.4,223.0M666.4,223.0L678.9,221.2M678.9,221.2L691.4,219.4M691.4,219.4L700.3,216.8M700.3,216.8L707.4,218.5M707.4,218.5L703.9,223.0M703.9,223.0L694.9,225.7M694.9,225.7L684.2,228.4M684.2,228.4L673.5,230.1M673.5,230.1L662.8,231.9M662.8,231.9L655.7,230.1M655.7,230.1L655.7,225.7M625.4,232.8L636.1,230.1M636.1,230.1L646.8,228.4M646.8,228.4L650.3,231.0M650.3,231.0L639.6,234.6M639.6,234.6L628.9,236.4M628.9,236.4L625.4,232.8M691.4,213.2L698.5,211.4M698.5,211.4L705.6,212.3M705.6,212.3L702.1,215.0M702.1,215.0L694.9,215.9M694.9,215.9L691.4,213.2M668.2,207.8L678.9,207.0M678.9,207.0L684.2,208.7M684.2,208.7L677.1,211.4M677.1,211.4L670.0,211.1M670.0,211.1L668.2,207.8M694.9,204.3L700.3,203.4M700.3,203.4L701.2,207.0M701.2,207.0L695.8,207.5M695.8,207.5L694.9,204.3M716.4,220.3L723.5,218.5M723.5,218.5L734.2,216.8M734.2,216.8L744.9,215.0M744.9,215.0L752.0,216.8M752.0,216.8L753.8,221.2M753.8,221.2L748.5,224.8M748.5,224.8L741.3,227.5M741.3,227.5L734.2,228.4M734.2,228.4L727.1,226.6M727.1,226.6L719.9,225.7M719.9,225.7L716.4,220.3M732.4,243.5L741.3,240.9M741.3,240.9L748.5,240.9M748.5,240.9L744.9,244.4M744.9,244.4L736.0,248.0M736.0,248.0L730.6,248.9M730.6,248.9L732.4,243.5M752.0,243.5L762.7,241.7M762.7,241.7L768.1,237.3M768.1,237.3L777.0,235.5M777.0,235.5L787.7,232.8M787.7,232.8L799.3,231.9M799.3,236.4L787.7,238.2M787.7,238.2L777.0,240.9M777.0,240.9L769.9,243.5M769.9,243.5L761.0,246.2M761.0,246.2L753.8,247.1M753.8,247.1L752.0,243.5M777.0,248.9L784.2,247.1M784.2,247.1L785.9,249.8M785.9,249.8L778.8,251.6M778.8,251.6L777.0,248.9M787.7,241.7L798.4,240.0M798.4,240.0L799.3,243.5M799.3,243.5L789.5,244.4M789.5,244.4L787.7,241.7M789.5,248.9L799.3,247.1M799.3,251.6L791.3,252.5M791.3,252.5L789.5,248.9M722.6,270.3L728.8,266.7M728.8,266.7L736.0,269.4M736.0,269.4L744.9,273.0M744.9,273.0L752.0,275.6M752.0,275.6L744.9,277.4M744.9,277.4L734.2,275.6M734.2,275.6L725.3,274.8M725.3,274.8L722.6,270.3M709.2,273.9L716.4,273.0M716.4,273.0L719.9,276.5M719.9,276.5L712.8,278.3M712.8,278.3L709.2,273.9M762.7,270.3L769.9,268.5M769.9,268.5L773.5,271.2M773.5,271.2L766.3,273.0M766.3,273.0L762.7,270.3M643.2,197.1L655.7,195.4M655.7,195.4L670.0,194.5M670.0,194.5L673.5,196.2M673.5,196.2L659.3,198.0M659.3,198.0L646.8,199.8M646.8,199.8L643.2,197.1M630.7,202.5L643.2,200.7M643.2,200.7L655.7,199.8M655.7,199.8L657.5,201.1M657.5,201.1L645.0,202.8M645.0,202.8L632.5,204.6M632.5,204.6L630.7,202.5M673.5,198.0L687.8,197.1M687.8,197.1L689.6,198.9M689.6,198.9L675.3,199.8M675.3,199.8L673.5,198.0" fill="none" stroke="#e6deea" stroke-width="0.8" stroke-dasharray="1.2 2"/>
<defs>
<pattern id="stp" width="40" height="3.3" patternUnits="userSpaceOnUse" patternTransform="rotate(-3)"><rect width="40" height="3.3" fill="#8886fb"/><rect width="40" height="1.8" fill="#fa888d"/></pattern>
<pattern id="stp2" width="40" height="5" patternUnits="userSpaceOnUse" patternTransform="rotate(-10)"><rect width="40" height="5" fill="#8181fd"/><rect width="40" height="1.6" fill="#fa888d"/></pattern>
<linearGradient id="p1bl" x1="0" y1="0" x2="0" y2="1"><stop offset="0" stop-color="#8484fa"/><stop offset="0.45" stop-color="#8181fd"/><stop offset="1" stop-color="#9a9afe"/></linearGradient>
<pattern id="stp3" width="60" height="4.6" patternUnits="userSpaceOnUse" patternTransform="rotate(-13)"><rect width="60" height="2.1" fill="#fa888d"/></pattern>
</defs>
<rect x="569.3" y="190" width="51.2" height="31" fill="#fd8b8b"/>
<rect x="569.3" y="221" width="51.2" height="23" fill="url(#stp2)"/>
<rect x="569.3" y="244" width="51.2" height="34" fill="url(#stp)"/>
<rect x="569.3" y="278" width="51.2" height="3" fill="#8181fd"/>
<polygon points="571.0,194.0 590.0,193.0 591.0,196.0 571.0,197.0" fill="#8181fd"/>
<polygon points="571.0,200.0 592.0,198.0 593.0,201.0 571.0,203.0" fill="#8181fd"/>
<polygon points="590.0,213.0 620.0,211.0 620.0,221.0 592.0,221.0" fill="#8181fd"/>
<polygon points="571.0,216.0 583.0,215.0 583.0,221.0 571.0,221.0" fill="#8181fd"/>
<polygon points="620.0,218.0 645.0,212.0 673.5,210.0 709.2,213.2 719.9,221.2 712.8,236.4 703.9,252.5 698.5,279.2 620.0,279.2" fill="url(#stp3)"/>
<g filter="url(#b3)">
<ellipse cx="126" cy="185" rx="7" ry="4" fill="#f83c3c" opacity="1"/>
<ellipse cx="220" cy="166" rx="30" ry="5" fill="#f83c3c" opacity="0.5"/>
<ellipse cx="239" cy="171" rx="9" ry="5" fill="#f83c3c" opacity="0.8"/>
<ellipse cx="87" cy="194.5" rx="4" ry="3" fill="#f83c3c" opacity="1"/>
<ellipse cx="312" cy="169" rx="8" ry="4" fill="#f83c3c" opacity="1"/>
<ellipse cx="337" cy="171" rx="22" ry="6" fill="#f83c3c" opacity="0.55"/>
<ellipse cx="352" cy="206" rx="9" ry="5" fill="#f83c3c" opacity="0.8"/>
<ellipse cx="552" cy="182" rx="7" ry="4" fill="#f83c3c" opacity="1"/>
<ellipse cx="673" cy="169" rx="10" ry="3" fill="#f83c3c" opacity="0.9"/>
<ellipse cx="760" cy="176" rx="26" ry="9" fill="#f83c3c" opacity="0.75"/>
<ellipse cx="773" cy="208.5" rx="8" ry="2.5" fill="#f83c3c" opacity="0.9"/>
<ellipse cx="443" cy="192" rx="5" ry="3" fill="#f83c3c" opacity="0.9"/>
<ellipse cx="140" cy="186.5" rx="9" ry="4" fill="#2828f0" opacity="1"/>
<ellipse cx="82" cy="178" rx="4" ry="7" fill="#2828f0" opacity="1"/>
<ellipse cx="252" cy="173.5" rx="8" ry="3.5" fill="#2828f0" opacity="0.9"/>
<ellipse cx="319" cy="175" rx="9" ry="3.5" fill="#2828f0" opacity="1"/>
<ellipse cx="366" cy="175" rx="10" ry="5" fill="#2828f0" opacity="0.8"/>
<ellipse cx="335" cy="214" rx="7" ry="3.5" fill="#2828f0" opacity="0.9"/>
<ellipse cx="324" cy="192" rx="8" ry="3" fill="#2828f0" opacity="0.7"/>
<ellipse cx="430" cy="197" rx="7" ry="4" fill="#2828f0" opacity="0.7"/>
<ellipse cx="566" cy="183" rx="5" ry="5" fill="#2828f0" opacity="1"/>
<ellipse cx="680" cy="165.5" rx="8" ry="3" fill="#2828f0" opacity="1"/>
<ellipse cx="790" cy="177" rx="12" ry="6" fill="#2828f0" opacity="0.9"/>
<ellipse cx="797" cy="177" rx="5" ry="3" fill="#2828f0" opacity="1"/>
<ellipse cx="760" cy="212.5" rx="5" ry="3" fill="#2828f0" opacity="0.9"/>
<ellipse cx="798" cy="195" rx="3" ry="3" fill="#2828f0" opacity="0.8"/>
<ellipse cx="81.5" cy="194" rx="2" ry="3" fill="#2828f0" opacity="1"/>
</g>
<filter id="mott" x="0" y="0" width="1" height="1" color-interpolation-filters="sRGB"><feTurbulence type="fractalNoise" baseFrequency="0.045 0.09" numOctaves="3" seed="11"/><feColorMatrix type="matrix" values="0 0 0 0 1  0 0 0 0 1  0 0 0 0 1  2.0 0 0 0 -0.7"/></filter>
<rect x="80" y="100" width="721" height="181" filter="url(#mott)" opacity="0.5"/>
</g>
<text x="80" y="87" font-size="16" text-anchor="start" >0</text>
<text x="135" y="87" font-size="16" text-anchor="start" >30</text>
<rect x="140" y="95" width="1" height="4" fill="#000"/>
<text x="195" y="87" font-size="16" text-anchor="start" >60</text>
<rect x="200" y="95" width="1" height="4" fill="#000"/>
<text x="255" y="87" font-size="16" text-anchor="start" >90</text>
<rect x="260" y="95" width="1" height="4" fill="#000"/>
<text x="310" y="87" font-size="16" text-anchor="start" >120</text>
<rect x="320" y="95" width="1" height="4" fill="#000"/>
<text x="370" y="87" font-size="16" text-anchor="start" >150</text>
<rect x="380" y="95" width="1" height="4" fill="#000"/>
<text x="430" y="87" font-size="16" text-anchor="start" >180</text>
<rect x="440" y="95" width="1" height="4" fill="#000"/>
<text x="490" y="87" font-size="16" text-anchor="start" >210</text>
<rect x="500" y="95" width="1" height="4" fill="#000"/>
<text x="550" y="87" font-size="16" text-anchor="start" >240</text>
<rect x="560" y="95" width="1" height="4" fill="#000"/>
<text x="610" y="87" font-size="16" text-anchor="start" >270</text>
<rect x="620" y="95" width="1" height="4" fill="#000"/>
<text x="670" y="87" font-size="16" text-anchor="start" >300</text>
<rect x="680" y="95" width="1" height="4" fill="#000"/>
<text x="730" y="87" font-size="16" text-anchor="start" >330</text>
<rect x="740" y="95" width="1" height="4" fill="#000"/>
<text x="790" y="87" font-size="16" text-anchor="start" >360</text>
<text x="55" y="110" font-size="16" text-anchor="start" >90</text>
<text x="815" y="110" font-size="16" text-anchor="start" >90</text>
<text x="55" y="140" font-size="16" text-anchor="start" >60</text>
<text x="815" y="140" font-size="16" text-anchor="start" >60</text>
<rect x="75" y="130" width="3" height="1" fill="#000"/>
<rect x="803" y="130" width="2" height="1" fill="#000"/>
<text x="55" y="170" font-size="16" text-anchor="start" >30</text>
<text x="815" y="170" font-size="16" text-anchor="start" >30</text>
<rect x="75" y="160" width="3" height="1" fill="#000"/>
<rect x="803" y="160" width="2" height="1" fill="#000"/>
<text x="60" y="200" font-size="16" text-anchor="start" >0</text>
<text x="820" y="200" font-size="16" text-anchor="start" >0</text>
<text x="50" y="230" font-size="16" text-anchor="start" >-30</text>
<text x="810" y="230" font-size="16" text-anchor="start" >-30</text>
<rect x="75" y="220" width="3" height="1" fill="#000"/>
<rect x="803" y="220" width="2" height="1" fill="#000"/>
<text x="50" y="260" font-size="16" text-anchor="start" >-60</text>
<text x="810" y="260" font-size="16" text-anchor="start" >-60</text>
<rect x="75" y="250" width="3" height="1" fill="#000"/>
<rect x="803" y="250" width="2" height="1" fill="#000"/>
<text x="50" y="290" font-size="16" text-anchor="start" >-90</text>
<text x="810" y="290" font-size="16" text-anchor="start" >-90</text>
<rect x="78" y="99" width="725" height="1" fill="#000"/>
<rect x="78" y="99" width="2" height="183" fill="#000"/>
<rect x="801" y="99" width="2" height="183" fill="#000"/>
<rect x="78" y="280.4" width="725" height="1.6" fill="#000"/>
<rect x="784" y="282" width="1" height="8" fill="#000"/>
<text x="766.7" y="307.5" font-size="16" text-anchor="start" >10</text>
<rect x="758" y="282" width="1" height="3" fill="#000"/>
<rect x="731" y="282" width="1" height="3" fill="#000"/>
<rect x="705" y="282" width="1" height="3" fill="#000"/>
<rect x="679" y="282" width="1" height="3" fill="#000"/>
<rect x="652" y="282" width="1" height="8" fill="#000"/>
<text x="634.7" y="307.5" font-size="16" text-anchor="start" >15</text>
<rect x="626" y="282" width="1" height="3" fill="#000"/>
<rect x="599" y="282" width="1" height="3" fill="#000"/>
<rect x="573" y="282" width="1" height="3" fill="#000"/>
<rect x="547" y="282" width="1" height="3" fill="#000"/>
<rect x="520" y="282" width="1" height="8" fill="#000"/>
<text x="502.7" y="307.5" font-size="16" text-anchor="start" >20</text>
<rect x="494" y="282" width="1" height="3" fill="#000"/>
<rect x="467" y="282" width="1" height="3" fill="#000"/>
<rect x="441" y="282" width="1" height="3" fill="#000"/>
<rect x="415" y="282" width="1" height="3" fill="#000"/>
<rect x="388" y="282" width="1" height="8" fill="#000"/>
<text x="370.7" y="307.5" font-size="16" text-anchor="start" >25</text>
<rect x="362" y="282" width="1" height="3" fill="#000"/>
<rect x="335" y="282" width="1" height="3" fill="#000"/>
<rect x="309" y="282" width="1" height="3" fill="#000"/>
<rect x="283" y="282" width="1" height="3" fill="#000"/>
<rect x="256" y="282" width="1" height="8" fill="#000"/>
<text x="238.7" y="307.5" font-size="16" text-anchor="start" >30</text>
<rect x="230" y="282" width="1" height="3" fill="#000"/>
<rect x="203" y="282" width="1" height="16.5" fill="#000"/>
<rect x="177" y="282" width="1" height="3" fill="#000"/>
<rect x="151" y="282" width="1" height="3" fill="#000"/>
<rect x="124" y="282" width="1" height="3" fill="#000"/>
<rect x="98" y="282" width="1" height="8" fill="#000"/>
<text x="80.3" y="307.5" font-size="16" text-anchor="start" >5</text>
<text x="80.5" y="325" font-size="16" text-anchor="start" >Jun</text>
<text x="440" y="329.7" font-size="16" text-anchor="start" >2016</text>
<text x="730.5" y="329.3" font-size="16" text-anchor="start" >Nr:2177</text>
<text x="800" y="325" font-size="16" text-anchor="start" >May</text>
<text x="80" y="347" font-size="16" text-anchor="start" >0</text>
<text x="135" y="347" font-size="16" text-anchor="start" >30</text>
<rect x="140" y="355" width="1" height="4" fill="#000"/>
<text x="195" y="347" font-size="16" text-anchor="start" >60</text>
<rect x="200" y="355" width="1" height="4" fill="#000"/>
<text x="255" y="347" font-size="16" text-anchor="start" >90</text>
<rect x="260" y="355" width="1" height="4" fill="#000"/>
<text x="310" y="347" font-size="16" text-anchor="start" >120</text>
<rect x="320" y="355" width="1" height="4" fill="#000"/>
<text x="370" y="347" font-size="16" text-anchor="start" >150</text>
<rect x="380" y="355" width="1" height="4" fill="#000"/>
<text x="430" y="347" font-size="16" text-anchor="start" >180</text>
<rect x="440" y="355" width="1" height="4" fill="#000"/>
<text x="490" y="347" font-size="16" text-anchor="start" >210</text>
<rect x="500" y="355" width="1" height="4" fill="#000"/>
<text x="550" y="347" font-size="16" text-anchor="start" >240</text>
<rect x="560" y="355" width="1" height="4" fill="#000"/>
<text x="610" y="347" font-size="16" text-anchor="start" >270</text>
<rect x="620" y="355" width="1" height="4" fill="#000"/>
<text x="670" y="347" font-size="16" text-anchor="start" >300</text>
<rect x="680" y="355" width="1" height="4" fill="#000"/>
<text x="730" y="347" font-size="16" text-anchor="start" >330</text>
<rect x="740" y="355" width="1" height="4" fill="#000"/>
<text x="790" y="347" font-size="16" text-anchor="start" >360</text>
<text x="55" y="370" font-size="16" text-anchor="start" >90</text>
<text x="815" y="370" font-size="16" text-anchor="start" >90</text>
<text x="55" y="400" font-size="16" text-anchor="start" >60</text>
<text x="815" y="400" font-size="16" text-anchor="start" >60</text>
<rect x="75" y="390" width="3" height="1" fill="#000"/>
<rect x="803" y="390" width="2" height="1" fill="#000"/>
<text x="55" y="430" font-size="16" text-anchor="start" >30</text>
<text x="815" y="430" font-size="16" text-anchor="start" >30</text>
<rect x="75" y="420" width="3" height="1" fill="#000"/>
<rect x="803" y="420" width="2" height="1" fill="#000"/>
<text x="60" y="460" font-size="16" text-anchor="start" >0</text>
<text x="820" y="460" font-size="16" text-anchor="start" >0</text>
<text x="50" y="490" font-size="16" text-anchor="start" >-30</text>
<text x="810" y="490" font-size="16" text-anchor="start" >-30</text>
<rect x="75" y="480" width="3" height="1" fill="#000"/>
<rect x="803" y="480" width="2" height="1" fill="#000"/>
<text x="50" y="520" font-size="16" text-anchor="start" >-60</text>
<text x="810" y="520" font-size="16" text-anchor="start" >-60</text>
<rect x="75" y="510" width="3" height="1" fill="#000"/>
<rect x="803" y="510" width="2" height="1" fill="#000"/>
<text x="50" y="550" font-size="16" text-anchor="start" >-90</text>
<text x="810" y="550" font-size="16" text-anchor="start" >-90</text>
<rect x="78" y="359" width="725" height="1" fill="#000"/>
<rect x="78" y="359" width="2" height="183" fill="#000"/>
<rect x="801" y="359" width="2" height="183" fill="#000"/>
<rect x="78" y="540.4" width="725" height="1.6" fill="#000"/>
<rect x="784" y="542" width="1" height="8" fill="#000"/>
<text x="766.7" y="567.5" font-size="16" text-anchor="start" >10</text>
<rect x="758" y="542" width="1" height="3" fill="#000"/>
<rect x="731" y="542" width="1" height="3" fill="#000"/>
<rect x="705" y="542" width="1" height="3" fill="#000"/>
<rect x="679" y="542" width="1" height="3" fill="#000"/>
<rect x="652" y="542" width="1" height="8" fill="#000"/>
<text x="634.7" y="567.5" font-size="16" text-anchor="start" >15</text>
<rect x="626" y="542" width="1" height="3" fill="#000"/>
<rect x="599" y="542" width="1" height="3" fill="#000"/>
<rect x="573" y="542" width="1" height="3" fill="#000"/>
<rect x="547" y="542" width="1" height="3" fill="#000"/>
<rect x="520" y="542" width="1" height="8" fill="#000"/>
<text x="502.7" y="567.5" font-size="16" text-anchor="start" >20</text>
<rect x="494" y="542" width="1" height="3" fill="#000"/>
<rect x="467" y="542" width="1" height="3" fill="#000"/>
<rect x="441" y="542" width="1" height="3" fill="#000"/>
<rect x="415" y="542" width="1" height="3" fill="#000"/>
<rect x="388" y="542" width="1" height="8" fill="#000"/>
<text x="370.7" y="567.5" font-size="16" text-anchor="start" >25</text>
<rect x="362" y="542" width="1" height="3" fill="#000"/>
<rect x="335" y="542" width="1" height="3" fill="#000"/>
<rect x="309" y="542" width="1" height="3" fill="#000"/>
<rect x="283" y="542" width="1" height="3" fill="#000"/>
<rect x="256" y="542" width="1" height="8" fill="#000"/>
<text x="238.7" y="567.5" font-size="16" text-anchor="start" >30</text>
<rect x="230" y="542" width="1" height="3" fill="#000"/>
<rect x="203" y="542" width="1" height="16.5" fill="#000"/>
<rect x="177" y="542" width="1" height="3" fill="#000"/>
<rect x="151" y="542" width="1" height="3" fill="#000"/>
<rect x="124" y="542" width="1" height="3" fill="#000"/>
<rect x="98" y="542" width="1" height="8" fill="#000"/>
<text x="80.3" y="567.5" font-size="16" text-anchor="start" >5</text>
<text x="80" y="607" font-size="16" text-anchor="start" >0</text>
<text x="135" y="607" font-size="16" text-anchor="start" >30</text>
<rect x="140" y="615" width="1" height="4" fill="#000"/>
<text x="195" y="607" font-size="16" text-anchor="start" >60</text>
<rect x="200" y="615" width="1" height="4" fill="#000"/>
<text x="255" y="607" font-size="16" text-anchor="start" >90</text>
<rect x="260" y="615" width="1" height="4" fill="#000"/>
<text x="310" y="607" font-size="16" text-anchor="start" >120</text>
<rect x="320" y="615" width="1" height="4" fill="#000"/>
<text x="370" y="607" font-size="16" text-anchor="start" >150</text>
<rect x="380" y="615" width="1" height="4" fill="#000"/>
<text x="430" y="607" font-size="16" text-anchor="start" >180</text>
<rect x="440" y="615" width="1" height="4" fill="#000"/>
<text x="490" y="607" font-size="16" text-anchor="start" >210</text>
<rect x="500" y="615" width="1" height="4" fill="#000"/>
<text x="550" y="607" font-size="16" text-anchor="start" >240</text>
<rect x="560" y="615" width="1" height="4" fill="#000"/>
<text x="610" y="607" font-size="16" text-anchor="start" >270</text>
<rect x="620" y="615" width="1" height="4" fill="#000"/>
<text x="670" y="607" font-size="16" text-anchor="start" >300</text>
<rect x="680" y="615" width="1" height="4" fill="#000"/>
<text x="730" y="607" font-size="16" text-anchor="start" >330</text>
<rect x="740" y="615" width="1" height="4" fill="#000"/>
<text x="790" y="607" font-size="16" text-anchor="start" >360</text>
<text x="55" y="630" font-size="16" text-anchor="start" >90</text>
<text x="815" y="630" font-size="16" text-anchor="start" >90</text>
<text x="55" y="660" font-size="16" text-anchor="start" >60</text>
<text x="815" y="660" font-size="16" text-anchor="start" >60</text>
<rect x="75" y="650" width="3" height="1" fill="#000"/>
<rect x="803" y="650" width="2" height="1" fill="#000"/>
<text x="55" y="690" font-size="16" text-anchor="start" >30</text>
<text x="815" y="690" font-size="16" text-anchor="start" >30</text>
<rect x="75" y="680" width="3" height="1" fill="#000"/>
<rect x="803" y="680" width="2" height="1" fill="#000"/>
<text x="60" y="720" font-size="16" text-anchor="start" >0</text>
<text x="820" y="720" font-size="16" text-anchor="start" >0</text>
<text x="50" y="750" font-size="16" text-anchor="start" >-30</text>
<text x="810" y="750" font-size="16" text-anchor="start" >-30</text>
<rect x="75" y="740" width="3" height="1" fill="#000"/>
<rect x="803" y="740" width="2" height="1" fill="#000"/>
<text x="50" y="780" font-size="16" text-anchor="start" >-60</text>
<text x="810" y="780" font-size="16" text-anchor="start" >-60</text>
<rect x="75" y="770" width="3" height="1" fill="#000"/>
<rect x="803" y="770" width="2" height="1" fill="#000"/>
<text x="50" y="810" font-size="16" text-anchor="start" >-90</text>
<text x="810" y="810" font-size="16" text-anchor="start" >-90</text>
<rect x="78" y="619" width="725" height="1" fill="#000"/>
<rect x="78" y="619" width="2" height="183" fill="#000"/>
<rect x="801" y="619" width="2" height="183" fill="#000"/>
<rect x="78" y="800.4" width="725" height="1.6" fill="#000"/>
<rect x="784" y="802" width="1" height="8" fill="#000"/>
<text x="766.7" y="827.5" font-size="16" text-anchor="start" >10</text>
<rect x="758" y="802" width="1" height="3" fill="#000"/>
<rect x="731" y="802" width="1" height="3" fill="#000"/>
<rect x="705" y="802" width="1" height="3" fill="#000"/>
<rect x="679" y="802" width="1" height="3" fill="#000"/>
<rect x="652" y="802" width="1" height="8" fill="#000"/>
<text x="634.7" y="827.5" font-size="16" text-anchor="start" >15</text>
<rect x="626" y="802" width="1" height="3" fill="#000"/>
<rect x="599" y="802" width="1" height="3" fill="#000"/>
<rect x="573" y="802" width="1" height="3" fill="#000"/>
<rect x="547" y="802" width="1" height="3" fill="#000"/>
<rect x="520" y="802" width="1" height="8" fill="#000"/>
<text x="502.7" y="827.5" font-size="16" text-anchor="start" >20</text>
<rect x="494" y="802" width="1" height="3" fill="#000"/>
<rect x="467" y="802" width="1" height="3" fill="#000"/>
<rect x="441" y="802" width="1" height="3" fill="#000"/>
<rect x="415" y="802" width="1" height="3" fill="#000"/>
<rect x="388" y="802" width="1" height="8" fill="#000"/>
<text x="370.7" y="827.5" font-size="16" text-anchor="start" >25</text>
<rect x="362" y="802" width="1" height="3" fill="#000"/>
<rect x="335" y="802" width="1" height="3" fill="#000"/>
<rect x="309" y="802" width="1" height="3" fill="#000"/>
<rect x="283" y="802" width="1" height="3" fill="#000"/>
<rect x="256" y="802" width="1" height="8" fill="#000"/>
<text x="238.7" y="827.5" font-size="16" text-anchor="start" >30</text>
<rect x="230" y="802" width="1" height="3" fill="#000"/>
<rect x="203" y="802" width="1" height="16.5" fill="#000"/>
<rect x="177" y="802" width="1" height="3" fill="#000"/>
<rect x="151" y="802" width="1" height="3" fill="#000"/>
<rect x="124" y="802" width="1" height="3" fill="#000"/>
<rect x="98" y="802" width="1" height="8" fill="#000"/>
<text x="80.3" y="827.5" font-size="16" text-anchor="start" >5</text>
<text x="80" y="867" font-size="16" text-anchor="start" >0</text>
<text x="135" y="867" font-size="16" text-anchor="start" >30</text>
<rect x="140" y="875" width="1" height="4" fill="#000"/>
<text x="195" y="867" font-size="16" text-anchor="start" >60</text>
<rect x="200" y="875" width="1" height="4" fill="#000"/>
<text x="255" y="867" font-size="16" text-anchor="start" >90</text>
<rect x="260" y="875" width="1" height="4" fill="#000"/>
<text x="310" y="867" font-size="16" text-anchor="start" >120</text>
<rect x="320" y="875" width="1" height="4" fill="#000"/>
<text x="370" y="867" font-size="16" text-anchor="start" >150</text>
<rect x="380" y="875" width="1" height="4" fill="#000"/>
<text x="430" y="867" font-size="16" text-anchor="start" >180</text>
<rect x="440" y="875" width="1" height="4" fill="#000"/>
<text x="490" y="867" font-size="16" text-anchor="start" >210</text>
<rect x="500" y="875" width="1" height="4" fill="#000"/>
<text x="550" y="867" font-size="16" text-anchor="start" >240</text>
<rect x="560" y="875" width="1" height="4" fill="#000"/>
<text x="610" y="867" font-size="16" text-anchor="start" >270</text>
<rect x="620" y="875" width="1" height="4" fill="#000"/>
<text x="670" y="867" font-size="16" text-anchor="start" >300</text>
<rect x="680" y="875" width="1" height="4" fill="#000"/>
<text x="730" y="867" font-size="16" text-anchor="start" >330</text>
<rect x="740" y="875" width="1" height="4" fill="#000"/>
<text x="790" y="867" font-size="16" text-anchor="start" >360</text>
<text x="55" y="890" font-size="16" text-anchor="start" >90</text>
<text x="815" y="890" font-size="16" text-anchor="start" >90</text>
<text x="55" y="920" font-size="16" text-anchor="start" >60</text>
<text x="815" y="920" font-size="16" text-anchor="start" >60</text>
<rect x="75" y="910" width="3" height="1" fill="#000"/>
<rect x="803" y="910" width="2" height="1" fill="#000"/>
<text x="55" y="950" font-size="16" text-anchor="start" >30</text>
<text x="815" y="950" font-size="16" text-anchor="start" >30</text>
<rect x="75" y="940" width="3" height="1" fill="#000"/>
<rect x="803" y="940" width="2" height="1" fill="#000"/>
<text x="60" y="980" font-size="16" text-anchor="start" >0</text>
<text x="820" y="980" font-size="16" text-anchor="start" >0</text>
<text x="50" y="1010" font-size="16" text-anchor="start" >-30</text>
<text x="810" y="1010" font-size="16" text-anchor="start" >-30</text>
<rect x="75" y="1000" width="3" height="1" fill="#000"/>
<rect x="803" y="1000" width="2" height="1" fill="#000"/>
<text x="50" y="1040" font-size="16" text-anchor="start" >-60</text>
<text x="810" y="1040" font-size="16" text-anchor="start" >-60</text>
<rect x="75" y="1030" width="3" height="1" fill="#000"/>
<rect x="803" y="1030" width="2" height="1" fill="#000"/>
<text x="50" y="1070" font-size="16" text-anchor="start" >-90</text>
<text x="810" y="1070" font-size="16" text-anchor="start" >-90</text>
<rect x="78" y="879" width="725" height="1" fill="#000"/>
<rect x="78" y="879" width="2" height="183" fill="#000"/>
<rect x="801" y="879" width="2" height="183" fill="#000"/>
<rect x="78" y="1060.4" width="725" height="1.6" fill="#000"/>
<rect x="784" y="1062" width="1" height="8" fill="#000"/>
<text x="766.7" y="1087.5" font-size="16" text-anchor="start" >10</text>
<rect x="758" y="1062" width="1" height="3" fill="#000"/>
<rect x="731" y="1062" width="1" height="3" fill="#000"/>
<rect x="705" y="1062" width="1" height="3" fill="#000"/>
<rect x="679" y="1062" width="1" height="3" fill="#000"/>
<rect x="652" y="1062" width="1" height="8" fill="#000"/>
<text x="634.7" y="1087.5" font-size="16" text-anchor="start" >15</text>
<rect x="626" y="1062" width="1" height="3" fill="#000"/>
<rect x="599" y="1062" width="1" height="3" fill="#000"/>
<rect x="573" y="1062" width="1" height="3" fill="#000"/>
<rect x="547" y="1062" width="1" height="3" fill="#000"/>
<rect x="520" y="1062" width="1" height="8" fill="#000"/>
<text x="502.7" y="1087.5" font-size="16" text-anchor="start" >20</text>
<rect x="494" y="1062" width="1" height="3" fill="#000"/>
<rect x="467" y="1062" width="1" height="3" fill="#000"/>
<rect x="441" y="1062" width="1" height="3" fill="#000"/>
<rect x="415" y="1062" width="1" height="3" fill="#000"/>
<rect x="388" y="1062" width="1" height="8" fill="#000"/>
<text x="370.7" y="1087.5" font-size="16" text-anchor="start" >25</text>
<rect x="362" y="1062" width="1" height="3" fill="#000"/>
<rect x="335" y="1062" width="1" height="3" fill="#000"/>
<rect x="309" y="1062" width="1" height="3" fill="#000"/>
<rect x="283" y="1062" width="1" height="3" fill="#000"/>
<rect x="256" y="1062" width="1" height="8" fill="#000"/>
<text x="238.7" y="1087.5" font-size="16" text-anchor="start" >30</text>
<rect x="230" y="1062" width="1" height="3" fill="#000"/>
<rect x="203" y="1062" width="1" height="16.5" fill="#000"/>
<rect x="177" y="1062" width="1" height="3" fill="#000"/>
<rect x="151" y="1062" width="1" height="3" fill="#000"/>
<rect x="124" y="1062" width="1" height="3" fill="#000"/>
<rect x="98" y="1062" width="1" height="8" fill="#000"/>
<text x="80.3" y="1087.5" font-size="16" text-anchor="start" >5</text>
<text x="80.5" y="1105" font-size="16" text-anchor="start" >Jun</text>
<text x="440" y="1109.7" font-size="16" text-anchor="start" >2016</text>
<text x="730.5" y="1109.3" font-size="16" text-anchor="start" >Nr:2177</text>
<text x="800" y="1105" font-size="16" text-anchor="start" >May</text>
<rect x="870" y="99.40" width="20" height="8.87" fill="#ff0000"/>
<rect x="870" y="107.97" width="20" height="8.87" fill="#ff1313"/>
<rect x="870" y="116.54" width="20" height="8.87" fill="#ff2626"/>
<rect x="870" y="125.11" width="20" height="8.87" fill="#ff3939"/>
<rect x="870" y="133.69" width="20" height="8.87" fill="#ff4c4c"/>
<rect x="870" y="142.26" width="20" height="8.87" fill="#ff5e5e"/>
<rect x="870" y="150.83" width="20" height="8.87" fill="#ff7171"/>
<rect x="870" y="159.40" width="20" height="8.87" fill="#ff8484"/>
<rect x="870" y="167.97" width="20" height="8.87" fill="#ff9797"/>
<rect x="870" y="176.54" width="20" height="8.87" fill="#ffaaaa"/>
<rect x="870" y="185.11" width="20" height="8.87" fill="#dcdcdc"/>
<rect x="870" y="193.69" width="20" height="8.87" fill="#aaaaff"/>
<rect x="870" y="202.26" width="20" height="8.87" fill="#9797ff"/>
<rect x="870" y="210.83" width="20" height="8.87" fill="#8484ff"/>
<rect x="870" y="219.40" width="20" height="8.87" fill="#7171ff"/>
<rect x="870" y="227.97" width="20" height="8.87" fill="#5e5eff"/>
<rect x="870" y="236.54" width="20" height="8.87" fill="#4c4cff"/>
<rect x="870" y="245.11" width="20" height="8.87" fill="#3939ff"/>
<rect x="870" y="253.69" width="20" height="8.87" fill="#2626ff"/>
<rect x="870" y="262.26" width="20" height="8.87" fill="#1313ff"/>
<rect x="870" y="270.83" width="20" height="8.87" fill="#0000ff"/>
<rect x="892" y="108" width="5" height="1" fill="#000"/>
<text x="900" y="112.4" font-size="12.7" text-anchor="start" >512</text>
<rect x="892" y="116" width="5" height="1" fill="#000"/>
<rect x="892" y="125" width="5" height="1" fill="#000"/>
<text x="900" y="129.5" font-size="12.7" text-anchor="start" >128</text>
<rect x="892" y="133" width="5" height="1" fill="#000"/>
<rect x="892" y="142" width="5" height="1" fill="#000"/>
<text x="900" y="146.7" font-size="12.7" text-anchor="start" >32</text>
<rect x="892" y="151" width="5" height="1" fill="#000"/>
<rect x="892" y="159" width="5" height="1" fill="#000"/>
<text x="900" y="163.8" font-size="12.7" text-anchor="start" >8</text>
<rect x="892" y="168" width="5" height="1" fill="#000"/>
<rect x="892" y="176" width="5" height="1" fill="#000"/>
<text x="900" y="180.9" font-size="12.7" text-anchor="start" >2</text>
<rect x="892" y="185" width="5" height="1" fill="#000"/>
<rect x="892" y="193" width="5" height="1" fill="#000"/>
<text x="900" y="198.1" font-size="12.7" text-anchor="start" >0</text>
<rect x="892" y="202" width="5" height="1" fill="#000"/>
<rect x="892" y="211" width="5" height="1" fill="#000"/>
<text x="900" y="215.2" font-size="12.7" text-anchor="start" >-2</text>
<rect x="892" y="219" width="5" height="1" fill="#000"/>
<rect x="892" y="228" width="5" height="1" fill="#000"/>
<text x="900" y="232.4" font-size="12.7" text-anchor="start" >-8</text>
<rect x="892" y="236" width="5" height="1" fill="#000"/>
<rect x="892" y="245" width="5" height="1" fill="#000"/>
<text x="900" y="249.5" font-size="12.7" text-anchor="start" >-32</text>
<rect x="892" y="253" width="5" height="1" fill="#000"/>
<rect x="892" y="262" width="5" height="1" fill="#000"/>
<text x="900" y="266.7" font-size="12.7" text-anchor="start" >-128</text>
<rect x="892" y="271" width="5" height="1" fill="#000"/>
<rect x="892" y="279" width="5" height="1" fill="#000"/>
<text x="900" y="283.8" font-size="12.7" text-anchor="start" >-512</text>
<text x="840" y="92.6" font-size="13" text-anchor="start" >Photospheric field Br</text>
<text x="950" y="202.6" font-size="13" text-anchor="start" >B, G</text>
<rect x="870" y="360" width="20.6" height="180.4" fill="url(#gv)"/>
<rect x="892.3" y="360" width="4.7" height="1" fill="#000"/>
<text x="900" y="369.6" font-size="16" text-anchor="start" >750</text>
<rect x="892.3" y="396" width="4.7" height="1" fill="#000"/>
<text x="900" y="405.6" font-size="16" text-anchor="start" >650</text>
<rect x="892.3" y="432" width="4.7" height="1" fill="#000"/>
<text x="900" y="441.6" font-size="16" text-anchor="start" >550</text>
<rect x="892.3" y="468" width="4.7" height="1" fill="#000"/>
<text x="900" y="477.6" font-size="16" text-anchor="start" >450</text>
<rect x="892.3" y="504" width="4.7" height="1" fill="#000"/>
<text x="900" y="513.6" font-size="16" text-anchor="start" >350</text>
<rect x="892.3" y="540" width="4.7" height="1" fill="#000"/>
<text x="900" y="549.6" font-size="16" text-anchor="start" >250</text>
<text x="840" y="354.5" font-size="16" text-anchor="start" letter-spacing="0.15">Derived coronal holes</text>
<text x="950" y="464.5" font-size="16" text-anchor="start" >km/s</text>
<rect x="870" y="620" width="20.6" height="180.4" fill="url(#gv)"/>
<rect x="892.3" y="620" width="4.7" height="1" fill="#000"/>
<text x="900" y="629.6" font-size="16" text-anchor="start" >750</text>
<rect x="892.3" y="656" width="4.7" height="1" fill="#000"/>
<text x="900" y="665.6" font-size="16" text-anchor="start" >650</text>
<rect x="892.3" y="692" width="4.7" height="1" fill="#000"/>
<text x="900" y="701.6" font-size="16" text-anchor="start" >550</text>
<rect x="892.3" y="728" width="4.7" height="1" fill="#000"/>
<text x="900" y="737.6" font-size="16" text-anchor="start" >450</text>
<rect x="892.3" y="764" width="4.7" height="1" fill="#000"/>
<text x="900" y="773.6" font-size="16" text-anchor="start" >350</text>
<rect x="892.3" y="800" width="4.7" height="1" fill="#000"/>
<text x="900" y="809.6" font-size="16" text-anchor="start" >250</text>
<text x="840" y="614.5" font-size="16" text-anchor="start" letter-spacing="0.15">Solar wind speed</text>
<text x="950" y="724.5" font-size="16" text-anchor="start" >V, km/s</text>
<rect x="870" y="880" width="20.6" height="180.4" fill="url(#gs)"/>
<rect x="892.3" y="880" width="4.7" height="1" fill="#000"/>
<text x="900" y="889.6" font-size="16" text-anchor="start" >0,32</text>
<rect x="892.3" y="916" width="4.7" height="1" fill="#000"/>
<text x="900" y="925.6" font-size="16" text-anchor="start" >0,17</text>
<rect x="892.3" y="952" width="4.7" height="1" fill="#000"/>
<text x="900" y="961.6" font-size="16" text-anchor="start" >0,02</text>
<rect x="892.3" y="988" width="4.7" height="1" fill="#000"/>
<text x="900" y="997.6" font-size="16" text-anchor="start" >-0,14</text>
<rect x="892.3" y="1024" width="4.7" height="1" fill="#000"/>
<text x="900" y="1033.6" font-size="16" text-anchor="start" >-0,29</text>
<rect x="892.3" y="1060" width="4.7" height="1" fill="#000"/>
<text x="900" y="1069.6" font-size="16" text-anchor="start" >-0,45</text>
<rect x="898" y="866" width="100" height="12.2" fill="#fff"/>
<text x="840" y="874.5" font-size="16" text-anchor="start" letter-spacing="0.39">Source surface field</text>
<text x="950" y="984.5" font-size="16" text-anchor="start" >Br, G</text>
<text x="20" y="1211.3" font-size="20" text-anchor="start" xml:space="preserve">Created  2016.05.15</text>
</svg></body></html>
